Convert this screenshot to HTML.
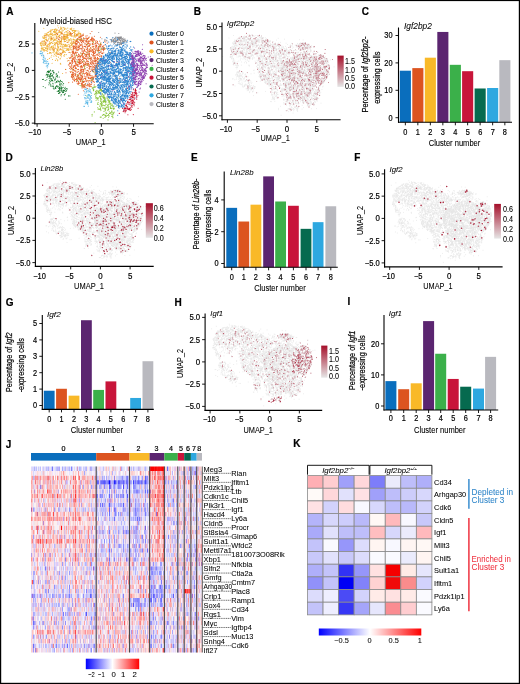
<!DOCTYPE html><html><head><meta charset="utf-8"><style>html,body{margin:0;padding:0;background:#fff;overflow:hidden}body{position:relative;width:520px;height:684px}svg{display:block}text{font-family:"Liberation Sans",sans-serif}</style></head><body><div style="will-change:transform;filter:blur(0.3px);width:520px;height:684px">
<svg width="520" height="684" viewBox="0 0 520 684" font-family="Liberation Sans" fill="#000">
<rect width="520" height="684" fill="#fff"/>
<defs>
<path id="p0" d="M133.8 81.3h0M102.6 60.7h0M105.7 100.0h0M99.7 64.5h0M107.1 71.5h0M128.3 63.1h0M114.2 70.1h0M112.3 69.1h0M121.9 48.9h0M121.2 58.6h0M120.0 53.0h0M127.2 90.6h0M124.8 90.5h0M101.6 72.8h0M130.8 56.2h0M118.2 71.5h0M113.8 106.0h0M135.3 56.7h0M112.7 73.4h0M98.4 76.1h0M121.3 61.1h0M115.0 75.1h0M107.0 92.1h0M117.2 76.6h0M123.3 69.5h0M118.1 100.3h0M106.0 56.1h0M111.4 63.3h0M110.2 87.8h0M124.2 50.4h0M109.6 45.9h0M121.8 62.1h0M124.0 42.3h0M114.2 69.3h0M104.1 57.3h0M120.6 47.4h0M128.0 54.7h0M115.2 75.0h0M131.6 65.9h0M116.1 64.7h0M113.8 56.8h0M125.8 70.4h0M110.6 96.9h0M111.1 69.8h0M130.7 66.0h0M132.9 77.5h0M100.1 78.4h0M106.5 87.6h0M111.9 53.2h0M124.6 107.3h0M122.7 47.0h0M112.7 53.1h0M124.0 84.7h0M129.4 62.9h0M112.5 70.6h0M109.7 80.8h0M127.6 52.0h0M135.4 72.9h0M101.3 83.7h0M133.4 67.2h0M116.9 82.3h0M107.1 54.5h0M129.7 79.8h0M121.1 97.5h0M121.0 78.7h0M125.9 59.7h0M134.0 53.2h0M136.0 97.9h0M120.4 85.0h0M113.2 82.1h0M100.4 68.7h0M107.2 78.6h0M119.8 72.0h0M125.9 96.3h0M119.9 100.4h0M111.9 60.8h0M115.3 71.4h0M118.6 106.0h0M115.3 92.8h0M115.8 82.8h0M126.9 95.2h0M106.8 90.2h0M109.8 58.2h0M131.7 74.2h0M102.8 69.0h0M120.5 102.0h0M120.3 94.1h0M116.0 45.3h0M111.4 97.0h0M127.1 52.7h0M132.0 87.4h0M130.9 73.8h0M127.0 92.8h0M121.7 104.9h0M124.1 79.7h0M107.8 74.2h0M117.4 65.9h0M130.3 81.2h0M108.1 86.9h0M112.3 78.7h0M107.9 48.4h0M117.4 58.1h0M108.9 48.4h0M122.6 101.7h0M116.3 84.3h0M129.0 71.3h0M116.2 45.9h0M103.2 56.9h0M99.3 72.7h0M124.2 84.7h0M118.6 100.3h0M98.0 81.7h0M110.5 94.2h0M112.6 56.2h0M109.6 69.7h0M122.7 50.7h0M100.3 87.6h0M132.2 73.0h0M126.3 47.9h0M109.6 79.6h0M117.2 91.6h0M126.1 83.1h0M115.8 76.8h0M105.2 62.1h0M115.3 77.0h0M106.6 79.8h0M96.3 81.2h0M123.7 61.7h0M132.5 64.7h0M100.8 84.0h0M116.3 66.1h0M111.2 97.7h0M104.2 85.0h0M123.3 57.6h0M116.8 101.9h0M122.3 99.1h0M130.8 72.5h0M108.6 45.9h0M105.2 93.9h0M126.0 73.9h0M118.4 72.6h0M129.9 87.0h0M120.9 107.0h0M107.1 54.0h0M122.1 62.4h0M130.2 50.2h0M97.0 82.5h0M128.2 81.6h0M105.5 89.3h0M103.5 58.3h0M105.3 67.1h0M130.1 41.6h0M107.6 58.4h0M121.7 84.9h0M102.3 85.6h0M119.8 72.9h0M103.9 85.7h0M120.8 81.9h0M104.6 61.2h0M113.9 47.9h0M126.8 58.7h0M117.7 67.5h0M107.2 54.6h0M111.5 56.9h0M114.4 89.3h0M124.7 100.5h0M128.9 89.1h0M127.8 53.5h0M113.4 55.0h0M117.3 84.6h0M135.0 75.0h0M115.8 49.9h0M98.3 71.7h0M124.1 105.9h0M121.2 72.7h0M105.6 80.7h0M121.4 106.2h0M115.9 56.7h0M97.1 76.8h0M100.0 59.6h0M122.1 72.6h0M119.4 55.7h0M114.4 96.4h0M101.1 94.3h0M106.8 83.1h0M120.5 51.4h0M132.9 64.7h0M103.0 78.6h0M128.0 80.9h0M121.5 69.2h0M108.8 87.1h0M104.2 79.4h0M126.6 53.9h0M120.1 68.9h0M126.6 61.4h0M114.2 80.7h0M111.2 93.6h0M117.6 53.8h0M119.8 64.3h0M119.7 72.8h0M123.9 91.1h0M116.1 99.5h0M126.5 89.0h0M112.8 52.4h0M104.9 77.4h0M114.3 69.1h0M124.8 96.6h0M125.5 78.9h0M124.5 104.5h0M116.3 86.6h0M95.6 69.0h0M122.3 55.3h0M109.7 52.5h0M104.1 62.4h0M118.0 80.2h0M106.0 59.7h0M115.6 51.2h0M125.7 54.4h0M113.4 62.7h0M124.7 72.5h0M105.3 69.9h0M115.4 87.5h0M121.0 82.0h0M101.9 79.6h0M116.7 63.9h0M121.4 66.3h0M132.7 83.7h0M119.8 46.2h0M119.4 79.1h0M130.4 65.0h0M108.8 86.8h0M112.8 61.6h0M131.2 91.2h0M134.4 63.4h0M122.2 82.4h0M111.9 50.9h0M104.6 85.7h0M128.7 60.5h0M106.3 87.8h0M125.1 98.6h0M131.5 56.9h0M123.3 70.4h0M107.7 49.6h0M112.7 48.1h0M121.3 87.0h0M123.7 43.0h0M122.8 54.5h0M126.3 86.0h0M114.8 92.4h0M97.9 68.8h0M99.5 86.8h0M116.8 38.1h0M105.9 91.9h0M107.6 55.3h0M103.7 92.4h0M110.4 71.9h0M126.0 92.9h0M126.3 56.5h0M114.3 53.8h0M102.5 91.1h0M133.0 67.7h0M103.8 82.9h0M122.4 76.0h0M134.0 75.7h0M108.7 59.7h0M123.2 68.0h0M131.3 86.5h0M108.8 96.0h0M105.4 55.6h0M125.0 46.9h0M133.2 61.2h0M110.9 88.7h0M126.5 58.0h0M120.2 66.6h0M121.8 96.1h0M117.7 66.9h0M107.7 66.7h0M121.3 73.7h0M96.6 78.5h0M122.7 63.6h0M113.4 95.3h0M97.5 63.3h0M113.0 99.1h0M98.8 87.2h0M126.9 88.2h0M99.0 71.4h0M118.1 80.3h0M98.0 69.1h0M121.8 85.7h0M103.4 67.4h0M132.4 82.5h0M129.7 58.2h0M103.7 62.7h0M106.8 80.9h0M98.8 66.5h0M125.9 73.7h0M119.4 60.1h0M108.7 74.3h0M136.5 60.9h0M118.5 103.6h0M117.4 80.0h0M116.4 71.5h0M108.1 94.3h0M109.8 53.4h0M126.7 92.3h0M120.3 53.8h0M107.4 60.2h0M124.8 56.3h0M109.7 85.3h0M119.8 47.2h0M104.3 77.9h0M104.9 83.3h0M106.8 80.8h0M120.6 69.2h0M132.6 75.6h0M115.3 88.9h0M107.2 55.4h0M119.5 73.2h0M111.6 73.2h0M104.7 69.7h0M105.6 76.1h0M116.6 61.1h0M115.0 70.0h0M131.0 78.1h0M118.4 74.4h0M106.1 55.8h0M126.9 67.3h0M122.0 96.7h0M105.4 54.8h0M108.9 78.6h0M121.0 52.1h0M107.8 56.9h0M99.3 72.8h0M130.4 69.2h0M108.7 68.1h0M120.2 100.0h0M106.3 70.1h0M112.7 70.6h0M130.1 78.2h0M108.7 55.6h0M125.5 74.7h0M102.2 90.8h0M122.2 43.1h0M114.8 103.9h0M126.2 42.7h0M108.1 63.7h0M107.4 88.6h0M110.6 64.2h0M102.5 62.0h0M124.1 82.4h0M99.0 85.0h0M116.0 83.7h0M122.2 55.2h0M129.5 87.0h0M118.2 66.3h0M121.3 98.8h0M133.6 73.5h0M112.7 65.3h0M125.6 84.6h0M114.4 100.3h0M121.2 52.7h0M110.1 78.2h0M121.1 49.1h0M104.9 70.6h0M126.8 86.8h0M123.9 81.8h0M109.5 97.1h0M123.9 95.1h0M116.6 77.9h0M130.8 41.4h0M134.3 71.0h0M116.2 56.1h0M127.1 56.3h0M127.8 69.9h0M107.8 56.6h0M114.2 99.1h0M124.6 87.1h0M129.5 56.0h0M112.8 100.1h0M132.7 57.8h0M130.9 54.5h0M122.5 64.0h0M104.2 79.8h0M126.0 92.1h0M103.5 42.4h0M98.5 86.0h0M127.4 88.2h0M130.2 73.1h0M102.8 70.8h0M110.9 72.8h0M121.4 90.2h0M116.1 76.1h0M113.0 78.9h0M115.1 102.4h0M117.6 39.4h0M125.0 91.5h0M123.1 91.3h0M128.2 84.0h0M97.5 77.4h0M128.5 93.0h0M119.2 71.9h0M113.2 88.0h0M108.0 73.3h0M115.7 52.8h0M101.7 61.9h0M114.5 79.3h0M113.5 103.0h0M104.0 91.7h0M108.5 97.0h0M125.1 93.9h0M104.6 60.5h0M117.5 102.1h0M133.4 47.1h0M134.0 68.2h0M131.2 65.6h0M114.1 103.2h0M111.1 83.0h0M101.7 77.6h0M107.8 78.7h0M105.8 78.0h0M119.8 74.0h0M116.0 83.1h0M124.5 82.6h0M104.3 60.5h0M116.8 94.8h0M121.0 49.0h0M102.9 90.5h0M113.4 56.3h0M114.7 54.0h0M113.9 73.1h0M98.0 78.5h0M109.6 57.5h0M129.4 63.0h0M113.2 94.3h0M128.0 97.6h0M118.4 51.0h0M114.7 85.1h0M125.2 70.7h0M128.1 90.3h0M113.9 56.6h0M91.5 82.1h0M105.3 74.4h0M107.8 81.4h0M111.8 51.9h0M116.3 57.1h0M125.7 80.4h0M130.5 81.3h0M131.9 64.4h0M106.8 54.7h0M100.1 70.0h0M116.3 59.8h0M117.0 89.9h0M112.0 53.5h0M130.7 78.0h0M109.8 86.0h0M122.6 91.1h0M111.4 48.8h0M131.9 67.0h0M101.8 60.0h0M113.2 97.3h0M101.8 69.6h0M124.9 82.5h0M101.5 68.2h0M115.8 76.6h0M108.3 83.1h0M123.7 85.5h0M121.6 95.3h0M108.4 63.7h0M126.5 67.3h0M124.3 73.8h0M117.8 83.1h0M115.5 98.4h0M119.9 102.3h0M103.2 48.1h0M109.5 65.8h0M97.9 85.2h0M113.6 57.3h0M121.1 89.0h0M134.0 79.2h0M106.6 65.1h0M114.1 103.0h0M112.9 37.6h0M99.2 79.6h0M119.5 86.9h0M107.9 65.5h0M98.6 84.4h0M99.8 83.0h0M112.0 56.6h0M112.8 58.6h0M125.3 51.8h0M120.3 92.1h0M126.6 87.0h0M118.4 105.9h0M107.1 74.7h0M129.1 67.7h0M130.1 53.7h0M97.8 76.6h0M123.2 93.5h0M120.3 82.5h0M131.7 59.0h0M130.8 56.3h0M131.8 81.1h0M130.1 68.3h0M116.7 72.2h0M121.3 73.6h0M112.9 99.9h0M108.3 46.1h0M108.3 83.5h0M111.7 82.8h0M117.8 90.7h0M118.2 85.3h0M119.9 68.9h0M99.2 63.3h0M131.3 68.8h0M128.2 66.9h0M114.9 92.1h0M118.9 101.7h0M108.0 58.8h0M107.2 89.4h0M103.1 84.1h0M112.9 79.5h0M117.5 80.2h0M101.1 76.0h0M121.4 99.9h0M130.7 58.4h0M125.7 70.7h0M111.8 94.3h0M127.0 75.7h0M110.4 84.3h0M123.8 100.9h0M106.5 68.3h0M101.4 66.3h0M104.0 71.4h0M106.8 82.9h0M131.2 89.1h0M108.0 48.0h0M124.6 96.9h0M116.9 65.8h0M126.9 83.9h0M121.5 49.9h0M133.8 68.6h0M115.9 75.3h0M113.8 55.5h0M123.5 76.8h0M107.5 63.0h0M119.7 52.8h0M103.2 59.4h0M123.4 104.5h0M96.5 66.9h0M113.7 44.0h0M126.2 100.3h0M124.5 80.9h0M108.9 92.8h0M114.0 87.7h0M125.4 95.8h0M123.4 53.0h0M97.3 75.3h0M113.4 89.4h0M130.0 91.9h0M110.2 59.3h0M110.0 54.9h0M108.7 69.5h0M108.4 86.8h0M97.2 73.0h0M130.5 84.2h0M122.6 49.6h0M97.7 79.9h0M111.7 93.3h0M106.5 46.1h0M129.0 64.0h0M106.5 73.8h0M116.3 83.4h0M124.3 56.7h0M127.7 76.1h0M107.0 69.2h0M124.0 64.1h0M129.2 54.3h0M118.4 82.3h0M118.9 81.2h0M116.5 100.2h0M118.8 53.1h0M118.4 51.3h0M132.8 78.7h0M114.0 53.3h0M108.7 60.0h0M116.5 59.0h0M122.7 60.9h0M115.5 104.0h0M113.5 70.1h0M123.2 68.2h0M103.8 74.7h0M105.8 71.6h0M103.8 79.0h0M117.8 52.8h0M124.9 76.0h0M127.0 54.4h0M116.3 87.6h0M107.9 84.2h0M113.5 85.2h0M108.5 91.3h0M126.7 88.9h0M110.2 68.6h0M127.8 53.7h0M110.6 76.8h0M130.3 81.3h0M110.0 55.9h0M116.9 87.6h0M128.4 59.5h0M97.6 71.9h0M121.4 55.4h0M104.4 76.3h0M126.2 68.4h0M119.4 108.0h0M122.4 105.5h0M133.4 61.5h0M105.3 63.3h0M97.8 80.9h0M126.2 51.3h0M126.1 70.7h0M119.4 55.9h0M114.0 67.4h0M117.3 61.4h0M105.3 92.7h0M127.9 59.4h0M101.2 66.2h0M106.4 37.5h0M103.1 60.5h0M122.2 107.1h0M114.9 41.4h0M133.1 76.0h0M96.2 72.9h0M118.2 103.4h0M126.5 80.3h0M115.0 71.4h0M102.0 85.1h0M123.8 45.2h0M120.3 92.0h0M108.3 63.0h0M133.1 59.5h0M115.7 93.8h0M118.1 104.1h0M104.0 63.9h0M115.5 86.5h0M121.6 86.6h0M119.0 93.8h0M109.4 61.9h0M107.0 71.9h0M98.6 71.8h0M114.3 57.9h0M117.7 80.5h0M117.9 72.3h0M116.4 72.3h0M130.7 65.6h0M117.4 45.6h0M115.4 70.1h0M116.9 96.7h0M115.4 100.9h0M100.0 60.5h0M123.0 98.9h0M108.6 89.8h0M113.0 100.1h0M110.2 75.2h0M105.9 77.5h0M112.8 76.3h0M117.0 68.4h0M131.0 64.9h0M127.7 68.5h0M115.7 93.9h0M125.5 50.0h0M107.5 61.4h0M101.8 59.3h0M120.1 106.0h0M125.5 81.3h0M103.2 77.3h0M117.0 64.2h0M124.3 96.2h0M129.2 83.7h0M120.6 70.8h0M125.6 101.6h0M125.3 78.9h0M96.5 65.0h0M116.8 105.0h0M117.6 55.1h0M126.1 83.8h0M133.1 64.4h0M125.5 72.4h0M133.0 75.3h0M102.1 61.6h0M120.5 82.3h0M106.9 80.8h0M112.9 99.9h0M113.9 81.9h0M115.7 75.2h0M127.1 45.4h0M126.8 54.6h0M100.6 87.6h0M131.4 55.7h0M98.0 71.6h0M134.3 57.4h0M98.8 78.5h0M125.3 58.4h0M105.2 84.3h0M122.9 94.1h0M114.9 53.1h0M99.3 52.3h0M128.7 89.3h0M100.5 82.1h0M128.6 61.9h0M127.9 82.3h0M105.9 80.1h0M126.1 89.7h0M125.4 80.4h0M102.8 62.9h0M118.4 50.4h0M128.5 87.8h0M115.1 76.3h0M116.9 78.9h0M124.8 54.7h0M119.2 103.3h0M123.6 63.1h0M107.5 72.9h0M128.0 81.7h0M128.5 80.7h0M109.9 55.4h0M133.0 64.0h0M132.5 62.5h0M129.6 56.2h0M120.9 75.8h0M119.2 55.1h0M122.3 58.7h0M105.9 89.4h0M124.8 74.5h0M107.8 63.9h0M122.3 71.1h0M111.4 58.3h0M127.0 44.9h0M111.5 99.4h0M127.9 92.6h0M119.0 80.4h0M107.0 79.0h0M129.7 71.1h0M114.0 80.6h0M129.6 89.4h0M104.2 90.1h0M127.2 74.8h0M112.5 68.0h0M124.5 99.9h0M117.7 54.7h0M119.3 60.5h0M126.4 72.2h0M118.7 63.6h0M114.5 65.6h0M123.2 64.5h0M119.3 106.5h0M135.0 72.1h0M102.4 77.1h0M111.5 68.7h0M114.4 81.2h0M122.4 91.9h0M120.8 87.3h0M101.3 73.8h0M113.7 61.4h0M95.7 71.6h0M122.5 52.3h0M118.4 95.2h0M134.3 71.9h0M117.3 82.3h0M112.1 65.6h0M118.4 107.8h0M119.7 76.7h0M123.8 102.8h0M112.7 89.5h0M124.3 59.2h0M123.3 68.5h0M128.1 81.9h0M119.5 64.3h0M108.8 73.6h0M99.2 61.2h0M104.3 80.4h0M131.2 76.0h0M132.6 71.6h0M109.5 81.5h0M102.2 83.9h0M114.6 54.7h0M120.5 54.8h0M99.5 60.8h0M115.1 50.4h0M115.7 86.5h0M129.1 86.3h0M119.3 50.1h0M128.6 55.3h0M111.2 100.2h0M111.0 65.2h0M104.9 58.0h0M103.1 87.8h0M113.0 75.1h0M110.4 81.3h0M112.9 50.5h0M125.5 56.9h0M126.8 90.7h0M104.4 62.9h0M109.4 90.3h0M129.1 79.7h0M116.4 63.9h0M99.7 85.6h0M131.5 51.0h0M128.7 76.6h0M101.2 87.1h0M114.7 79.3h0M104.8 64.3h0M111.0 59.9h0M116.4 56.0h0M116.3 64.0h0M116.9 57.5h0M118.6 96.4h0M128.6 86.4h0M124.2 96.6h0M107.5 58.3h0M103.0 83.5h0M126.1 60.7h0M102.3 62.2h0M127.4 84.3h0M120.0 54.3h0M131.0 56.2h0M118.2 65.0h0M116.3 83.2h0M100.5 94.0h0M113.0 101.9h0M128.8 62.3h0M130.0 82.0h0M116.6 63.5h0M127.1 78.5h0M98.9 65.2h0M95.8 74.0h0M129.3 71.6h0M125.5 95.1h0M112.8 57.2h0M106.4 62.7h0M127.5 71.1h0M103.0 86.7h0M105.0 78.7h0M115.8 69.4h0M123.8 98.7h0M127.9 53.5h0M122.3 62.6h0M106.1 62.6h0M98.9 79.1h0M130.1 78.1h0M105.7 77.6h0M101.8 74.8h0M98.5 66.2h0M120.8 72.0h0M120.2 55.8h0M112.7 73.4h0M125.7 56.2h0M132.9 63.1h0M130.2 59.9h0M100.7 59.9h0M129.5 55.9h0M131.8 74.5h0M113.5 79.9h0M122.9 94.6h0M111.7 82.4h0M129.6 74.3h0M106.4 75.9h0M122.5 101.0h0M123.1 98.9h0M106.2 56.8h0M106.1 60.5h0M110.0 82.5h0M102.9 85.7h0M97.6 77.7h0M106.2 60.3h0M106.7 71.9h0M115.2 67.6h0M122.7 90.7h0M124.4 65.3h0M111.2 72.4h0M108.3 81.0h0M127.3 57.5h0M133.0 63.2h0M124.4 57.2h0M127.0 73.7h0M110.3 86.8h0M120.3 103.8h0M106.2 90.7h0M129.5 48.2h0M101.6 68.0h0M121.4 105.7h0M108.7 42.0h0M125.1 58.6h0M125.4 81.1h0M107.6 69.8h0M119.6 91.6h0M122.7 102.2h0M125.7 77.6h0M116.8 88.4h0M96.5 74.5h0M104.3 59.2h0M117.3 88.2h0M111.9 97.4h0M113.3 87.1h0M121.6 50.6h0M120.3 51.8h0M123.0 84.9h0M110.7 82.3h0M116.6 97.6h0M100.5 77.1h0M100.8 92.5h0M100.5 58.5h0M124.9 85.7h0M125.2 54.4h0M108.0 53.4h0M119.8 61.6h0M107.4 75.4h0M133.4 66.4h0M106.4 82.5h0M123.8 95.3h0M122.5 61.7h0M114.6 94.4h0M112.4 74.8h0M133.8 77.3h0M107.3 79.6h0M131.6 66.6h0M132.0 59.5h0M130.9 98.4h0M102.6 88.4h0M128.8 66.8h0M116.4 86.6h0M104.9 92.9h0M133.1 84.4h0M125.9 84.6h0M114.8 73.5h0M133.8 70.0h0M103.9 67.7h0M126.7 94.7h0M117.6 79.2h0M107.4 91.5h0M107.6 71.0h0M97.1 81.1h0M101.4 78.0h0M123.1 90.8h0M103.8 77.2h0M111.5 60.7h0M118.9 57.3h0M127.3 63.7h0M113.1 88.2h0M131.6 78.9h0M119.1 57.5h0M105.5 54.4h0M110.5 59.2h0M133.6 82.5h0M115.3 65.3h0M125.3 60.6h0M93.2 78.8h0M96.3 73.5h0M116.1 71.8h0M125.9 58.8h0M112.3 66.4h0M115.8 96.3h0M96.9 73.3h0M110.1 50.0h0M121.6 85.6h0M118.8 73.1h0M113.3 97.2h0M121.2 54.9h0M133.9 63.3h0M99.8 83.9h0M120.1 87.7h0M126.6 66.5h0M131.5 81.3h0M117.5 65.6h0M117.1 92.1h0M134.4 66.8h0M104.5 72.4h0M113.3 51.7h0M92.3 70.9h0M117.9 63.1h0M131.9 79.5h0M123.0 86.9h0M114.1 65.8h0M111.7 91.7h0M114.7 92.0h0M122.1 98.4h0M109.5 98.2h0M130.9 70.8h0M117.9 43.9h0M113.2 84.8h0M120.2 69.7h0M102.9 60.6h0M126.2 78.4h0M108.0 63.4h0M118.2 75.5h0M112.9 58.8h0M122.4 80.8h0M117.4 58.7h0M98.4 80.7h0M104.4 73.9h0M131.5 77.6h0M126.7 55.5h0M110.0 62.3h0M119.2 71.9h0M111.8 98.4h0M111.8 58.4h0M129.7 53.2h0M97.1 71.4h0M101.7 60.3h0M114.4 99.5h0M122.8 86.9h0M131.1 59.2h0M129.1 91.1h0M132.3 71.3h0M116.1 56.2h0M118.0 53.8h0M100.0 87.3h0M122.2 95.1h0M125.6 65.3h0M106.9 61.4h0M131.5 57.0h0M131.0 73.4h0M108.2 78.1h0M114.4 91.3h0M112.8 66.9h0M118.9 72.4h0M127.3 91.4h0M123.4 70.6h0M104.4 65.2h0M102.2 66.0h0M105.5 44.6h0M127.1 96.9h0M102.9 58.4h0M119.1 102.1h0M110.4 48.8h0M109.4 77.5h0M113.4 65.8h0M106.9 67.3h0M104.0 68.8h0M104.6 70.0h0M130.5 85.5h0M122.4 94.9h0M108.7 65.8h0M125.0 67.5h0M105.6 83.1h0M110.4 91.5h0M117.4 94.8h0M99.8 88.6h0M102.3 60.6h0M123.4 64.9h0M114.5 84.8h0M124.8 86.5h0M107.4 95.0h0M122.4 62.2h0M99.7 72.3h0M129.7 75.5h0M125.2 95.4h0M122.1 66.6h0M129.5 73.2h0M117.4 77.7h0M112.2 60.1h0M122.1 64.0h0M108.3 97.1h0M133.9 79.8h0M118.3 85.9h0M104.2 68.2h0M122.6 65.6h0M126.4 70.6h0M127.6 40.2h0M125.2 86.7h0M132.5 74.0h0M111.1 90.0h0M131.8 67.7h0M100.6 64.1h0M96.1 70.7h0M123.2 57.4h0M99.2 66.8h0M103.9 72.7h0M116.7 92.1h0M109.3 62.2h0M100.5 68.0h0M123.0 70.6h0M119.6 90.2h0M100.7 70.5h0M100.4 84.4h0M127.8 77.6h0M123.1 60.4h0M127.0 71.2h0M124.2 86.1h0M104.4 86.1h0M127.1 84.6h0M111.2 84.4h0M127.8 54.2h0M118.8 50.1h0M107.1 96.7h0M111.4 85.6h0M128.0 96.4h0M127.1 81.0h0M107.9 73.9h0M127.1 61.1h0M126.4 95.2h0M128.7 88.0h0M115.9 98.2h0M117.0 95.1h0M119.9 101.6h0M119.9 100.6h0M118.4 62.7h0M133.8 79.9h0M127.3 80.9h0M116.3 75.4h0M133.5 63.1h0M116.6 105.1h0M115.7 101.8h0M127.4 82.8h0M114.1 59.2h0M115.5 80.3h0M96.3 79.1h0M118.8 94.0h0M126.9 83.9h0M104.0 57.4h0M119.1 70.4h0M132.9 80.5h0M117.3 45.4h0M106.1 72.1h0M103.4 68.7h0M101.6 66.6h0M105.8 88.0h0M122.4 88.0h0M114.3 51.6h0M125.6 63.7h0M100.8 65.0h0M130.5 52.6h0M128.1 82.4h0M121.3 59.6h0M117.1 54.6h0M123.4 65.7h0M113.5 61.7h0M98.4 69.5h0M117.5 65.0h0M125.1 86.7h0M110.3 56.4h0M106.2 78.5h0M108.6 65.3h0M132.5 67.7h0M111.1 68.7h0M100.9 85.5h0M125.1 69.0h0M118.7 93.5h0M110.1 73.0h0M128.0 69.0h0M125.0 63.9h0M115.5 70.3h0M108.8 72.0h0M114.4 70.1h0M108.5 89.2h0M109.8 84.8h0M118.5 85.6h0M127.5 59.5h0M135.7 84.2h0M114.1 72.2h0M106.2 77.5h0M124.1 75.6h0M106.1 61.8h0M127.7 83.4h0M114.7 81.1h0M120.2 81.6h0M125.9 52.4h0M117.8 92.5h0M109.0 76.4h0M113.3 96.8h0M120.8 89.2h0M109.0 57.5h0M123.4 77.0h0M101.9 61.5h0M106.7 69.7h0M95.8 66.0h0M120.7 99.2h0M109.6 93.7h0M123.2 75.5h0M123.8 55.2h0M109.3 84.4h0M104.0 91.4h0M106.6 71.7h0M118.6 64.6h0M132.0 72.9h0M100.6 58.9h0M104.8 62.7h0M126.3 96.9h0M118.9 60.5h0M127.6 74.8h0M106.8 62.2h0M128.7 86.6h0M126.0 69.1h0M116.3 77.2h0M103.6 58.6h0M112.1 89.0h0M122.1 48.0h0M113.1 55.4h0M114.6 95.0h0M109.9 86.1h0M107.6 56.9h0M125.7 88.6h0M121.3 66.4h0M104.7 71.2h0M101.2 58.0h0M119.3 62.3h0M109.4 89.0h0M96.5 74.3h0M106.3 59.5h0M134.6 81.2h0M124.1 96.4h0M126.4 62.5h0M120.3 96.6h0M118.6 101.0h0M110.0 58.7h0M128.8 65.8h0M119.9 58.8h0M99.3 63.8h0M106.2 66.8h0M109.4 63.6h0M113.9 101.4h0M106.4 80.7h0M113.4 68.0h0M95.2 70.0h0M118.0 105.4h0M108.4 94.6h0M132.5 70.1h0M109.7 76.6h0M117.3 71.3h0M102.0 64.4h0M119.3 83.6h0M130.1 83.7h0M123.8 57.4h0M120.9 86.0h0M131.0 53.9h0M113.6 102.7h0M131.9 76.4h0M122.4 91.5h0M105.4 67.8h0M126.1 76.1h0M115.2 99.1h0M124.3 77.4h0M109.6 61.3h0M120.6 52.9h0M121.0 71.9h0M103.9 71.0h0M109.1 54.8h0M125.7 65.0h0M129.8 104.7h0M105.9 88.3h0M118.4 73.3h0M125.9 75.1h0M124.1 49.1h0M97.3 73.4h0M122.5 46.1h0M118.7 68.9h0M120.0 101.6h0M101.2 74.4h0M129.5 53.7h0M123.9 92.1h0M129.7 61.3h0M130.8 77.5h0M124.5 57.8h0M114.1 97.0h0M115.8 66.1h0M118.5 64.7h0M101.5 81.2h0M123.9 57.6h0M111.1 82.9h0M109.4 94.6h0M113.9 58.8h0M130.0 68.6h0M111.8 100.3h0M105.9 79.2h0M130.9 67.1h0M107.6 93.8h0M132.6 69.4h0M129.5 70.9h0M121.1 56.6h0M128.2 81.2h0M108.8 82.5h0M130.7 71.6h0M132.4 82.8h0M127.9 72.0h0M102.4 85.9h0M109.5 84.1h0M96.0 67.6h0M124.8 103.4h0M100.4 84.7h0M116.1 55.9h0M108.6 51.2h0M109.5 81.4h0M118.9 92.1h0M102.0 78.3h0M116.2 65.1h0M109.8 83.5h0M133.8 65.1h0M133.1 59.0h0M116.9 88.3h0M123.8 67.3h0M131.2 68.1h0M113.0 97.8h0M123.6 100.3h0M115.4 71.6h0M132.1 67.6h0M104.1 56.0h0M103.8 56.4h0M115.4 95.0h0M101.0 60.8h0M121.4 66.4h0M117.0 58.9h0M107.0 86.0h0M109.0 50.4h0M113.5 85.4h0M130.2 82.8h0M104.1 63.0h0M113.2 96.9h0M107.2 38.0h0M133.8 72.4h0M111.9 53.7h0M127.7 79.6h0M126.7 77.4h0M103.4 60.4h0M126.6 75.2h0M119.0 102.1h0M111.0 94.0h0M119.9 47.6h0M134.0 66.6h0M118.1 100.3h0M103.0 61.4h0M126.8 81.9h0M131.4 50.0h0M112.6 91.7h0M110.2 81.4h0M114.2 72.1h0M126.9 90.7h0M111.5 48.2h0M112.6 61.5h0M121.8 56.9h0M115.9 53.8h0M108.2 62.7h0M125.4 57.3h0M123.1 97.8h0M130.2 78.0h0M98.2 63.5h0M125.4 91.8h0M128.7 63.1h0M124.7 64.7h0M131.3 68.1h0M114.5 79.3h0M120.6 98.3h0M111.4 66.0h0M111.6 89.4h0M102.6 70.9h0M113.7 72.5h0M114.5 59.0h0M132.8 75.8h0M105.0 88.5h0M124.2 79.0h0M111.8 97.1h0M116.2 77.8h0M120.2 88.9h0M120.0 65.7h0M106.6 81.6h0M124.8 65.5h0M129.5 79.3h0M100.6 86.5h0M116.3 48.8h0M122.7 43.2h0M111.9 77.5h0M103.9 62.0h0M118.2 105.4h0M114.7 81.3h0M109.0 74.6h0M102.2 67.0h0M112.1 97.0h0M121.3 58.4h0M107.6 89.8h0M134.0 82.1h0M112.5 53.5h0M130.3 64.0h0M131.1 84.8h0M96.5 70.6h0M123.0 74.1h0M120.9 80.5h0M128.2 59.6h0M132.4 70.4h0M129.8 88.0h0M113.0 84.7h0M127.9 62.5h0M102.2 74.5h0M128.6 81.4h0M108.2 79.7h0M112.9 80.4h0M115.1 76.7h0M126.8 74.2h0M110.3 49.1h0M104.9 88.3h0M116.6 65.1h0M123.0 68.6h0M122.9 92.3h0M104.5 77.4h0M97.5 85.2h0M132.3 70.2h0M117.3 79.3h0M107.3 72.7h0M105.6 91.7h0M123.4 48.7h0M104.3 89.1h0M99.5 68.9h0M103.0 71.5h0M130.7 46.9h0M106.7 73.9h0M105.0 69.9h0M118.3 67.2h0M104.6 78.9h0M116.7 68.7h0M132.4 58.3h0M129.7 88.5h0M116.1 79.4h0M129.9 55.9h0M132.0 62.3h0M121.0 80.1h0M116.6 69.7h0M130.1 93.2h0M117.7 68.1h0M133.0 66.6h0M107.1 80.9h0M125.1 97.3h0M118.2 84.9h0M97.1 67.2h0M116.8 59.6h0M125.8 70.0h0M120.0 63.7h0M120.5 55.1h0M104.5 64.3h0M125.8 68.8h0M132.9 75.1h0M124.7 51.0h0M118.5 107.5h0M118.0 83.4h0M117.4 83.7h0M107.9 77.9h0M124.2 86.2h0M108.5 90.5h0M117.4 87.0h0M106.0 91.4h0M125.5 80.9h0M102.5 67.1h0M130.1 55.1h0M100.0 65.8h0M96.3 76.6h0M127.9 67.7h0M123.1 104.0h0M106.6 73.1h0M118.4 49.7h0M96.4 69.1h0M95.6 67.8h0M118.9 94.0h0M109.4 69.7h0M129.5 57.5h0M107.5 78.8h0M119.6 63.5h0M112.4 60.2h0M123.0 107.2h0M112.9 89.7h0M111.3 65.2h0M112.6 84.6h0M113.0 73.2h0M111.8 60.1h0M99.7 68.9h0M126.5 72.8h0M123.3 59.9h0M126.0 60.9h0M121.5 74.8h0M114.6 87.3h0M118.3 70.2h0M132.7 49.7h0M108.0 68.7h0M98.7 76.2h0M116.6 97.6h0M125.4 89.2h0M121.6 64.3h0M98.0 73.9h0M112.0 97.1h0M127.6 63.2h0M128.6 61.4h0M131.9 67.9h0M112.5 87.5h0M130.1 56.7h0M123.1 57.9h0M110.7 90.1h0M103.9 82.2h0M121.3 81.7h0M108.8 92.0h0M98.4 87.9h0M127.7 73.3h0M103.5 77.2h0M117.3 48.4h0M117.2 80.4h0M120.9 78.8h0M127.1 46.5h0M101.0 61.6h0M122.6 82.5h0M109.7 96.5h0M108.0 57.2h0M101.3 69.0h0M115.5 99.9h0M122.7 79.6h0M122.9 100.5h0M110.5 79.3h0M108.9 81.6h0M110.8 71.4h0M101.9 58.8h0M119.6 91.1h0M115.6 78.6h0M108.2 86.7h0M126.6 52.2h0M100.6 93.0h0M117.7 115.2h0M107.0 66.1h0M99.0 63.6h0M96.0 71.9h0M106.8 62.2h0M114.5 62.3h0M114.0 74.1h0M120.0 88.0h0M116.8 102.5h0M120.7 50.1h0M114.9 51.4h0M110.6 78.6h0M110.9 64.9h0M100.3 87.4h0M130.5 74.0h0M119.1 71.5h0M108.5 96.4h0M108.4 52.5h0M104.3 84.1h0M130.2 91.8h0M126.9 75.6h0M123.3 81.5h0M118.8 71.4h0M102.2 78.3h0M114.3 72.8h0M101.1 59.1h0M110.9 53.4h0M126.1 90.9h0M120.6 72.4h0M121.9 55.4h0M108.3 46.5h0M97.2 69.2h0M105.5 60.1h0M126.5 93.5h0M121.0 98.7h0M102.3 70.4h0M123.9 50.7h0M115.1 98.6h0M128.0 59.3h0M110.9 88.6h0M110.3 84.7h0M122.2 74.9h0M104.1 88.2h0M127.2 95.9h0M134.7 71.2h0M104.7 92.8h0M100.3 62.3h0M108.2 78.9h0M121.8 51.9h0M123.8 74.3h0M106.3 60.2h0M102.6 87.4h0M105.1 79.0h0M122.9 53.9h0M115.2 52.8h0M129.9 58.0h0M119.6 53.2h0M113.1 48.9h0M118.4 106.9h0M112.5 83.6h0M114.2 66.1h0M119.8 100.6h0M100.6 77.5h0M110.6 66.2h0M131.2 64.3h0M121.6 56.0h0M113.4 74.6h0M96.2 71.8h0M121.3 51.7h0M106.3 83.0h0M114.9 80.7h0M129.1 67.7h0M110.8 75.5h0M116.5 99.4h0M111.7 96.7h0M108.2 60.8h0M96.5 81.5h0M100.6 84.9h0M112.5 83.9h0M125.1 62.6h0M95.3 74.2h0M116.6 90.7h0M98.6 76.2h0M112.9 86.3h0M115.0 53.9h0M118.3 59.4h0M118.7 56.0h0M108.0 91.0h0M109.0 92.0h0M130.2 58.9h0M99.1 75.5h0M108.0 55.5h0M125.4 98.0h0M121.0 98.5h0M117.5 90.2h0M123.5 48.8h0M130.4 73.2h0M108.6 87.9h0M118.3 99.6h0M111.7 95.0h0M120.9 53.4h0M116.9 60.2h0M104.5 85.7h0M116.1 63.3h0M106.3 56.7h0M100.4 71.2h0M122.6 89.2h0M131.1 69.8h0M106.7 73.9h0M122.0 72.5h0M128.1 61.4h0M118.8 57.0h0M116.6 58.0h0M103.4 77.4h0M112.6 68.0h0M98.6 81.6h0M110.1 97.3h0M118.8 95.7h0M127.6 98.5h0M103.4 72.1h0M118.5 88.8h0M117.9 66.9h0M104.2 63.2h0M109.6 92.1h0M110.0 56.9h0M110.4 45.0h0M111.2 65.5h0M108.4 68.9h0M103.9 90.4h0M113.9 102.6h0M111.5 40.1h0M100.3 88.7h0M116.1 54.0h0M132.5 80.6h0M100.9 68.6h0M112.8 53.9h0M125.0 74.9h0M101.6 82.1h0M126.2 93.5h0M122.8 60.1h0M111.0 53.7h0M125.8 82.3h0M135.3 58.9h0M118.0 84.5h0M127.9 84.4h0M113.4 71.3h0M104.4 75.5h0M118.1 98.5h0M120.5 78.6h0M97.2 79.8h0M120.3 101.5h0M127.6 78.0h0M103.6 80.1h0M128.2 71.2h0M110.8 57.3h0M119.2 51.2h0M128.0 85.5h0M103.3 56.0h0M126.5 54.2h0M108.2 56.1h0M112.8 50.8h0M132.6 83.6h0M125.2 59.0h0M121.7 50.2h0M109.0 54.2h0M117.8 110.8h0M123.8 78.0h0M126.5 69.6h0M103.8 57.9h0M117.9 98.6h0M117.3 102.7h0M113.3 85.2h0M124.6 62.6h0M101.0 66.5h0M131.0 103.8h0M129.4 52.5h0M119.3 105.2h0M111.1 92.1h0M122.5 54.8h0M114.0 76.1h0M108.8 81.0h0M125.2 69.0h0M118.0 68.6h0M123.2 74.7h0M109.3 71.7h0M122.8 53.5h0M117.7 97.3h0M113.2 95.0h0M98.0 78.0h0M108.6 66.7h0M108.4 96.6h0M116.4 69.3h0M113.5 83.8h0M97.7 76.9h0M104.5 90.9h0M129.6 68.9h0M95.5 78.6h0M97.4 69.2h0M126.7 90.1h0M116.8 55.4h0M105.0 77.1h0M100.5 78.4h0M102.3 74.7h0M115.7 93.2h0M113.6 56.6h0M134.4 66.1h0M118.6 52.5h0M117.2 50.7h0M130.8 64.1h0M105.3 89.8h0M126.1 81.9h0M112.4 59.8h0M109.7 77.8h0M123.3 82.7h0M111.0 76.1h0M125.8 98.3h0M123.6 98.4h0M117.1 75.6h0M122.3 76.0h0M118.9 59.6h0M110.9 64.2h0M113.2 78.6h0M97.7 73.3h0M111.3 66.9h0M123.2 70.6h0M124.1 67.9h0M113.6 96.5h0M104.2 80.4h0M130.6 67.2h0M107.9 90.5h0M99.8 69.9h0M124.5 95.4h0M105.9 72.3h0M101.2 59.9h0M108.1 59.1h0M134.4 70.1h0M103.3 91.6h0M115.7 64.3h0M108.1 79.4h0M131.8 80.9h0M128.4 86.8h0M111.6 70.2h0M121.7 105.4h0M111.6 93.9h0M117.7 80.9h0M102.6 63.5h0M120.8 49.3h0M123.2 89.4h0M115.1 92.4h0M109.7 88.5h0M110.2 68.5h0M111.1 50.7h0M114.8 55.8h0M109.4 57.2h0M106.2 60.1h0M125.8 66.7h0M112.1 69.7h0M134.1 75.6h0M130.8 86.9h0M132.9 85.4h0M108.5 87.2h0M133.1 70.9h0M134.1 67.8h0M115.1 102.0h0M132.4 68.6h0M119.5 64.8h0M116.1 56.3h0M113.0 81.2h0M106.0 85.8h0M130.2 55.4h0M118.8 55.8h0M129.5 95.2h0M121.4 47.7h0M131.2 69.9h0M115.5 55.5h0M109.8 80.6h0M114.8 46.1h0M109.7 73.8h0M123.5 61.2h0M119.0 85.6h0M128.8 81.2h0M106.5 59.3h0M120.3 82.1h0M103.2 76.4h0M107.2 91.1h0M133.5 78.1h0M114.2 88.6h0M118.3 89.7h0M131.0 69.6h0M121.5 104.6h0M127.9 95.4h0M119.0 45.0h0M109.4 59.4h0M96.0 79.5h0M111.3 72.5h0M134.2 73.6h0M122.3 74.8h0M99.1 62.6h0M103.7 60.6h0M128.8 86.0h0M104.9 71.2h0M121.0 79.3h0M103.3 90.1h0M104.3 67.0h0M115.6 85.3h0M103.6 63.3h0M113.9 48.3h0M105.8 66.8h0M129.2 92.1h0M113.0 84.1h0M104.7 88.5h0M111.4 52.4h0M96.2 74.7h0M121.1 62.3h0M102.0 73.6h0M115.2 51.4h0M113.4 62.8h0M118.4 101.8h0M122.2 54.2h0M123.4 76.3h0M104.9 73.8h0M122.8 95.6h0M126.9 90.7h0M120.5 55.8h0M132.7 62.4h0M127.6 57.2h0M101.9 59.9h0M122.2 63.3h0M97.9 84.7h0M134.7 72.6h0M121.2 51.7h0M104.9 76.1h0M95.3 68.7h0M123.5 45.7h0M130.9 49.2h0M120.7 103.5h0M101.6 63.7h0M112.9 88.0h0M100.6 63.8h0M122.2 95.4h0M117.1 81.5h0M104.0 65.5h0M108.2 63.0h0M99.9 74.4h0M100.5 60.5h0M120.0 53.5h0M108.6 90.4h0M114.8 72.4h0M105.9 70.3h0M106.3 80.2h0M106.0 80.5h0M116.2 101.6h0M110.2 82.3h0M122.0 106.1h0M108.7 77.5h0M133.0 65.2h0M104.5 86.4h0M123.6 106.5h0M126.7 85.0h0M131.3 72.4h0M119.3 63.0h0M118.8 91.6h0M102.4 75.3h0M110.7 84.7h0M118.4 104.7h0M101.3 77.4h0M108.0 76.8h0M114.2 69.9h0M113.5 85.5h0M112.6 83.7h0M117.8 87.5h0M113.0 51.9h0M128.4 64.9h0M121.2 73.4h0M137.0 87.2h0M102.5 73.3h0M122.2 56.0h0M109.4 93.8h0M122.6 90.2h0M113.6 73.8h0M128.8 54.4h0M127.6 54.1h0M133.2 66.4h0M123.9 61.7h0M115.9 103.5h0M109.6 54.8h0M106.3 92.0h0M120.7 80.0h0M108.0 77.5h0M110.6 66.4h0M119.2 63.4h0M120.6 73.3h0M106.5 48.1h0M127.2 66.9h0M125.1 81.3h0M117.6 85.6h0M108.5 79.2h0M129.8 67.5h0M125.0 93.8h0M130.7 64.0h0M110.1 54.6h0M123.7 110.3h0M133.1 70.5h0M98.1 74.0h0M104.4 84.6h0M127.4 82.8h0M126.0 56.2h0M100.1 60.2h0M132.1 85.4h0M113.3 67.4h0M112.0 45.9h0M97.8 87.2h0M120.7 87.7h0M108.7 59.2h0M121.1 88.6h0M128.2 68.0h0M123.8 99.8h0M106.6 92.9h0M113.6 55.9h0M123.1 87.9h0M106.7 89.9h0M132.6 78.4h0M118.3 67.4h0M132.2 82.2h0M113.9 70.0h0M133.4 59.6h0M127.2 42.0h0M100.5 86.1h0M121.9 72.9h0M124.5 82.5h0M112.8 58.9h0M95.3 70.1h0M99.4 74.8h0M127.1 71.9h0M118.2 92.0h0M103.7 70.2h0M111.1 78.3h0M112.4 83.3h0M114.5 82.4h0M127.3 74.2h0M104.7 92.6h0M121.8 100.8h0M105.3 67.6h0M109.4 85.3h0M127.7 75.6h0M111.9 51.0h0M120.1 52.5h0M98.2 63.2h0M111.4 55.2h0M109.0 57.1h0M103.6 71.1h0M109.0 62.1h0M130.5 74.0h0M100.2 69.0h0M117.8 78.6h0M125.0 56.6h0M105.3 60.9h0M119.3 58.4h0M116.0 79.8h0M105.9 73.1h0M96.6 78.8h0M115.2 88.1h0M124.4 92.6h0M133.6 58.9h0M112.9 59.5h0M115.2 86.9h0M127.2 81.2h0M117.4 56.2h0M120.1 69.5h0M112.0 100.8h0M111.3 83.7h0M121.3 98.5h0M105.2 64.1h0M108.8 97.4h0M133.4 88.8h0M98.1 86.1h0M130.9 67.5h0M109.7 61.6h0M116.1 84.8h0M124.2 61.7h0M96.3 69.1h0M109.1 79.9h0M106.9 62.1h0M117.9 61.5h0M113.3 70.6h0M106.3 85.7h0M115.2 99.3h0M118.0 64.0h0M115.6 55.4h0M121.9 50.2h0M126.8 72.1h0M102.1 75.7h0M97.5 70.5h0M100.9 78.1h0M129.6 59.4h0M112.4 80.7h0M131.6 64.0h0M99.0 87.7h0M106.4 72.9h0M119.9 97.6h0M105.8 63.2h0M132.5 72.8h0M114.6 50.7h0M103.2 77.3h0M133.0 81.2h0M121.2 59.7h0M125.1 44.5h0M128.5 93.8h0M122.4 84.6h0M119.4 90.2h0M108.9 75.5h0M126.2 69.1h0M106.1 86.4h0M129.4 68.3h0M108.1 89.2h0M112.2 57.8h0M103.9 79.5h0M123.9 67.7h0M121.1 71.2h0M123.9 78.6h0M132.2 69.6h0M130.7 65.6h0M122.6 57.3h0M101.8 66.4h0M104.3 77.3h0M126.1 85.1h0M123.4 100.0h0M114.9 82.1h0M104.4 74.0h0M110.4 75.2h0M106.1 62.3h0M109.6 78.8h0M128.1 72.1h0M129.6 77.9h0M113.0 64.6h0M107.9 73.9h0M100.4 75.4h0M101.8 81.4h0M110.7 95.8h0M132.7 59.0h0M109.5 79.5h0M115.4 93.2h0M127.9 52.3h0M133.9 61.5h0M128.8 70.4h0M120.3 59.2h0M124.5 50.0h0M123.4 45.4h0M133.2 64.4h0M98.8 61.8h0M123.1 78.8h0M103.7 77.2h0M120.8 96.3h0M133.5 56.1h0M108.4 66.0h0M123.8 62.4h0M102.8 79.8h0M125.4 101.2h0M110.7 73.3h0M131.3 80.0h0M111.7 64.5h0M105.6 59.6h0M112.9 72.2h0M99.9 67.5h0M120.6 55.0h0M113.3 88.1h0M113.8 81.6h0M114.3 96.5h0M106.7 70.5h0M116.5 81.2h0M105.4 74.0h0M125.6 67.9h0M122.8 76.1h0M130.0 76.5h0M109.5 54.9h0M109.8 92.0h0M120.9 69.9h0M110.5 54.5h0M117.9 71.8h0M112.3 56.4h0M113.9 93.0h0M102.7 83.1h0M112.1 80.8h0M99.8 70.3h0M125.9 81.1h0M129.3 60.1h0M122.9 57.9h0M117.5 85.9h0M113.3 98.4h0M122.3 100.6h0M124.3 83.9h0M108.4 56.6h0M122.7 52.6h0M104.5 77.8h0M102.2 68.3h0M117.9 84.3h0M125.0 68.0h0M110.5 75.0h0M102.4 73.5h0M125.7 60.1h0M99.5 82.6h0M127.6 61.0h0M97.0 82.1h0M118.9 95.4h0M98.1 65.2h0M126.0 81.7h0"/>
<path id="p1" d="M79.1 56.5h0M89.9 51.8h0M76.9 46.3h0M123.8 99.8h0M95.8 75.5h0M93.7 63.1h0M76.2 41.6h0M74.3 66.3h0M83.5 82.3h0M83.8 82.4h0M78.2 49.1h0M93.8 60.9h0M101.2 44.8h0M81.0 69.4h0M95.5 57.5h0M85.2 62.3h0M79.8 79.8h0M103.7 48.1h0M97.7 68.9h0M75.2 67.9h0M93.1 71.7h0M88.2 46.5h0M82.6 35.0h0M87.9 74.2h0M80.2 74.1h0M90.0 85.7h0M102.3 48.9h0M85.8 51.2h0M85.6 56.5h0M71.2 56.9h0M98.4 55.2h0M95.2 61.8h0M93.6 78.2h0M99.0 74.6h0M79.6 83.0h0M115.7 54.9h0M84.9 76.5h0M90.8 57.0h0M76.6 40.6h0M83.2 58.5h0M118.8 80.5h0M99.9 60.0h0M83.3 34.1h0M45.8 42.5h0M80.8 70.1h0M93.0 77.6h0M60.7 53.6h0M116.0 75.3h0M81.4 39.0h0M96.0 74.5h0M93.5 38.9h0M75.4 79.5h0M79.6 55.1h0M94.9 56.8h0M79.9 83.3h0M95.0 51.8h0M86.2 70.8h0M98.4 49.4h0M92.8 52.5h0M61.9 38.5h0M91.0 62.6h0M88.4 77.4h0M77.4 38.5h0M80.8 53.3h0M73.4 41.2h0M93.3 44.0h0M96.4 65.3h0M77.8 76.0h0M97.5 55.0h0M71.3 54.9h0M98.3 63.1h0M78.2 84.6h0M75.9 64.6h0M94.5 40.0h0M78.8 37.0h0M94.2 49.4h0M59.2 37.6h0M92.2 51.7h0M92.7 49.6h0M94.0 61.3h0M76.8 48.2h0M94.5 67.6h0M56.4 33.6h0M94.7 65.9h0M93.7 67.1h0M85.0 38.8h0M72.5 56.2h0M46.0 35.9h0M100.1 46.9h0M91.5 38.1h0M86.2 58.9h0M73.5 57.9h0M92.1 69.5h0M84.7 84.7h0M77.1 77.1h0M92.7 38.7h0M81.4 63.2h0M97.9 68.8h0M85.3 83.9h0M78.0 75.0h0M99.7 56.4h0M102.2 64.7h0M74.8 60.0h0M77.2 64.7h0M95.7 50.8h0M89.6 86.7h0M69.6 46.9h0M80.5 63.5h0M79.1 62.4h0M102.6 46.9h0M73.0 43.4h0M119.4 82.4h0M85.8 41.1h0M110.7 52.9h0M87.4 88.5h0M56.8 37.9h0M99.5 45.1h0M104.8 41.1h0M73.3 48.3h0M99.1 58.2h0M74.1 77.7h0M83.6 60.7h0M82.7 69.5h0M91.2 80.7h0M95.9 70.4h0M102.3 46.4h0M84.2 64.7h0M80.8 61.6h0M96.3 55.0h0M70.8 57.4h0M100.4 46.4h0M65.5 69.5h0M80.4 79.4h0M85.4 46.3h0M82.0 76.1h0M77.1 43.3h0M93.6 46.5h0M97.5 64.8h0M80.0 37.9h0M83.1 40.7h0M86.8 76.8h0M75.8 61.2h0M100.0 46.4h0M83.7 81.6h0M93.7 48.3h0M101.9 49.5h0M70.7 72.5h0M100.9 51.9h0M83.8 69.9h0M91.4 84.5h0M96.5 75.8h0M103.5 50.8h0M84.9 54.0h0M89.7 75.0h0M84.8 64.6h0M85.5 78.4h0M81.0 40.8h0M73.6 76.4h0M88.9 77.3h0M82.2 83.2h0M87.4 74.9h0M76.9 52.5h0M70.4 63.4h0M75.2 58.8h0M96.1 48.3h0M93.3 63.1h0M73.4 72.6h0M92.3 46.5h0M89.0 50.1h0M95.0 63.9h0M89.5 56.7h0M74.1 70.7h0M81.0 78.9h0M73.9 59.6h0M93.2 81.4h0M83.1 56.1h0M78.6 54.7h0M129.0 55.8h0M76.7 39.2h0M76.1 47.1h0M58.2 53.7h0M72.2 74.9h0M94.1 68.1h0M85.1 78.4h0M72.7 78.0h0M80.0 57.1h0M70.8 69.3h0M91.0 58.8h0M77.9 76.0h0M71.3 60.3h0M88.3 82.0h0M95.3 76.3h0M97.2 42.7h0M90.1 62.7h0M78.6 69.4h0M86.3 85.5h0M85.5 79.3h0M70.2 33.6h0M58.0 54.5h0M91.0 40.2h0M97.9 80.5h0M103.3 59.3h0M92.5 76.0h0M91.5 39.2h0M78.0 66.5h0M82.4 66.7h0M86.1 37.9h0M97.0 67.7h0M75.0 53.2h0M84.3 81.3h0M96.2 40.8h0M77.3 55.7h0M83.3 58.1h0M81.2 70.5h0M77.9 42.6h0M91.9 49.2h0M115.6 51.2h0M97.2 54.3h0M82.7 53.2h0M94.4 36.3h0M71.7 35.0h0M74.2 79.9h0M74.5 65.4h0M89.5 55.7h0M90.3 51.5h0M93.1 50.1h0M75.2 62.5h0M79.4 63.3h0M85.9 87.1h0M95.8 63.0h0M75.5 56.0h0M83.7 38.6h0M91.9 63.9h0M97.1 63.4h0M74.0 65.6h0M77.2 83.3h0M94.9 60.9h0M76.3 54.1h0M91.7 64.6h0M78.4 46.9h0M91.0 78.1h0M75.2 57.3h0M88.4 51.7h0M103.3 48.7h0M104.7 48.9h0M88.4 61.2h0M87.7 50.9h0M78.5 71.3h0M85.0 55.3h0M95.5 74.7h0M74.7 80.9h0M80.5 40.7h0M94.7 57.9h0M71.1 57.0h0M75.3 66.1h0M82.0 67.5h0M79.5 59.2h0M75.2 48.3h0M99.7 50.5h0M72.9 69.4h0M80.2 37.7h0M75.3 47.8h0M96.9 63.2h0M83.6 42.3h0M84.4 78.3h0M93.4 53.1h0M88.9 59.1h0M66.0 72.8h0M96.2 69.9h0M82.3 81.3h0M90.1 84.2h0M104.9 40.7h0M91.5 58.0h0M90.5 66.8h0M61.8 33.0h0M81.4 75.6h0M80.4 77.8h0M86.6 59.6h0M73.5 76.5h0M87.7 42.8h0M89.6 78.3h0M78.2 62.5h0M96.1 44.8h0M79.6 73.6h0M92.6 61.3h0M91.7 54.3h0M97.5 57.3h0M78.9 42.2h0M72.9 79.4h0M90.2 33.6h0M85.8 54.6h0M89.4 54.3h0M89.7 80.5h0M95.8 61.2h0M77.7 64.3h0M98.7 46.5h0M95.8 61.1h0M82.9 40.0h0M101.6 72.5h0M93.6 46.2h0M73.7 51.9h0M73.1 74.5h0M74.1 48.4h0M60.4 41.6h0M88.9 84.6h0M89.2 37.1h0M92.9 70.1h0M79.2 73.5h0M88.8 66.1h0M81.3 40.7h0M87.2 63.4h0M72.0 52.1h0M89.1 55.0h0M62.8 52.8h0M86.3 38.8h0M88.0 75.5h0M92.7 38.1h0M110.6 66.7h0M80.8 41.3h0M95.0 55.7h0M72.9 73.1h0M84.8 49.1h0M87.5 65.3h0M80.7 36.4h0M73.1 47.1h0M87.9 77.0h0M97.2 67.2h0M74.4 61.5h0M95.8 78.2h0M83.6 37.8h0M96.2 45.8h0M92.8 78.9h0M96.1 91.8h0M90.9 75.5h0M93.2 78.6h0M103.8 52.7h0M91.2 75.9h0M98.7 44.2h0M86.5 59.6h0M97.2 64.7h0M92.0 68.3h0M116.8 62.1h0M84.9 69.1h0M75.7 41.1h0M90.0 49.3h0M97.6 50.3h0M86.7 54.7h0M94.8 55.6h0M92.0 37.1h0M84.6 68.0h0M82.4 59.5h0M72.1 54.9h0M91.1 86.3h0M91.8 83.0h0M73.1 45.9h0M89.5 53.3h0M82.7 81.5h0M105.2 42.0h0M71.4 76.9h0M96.6 45.3h0M69.7 62.9h0M83.1 35.4h0M88.2 57.7h0M76.0 62.0h0M75.1 73.3h0M94.2 39.3h0M81.8 40.0h0M100.4 37.3h0M78.4 74.8h0M71.7 65.0h0M86.5 49.5h0M72.6 82.1h0M78.2 38.7h0M79.8 64.0h0M85.9 78.1h0M86.2 72.5h0M87.4 61.2h0M73.8 52.9h0M80.9 73.9h0M95.6 52.3h0M78.9 64.1h0M78.6 54.0h0M104.2 47.6h0M84.5 53.7h0M76.9 55.8h0M89.1 83.7h0M77.6 65.8h0M90.9 58.1h0M72.7 61.5h0M73.0 79.1h0M99.7 41.1h0M73.7 46.0h0M96.9 66.4h0M69.8 66.1h0M73.6 59.0h0M51.7 38.4h0M76.4 65.0h0M88.0 86.0h0M92.1 79.2h0M98.3 53.8h0M92.7 65.8h0M90.2 44.0h0M89.1 56.7h0M82.5 54.1h0M79.7 73.5h0M83.8 71.3h0M84.9 85.6h0M80.2 45.0h0M87.1 35.7h0M88.7 55.0h0M78.4 77.4h0M75.4 74.9h0M85.8 63.6h0M89.6 43.7h0M79.2 61.9h0M75.4 47.3h0M77.2 52.4h0M89.4 55.9h0M92.7 71.1h0M88.2 70.9h0M78.1 50.0h0M87.4 63.2h0M99.0 48.9h0M81.8 71.0h0M74.5 61.0h0M88.7 45.7h0M101.6 48.1h0M82.4 84.0h0M89.8 68.1h0M74.4 60.0h0M92.6 44.6h0M87.0 47.9h0M95.0 73.0h0M97.5 57.7h0M85.8 64.4h0M88.8 37.6h0M88.2 61.7h0M85.5 47.0h0M88.6 43.3h0M82.1 55.1h0M74.6 80.0h0M93.2 81.1h0M94.2 77.0h0M85.3 68.7h0M87.5 43.0h0M81.4 48.9h0M73.7 69.4h0M86.6 39.0h0M129.0 77.2h0M92.2 80.7h0M98.4 47.9h0M96.4 76.3h0M86.9 55.0h0M69.5 68.2h0M77.2 50.1h0M87.0 80.8h0M95.2 67.8h0M100.5 44.4h0M68.3 60.5h0M95.9 46.7h0M86.3 61.3h0M84.7 66.5h0M77.3 69.6h0M78.9 61.1h0M79.2 60.3h0M86.3 41.6h0M85.9 62.9h0M82.2 50.1h0M81.0 79.9h0M101.2 44.6h0M89.9 74.0h0M92.4 70.4h0M93.8 76.9h0M77.0 80.4h0M73.0 70.6h0M82.9 71.7h0M71.4 76.6h0M72.4 33.5h0M93.1 39.7h0M87.0 54.3h0M80.8 45.6h0M90.1 81.8h0M82.4 81.2h0M82.7 76.4h0M80.4 36.6h0M83.7 85.9h0M73.1 52.7h0M84.4 86.6h0M80.3 59.2h0M77.9 84.0h0M73.4 51.0h0M42.0 41.3h0M85.0 43.0h0M88.2 71.0h0M89.8 73.0h0M83.9 50.6h0M94.7 69.4h0M89.9 64.5h0M78.4 42.1h0M90.3 58.5h0M83.3 87.6h0M96.2 76.9h0M76.8 44.5h0M88.3 38.3h0M76.3 79.4h0M95.2 70.8h0M55.3 48.0h0M96.1 42.8h0M84.9 87.6h0M87.0 56.5h0M77.9 79.6h0M71.1 49.7h0M57.6 43.9h0M95.5 43.3h0M92.1 80.3h0M93.9 60.5h0M70.2 71.6h0M82.3 44.0h0M85.0 64.3h0M93.7 64.1h0M98.2 58.9h0M95.4 74.7h0M76.1 76.2h0M91.4 61.7h0M86.1 65.5h0M81.4 42.6h0M93.1 42.3h0M94.3 53.5h0M90.0 45.2h0M79.6 43.2h0M87.7 48.7h0M100.0 60.0h0M80.0 62.4h0M96.6 66.3h0M83.0 85.2h0M97.2 42.1h0M69.4 63.9h0M58.5 39.1h0M77.7 72.1h0M80.3 39.7h0M93.2 77.8h0M89.9 80.5h0M85.9 36.1h0M77.9 80.7h0M97.2 59.7h0M89.4 83.6h0M74.7 53.3h0M87.7 49.9h0M103.4 76.3h0M75.3 62.1h0M73.1 47.0h0M97.6 59.0h0M89.5 58.4h0M99.8 54.2h0M78.2 42.1h0M92.3 63.1h0M119.3 78.4h0M78.3 77.8h0M96.8 46.7h0M87.6 47.9h0M85.5 58.6h0M95.6 50.7h0M89.5 46.2h0M127.8 68.9h0M95.4 65.8h0M81.5 72.0h0M80.9 73.9h0M97.0 67.0h0M78.0 39.6h0M88.0 41.1h0M72.3 58.6h0M95.7 58.9h0M47.7 40.9h0M92.7 55.5h0M85.3 76.7h0M87.3 60.8h0M93.8 46.7h0M87.5 73.5h0M72.7 74.0h0M87.1 46.0h0M89.9 75.7h0M78.0 59.7h0M93.4 54.4h0M83.1 85.0h0M92.6 62.5h0M96.6 60.6h0M81.9 71.8h0M82.7 59.5h0M108.2 59.5h0M98.2 51.2h0M82.9 53.5h0M78.3 94.3h0M85.1 84.5h0M74.7 55.9h0M95.0 51.3h0M82.4 67.8h0M80.3 57.2h0M92.4 43.6h0M80.3 71.3h0M101.4 56.3h0M87.6 85.1h0M83.0 51.6h0M49.1 46.0h0M84.1 73.5h0M83.4 58.9h0M85.4 83.5h0M101.6 49.8h0M79.4 79.3h0M97.9 66.0h0M95.9 65.8h0M107.2 43.1h0M91.0 77.6h0M67.3 42.5h0M78.4 45.8h0M80.8 67.9h0M100.9 42.9h0M86.5 56.8h0M90.7 39.8h0M91.6 51.3h0M92.5 79.3h0M79.0 37.4h0M91.4 39.4h0M80.4 81.1h0M97.4 62.6h0M93.5 53.0h0M86.3 44.6h0M96.3 71.9h0M92.0 80.4h0M77.7 47.2h0M60.3 48.7h0M94.9 53.2h0M97.4 62.5h0M89.1 51.9h0M81.5 84.9h0M82.5 53.2h0M94.0 44.1h0M110.4 62.7h0M85.1 43.7h0M71.2 67.0h0M81.9 51.0h0M80.8 56.0h0M97.1 54.4h0M86.8 54.1h0M95.2 43.6h0M74.6 80.3h0M95.0 73.2h0M77.0 80.9h0M81.2 63.2h0M78.4 82.6h0M84.2 38.9h0M71.8 64.0h0M83.4 90.8h0M75.6 43.3h0M76.7 79.8h0M91.0 48.0h0M67.1 35.7h0M102.0 68.8h0M89.3 45.1h0M80.3 70.3h0M81.8 35.5h0M84.6 46.5h0M95.4 68.2h0M62.1 36.9h0M89.2 85.7h0M95.9 49.1h0M73.9 53.5h0M70.3 33.3h0M79.8 58.9h0M82.2 56.1h0M98.7 61.8h0M78.3 56.3h0M78.0 62.6h0M87.8 64.5h0M103.4 45.9h0M72.4 59.0h0M103.8 86.7h0M98.6 62.4h0M78.6 59.3h0M77.6 75.0h0M90.6 63.4h0M76.2 50.8h0M76.1 63.6h0M87.4 58.0h0M69.4 31.6h0M81.7 83.8h0M76.9 45.1h0M74.7 80.8h0M91.1 61.6h0M75.4 63.5h0M80.8 66.0h0M53.0 49.6h0M81.7 69.4h0M88.7 41.9h0M83.4 85.6h0M95.0 58.7h0M84.8 64.5h0M75.1 58.3h0M89.2 54.7h0M100.1 86.7h0M95.3 73.0h0M70.6 58.0h0M94.6 65.5h0M88.3 43.0h0M79.5 39.9h0M76.0 43.4h0M88.7 65.0h0M97.6 71.6h0M93.5 71.2h0M86.5 72.8h0M102.7 53.6h0M88.0 58.3h0M95.1 75.9h0M59.1 30.4h0M95.3 45.8h0M75.9 67.6h0M94.3 84.8h0M83.8 63.5h0M92.3 43.5h0M93.6 46.3h0M88.2 53.2h0M78.7 83.4h0M76.8 34.5h0M81.6 66.4h0M81.1 80.1h0M70.9 34.1h0M81.3 48.2h0M81.0 76.3h0M93.0 55.1h0M72.8 75.9h0M97.5 41.4h0M71.6 74.2h0M73.8 66.0h0M83.6 53.3h0M81.6 78.8h0M84.1 40.6h0M75.3 44.6h0M83.0 82.1h0M81.3 55.0h0M86.4 55.5h0M86.5 40.2h0M78.2 84.0h0M88.3 41.1h0M91.9 77.6h0M91.9 40.0h0M86.5 42.0h0M96.9 72.4h0M88.4 78.4h0M87.7 84.3h0M71.9 77.3h0M87.1 67.5h0M78.9 78.4h0M93.7 55.9h0M88.7 54.3h0M74.7 46.4h0M45.7 43.9h0M104.9 45.0h0M80.9 60.0h0M90.6 50.6h0M83.2 70.3h0M83.4 73.1h0M87.0 41.2h0M81.2 77.8h0M100.5 52.3h0M82.3 78.0h0M74.0 73.8h0M90.4 71.3h0M90.4 71.4h0M104.9 48.9h0M100.8 45.2h0M83.3 72.9h0M93.1 50.6h0M91.6 38.8h0M75.9 49.1h0M81.1 44.4h0M89.3 65.7h0M75.1 42.3h0M82.7 40.7h0M89.5 51.0h0M71.1 55.0h0M72.0 75.8h0M76.6 52.7h0M86.6 81.6h0M127.0 75.1h0M99.1 78.2h0M86.5 74.9h0M77.3 40.7h0M79.0 56.1h0M99.7 46.4h0M82.4 74.0h0M76.6 81.6h0M70.5 67.3h0M95.0 72.0h0M81.9 45.8h0M85.5 40.9h0M93.3 71.5h0M89.3 75.0h0M92.2 39.0h0M99.8 47.3h0M87.5 39.5h0M90.4 39.6h0M99.4 53.0h0M79.5 46.4h0M84.9 58.5h0M94.9 52.9h0M75.9 65.6h0M88.2 80.8h0M77.7 57.6h0M75.0 47.0h0M96.1 70.8h0M95.3 63.6h0M80.6 56.4h0M73.7 47.1h0M83.6 71.3h0M86.8 64.0h0M79.9 63.4h0M83.2 86.5h0M84.5 61.1h0M92.2 60.4h0M75.5 74.9h0M72.8 78.1h0M64.8 39.6h0M93.6 58.0h0M78.0 56.8h0M81.8 79.1h0M98.8 50.6h0M79.5 77.9h0M80.8 81.6h0M72.9 55.8h0M64.2 36.3h0M87.1 44.2h0M97.2 79.9h0M104.0 49.6h0M75.3 68.6h0M84.1 65.4h0M80.5 72.7h0M68.8 82.6h0M87.4 38.4h0M82.1 75.9h0M92.4 67.8h0M78.4 49.4h0M90.5 60.3h0M72.6 60.4h0M90.3 78.7h0M76.5 78.3h0M73.8 66.6h0M93.6 52.4h0M77.9 65.4h0M101.0 51.3h0M86.8 72.8h0M81.8 84.5h0M91.4 39.8h0M72.9 62.6h0M94.3 59.1h0M78.8 75.8h0M84.9 57.6h0M62.0 33.9h0M81.6 65.5h0M75.5 52.0h0M82.1 88.0h0M57.6 34.4h0M97.6 50.7h0M71.3 68.6h0M72.8 69.3h0M89.9 41.1h0M76.9 72.0h0M72.6 59.3h0M81.5 60.7h0M83.1 56.7h0M80.3 35.1h0M84.6 86.6h0M83.3 64.7h0M76.3 59.8h0M73.7 49.7h0M72.3 72.1h0M80.0 72.5h0M75.1 75.5h0M82.0 62.5h0M97.6 59.3h0M83.0 81.1h0M93.4 79.2h0M78.6 78.1h0M93.5 69.5h0M93.1 55.9h0M82.6 61.4h0M87.2 74.9h0M100.9 88.6h0M92.1 77.6h0M91.2 86.8h0M82.4 62.5h0M83.4 65.9h0M89.4 85.7h0M95.0 55.3h0M97.8 48.3h0M82.5 41.4h0M81.8 83.1h0M86.3 52.3h0M79.7 40.0h0M78.5 47.5h0M72.0 68.1h0M95.5 60.3h0M82.0 85.9h0M81.7 35.8h0M75.7 71.8h0M75.9 74.1h0M80.8 52.7h0M84.8 53.8h0M96.2 67.8h0M80.2 48.5h0M101.7 53.5h0M79.5 74.0h0M70.6 62.9h0M91.0 84.2h0M84.1 46.3h0M97.9 50.3h0M82.4 57.3h0M87.0 44.1h0M77.2 41.6h0M95.0 61.8h0M95.3 58.7h0M91.8 59.5h0M96.3 65.7h0M74.4 57.7h0M96.8 58.7h0M69.6 58.3h0M98.3 47.4h0M79.8 48.1h0M78.6 81.5h0M74.3 54.4h0M83.1 53.1h0M73.5 67.6h0M75.2 45.9h0M76.8 49.3h0M90.4 58.9h0M97.3 43.5h0M101.4 56.9h0M87.7 46.3h0M81.2 66.8h0M79.8 49.0h0M103.3 49.7h0M75.6 43.4h0M83.6 57.1h0M85.2 81.1h0M96.8 45.5h0M78.8 62.1h0M91.5 66.7h0M100.1 55.9h0M88.8 85.8h0M92.3 50.0h0M80.9 80.1h0M83.5 69.4h0M59.2 39.8h0M98.1 64.3h0M78.3 66.2h0M97.2 67.9h0M72.5 52.2h0M98.2 58.6h0M98.8 43.7h0M82.4 57.3h0M95.5 66.2h0M78.3 59.4h0M89.0 68.7h0M84.5 49.9h0M89.6 66.9h0M76.3 68.3h0M82.3 82.8h0M83.0 79.3h0M83.1 48.0h0M99.6 64.5h0M83.4 79.1h0M95.5 61.1h0M89.8 41.5h0M88.2 74.0h0M86.2 80.0h0M103.6 48.1h0M72.6 51.2h0M81.8 42.5h0M81.0 39.3h0M90.6 47.5h0M82.5 54.6h0M77.7 76.7h0M73.8 74.8h0M69.1 52.5h0M93.1 66.4h0M89.9 69.3h0M82.0 77.8h0M87.6 70.4h0M91.7 82.5h0M80.1 66.8h0M96.6 46.5h0M72.9 77.1h0M95.8 47.4h0M103.7 48.8h0M86.4 61.0h0M79.8 61.0h0M82.0 87.0h0M82.4 86.5h0M73.9 80.1h0M114.6 75.6h0M82.6 46.0h0M91.8 50.5h0M79.1 47.8h0M75.5 52.9h0M84.0 84.5h0M81.9 36.5h0M103.9 47.3h0M93.4 40.2h0M88.5 63.4h0M76.4 44.0h0M86.4 45.0h0M88.2 43.7h0M87.5 54.1h0M98.6 46.3h0M79.7 45.0h0M100.4 62.2h0M87.1 52.3h0M82.6 77.5h0M90.5 78.0h0M72.7 53.6h0M93.5 51.4h0M91.5 70.0h0M89.3 54.8h0M76.1 35.9h0M95.4 41.8h0M83.7 63.0h0M96.2 49.9h0M71.9 65.9h0M73.9 48.2h0M94.8 40.2h0M92.2 40.5h0M83.4 51.9h0M76.7 78.2h0M81.4 38.0h0M97.8 59.3h0M75.0 70.9h0M80.7 75.4h0M91.9 31.5h0M78.6 49.8h0M82.8 48.7h0M74.4 80.9h0M72.7 72.8h0M76.9 44.4h0M72.2 58.5h0M88.9 72.0h0M92.7 41.2h0M84.3 74.9h0M74.2 80.2h0M101.7 55.6h0M102.1 52.9h0M94.0 81.9h0M84.6 58.4h0M89.8 49.3h0M72.5 61.1h0M83.6 41.1h0M72.4 63.3h0M68.4 64.9h0M73.4 74.7h0M73.3 49.0h0M84.9 44.0h0M92.3 40.8h0M86.9 72.6h0M75.6 43.6h0M94.4 82.3h0M91.8 57.7h0M85.3 73.4h0M81.4 83.3h0M80.1 79.8h0M82.1 84.9h0M71.7 61.9h0M81.6 72.2h0M74.6 70.8h0M82.5 47.1h0M77.9 78.7h0M84.7 51.1h0M97.5 61.6h0M91.2 78.8h0M73.2 67.2h0M86.1 58.8h0M90.5 66.4h0M86.9 73.9h0"/>
<path id="p2" d="M68.2 37.3h0M61.5 40.3h0M49.6 52.2h0M70.4 43.3h0M61.1 46.7h0M79.7 39.8h0M76.6 46.9h0M68.9 44.4h0M54.7 34.9h0M65.8 45.0h0M56.7 53.1h0M79.6 33.5h0M44.5 37.8h0M49.0 34.5h0M79.8 44.8h0M63.5 34.9h0M51.0 53.4h0M71.6 45.3h0M48.7 48.0h0M59.1 32.5h0M45.5 44.4h0M56.2 32.6h0M59.4 43.6h0M63.9 51.5h0M70.8 38.6h0M56.2 53.4h0M56.5 42.5h0M57.2 37.1h0M61.2 54.9h0M53.3 37.3h0M64.3 40.9h0M59.2 31.5h0M61.5 33.1h0M76.2 35.6h0M67.9 38.4h0M56.3 35.7h0M45.0 37.6h0M44.6 35.2h0M52.2 43.2h0M71.7 33.5h0M68.1 50.1h0M60.7 27.0h0M64.2 38.3h0M42.0 47.1h0M54.1 53.0h0M65.1 38.1h0M74.8 30.5h0M64.7 51.9h0M57.8 25.7h0M73.0 30.2h0M58.5 57.3h0M58.0 43.0h0M73.3 39.0h0M44.0 47.2h0M61.9 29.6h0M74.2 35.3h0M75.6 31.5h0M53.5 31.5h0M60.4 49.4h0M77.6 39.1h0M59.2 36.5h0M57.2 30.1h0M51.7 55.2h0M46.4 47.0h0M50.8 34.8h0M49.5 43.2h0M78.6 33.8h0M56.8 53.3h0M70.9 47.1h0M65.7 38.0h0M71.4 29.5h0M70.6 35.6h0M67.1 58.6h0M72.8 43.7h0M41.3 48.5h0M52.4 29.5h0M44.4 41.0h0M62.7 33.3h0M46.5 39.3h0M87.9 80.4h0M61.0 33.8h0M57.4 40.9h0M43.9 50.3h0M61.9 32.9h0M68.8 50.4h0M63.6 39.6h0M73.1 42.4h0M79.3 37.5h0M64.8 41.5h0M61.1 40.0h0M77.5 39.3h0M83.4 35.5h0M71.6 75.1h0M48.3 44.4h0M38.8 31.2h0M73.5 32.3h0M61.3 37.8h0M75.9 70.5h0M51.0 31.0h0M68.9 41.0h0M64.1 46.8h0M51.3 46.4h0M47.2 51.4h0M67.8 28.1h0M72.8 46.3h0M46.1 37.8h0M59.7 40.9h0M49.2 37.1h0M52.1 63.3h0M94.4 48.8h0M43.0 41.5h0M52.9 43.1h0M71.8 28.1h0M50.7 40.3h0M43.7 49.4h0M61.9 39.6h0M53.2 45.6h0M57.8 48.7h0M55.8 28.8h0M69.1 57.5h0M80.7 33.8h0M49.1 43.8h0M41.7 49.8h0M48.1 46.8h0M75.1 42.3h0M56.6 36.4h0M61.3 28.5h0M42.7 48.8h0M57.7 60.8h0M60.2 37.9h0M63.2 27.5h0M63.9 51.0h0M52.9 43.4h0M55.0 37.0h0M55.8 53.1h0M60.4 46.0h0M50.2 38.9h0M43.9 42.1h0M56.8 51.6h0M74.1 32.6h0M90.9 44.2h0M74.1 35.7h0M46.7 48.5h0M55.9 30.0h0M68.0 48.2h0M49.5 41.8h0M54.8 40.5h0M44.2 38.5h0M50.4 52.5h0M61.0 54.4h0M76.2 30.8h0M90.5 86.3h0M70.2 28.6h0M68.7 42.1h0M80.1 33.7h0M54.3 49.5h0M65.2 52.4h0M61.6 44.4h0M48.2 36.2h0M59.9 52.7h0M89.5 74.7h0M50.2 34.8h0M62.9 37.7h0M60.1 58.9h0M51.8 33.0h0M63.2 34.5h0M44.1 45.3h0M64.2 41.7h0M88.6 38.3h0M46.4 39.2h0M60.6 28.8h0M51.5 30.0h0M88.2 64.4h0M80.2 37.8h0M52.4 33.7h0M72.3 36.1h0M71.9 41.2h0M50.4 30.1h0M77.6 34.0h0M61.6 41.4h0M63.2 30.6h0M65.9 69.2h0M61.2 53.1h0M53.1 35.6h0M53.1 34.6h0M62.2 49.1h0M75.8 33.9h0M70.2 33.9h0M67.1 32.1h0M69.0 49.7h0M57.4 34.8h0M78.1 33.4h0M54.4 54.5h0M60.8 53.7h0M93.2 41.4h0M56.7 56.3h0M59.0 31.5h0M74.9 40.2h0M92.8 47.5h0M64.0 28.0h0M69.2 52.3h0M48.5 39.7h0M61.3 56.7h0M68.0 48.9h0M47.7 32.6h0M52.9 38.7h0M69.3 60.8h0M43.8 38.5h0M59.7 37.5h0M50.9 47.5h0M51.7 47.4h0M60.9 43.2h0M57.5 46.9h0M47.4 49.4h0M41.7 42.9h0M49.8 47.7h0M47.2 40.1h0M51.1 57.1h0M89.1 40.3h0M81.0 34.5h0M40.7 45.3h0M58.0 49.2h0M57.3 49.7h0M48.8 38.5h0M57.2 42.1h0M57.7 59.9h0M78.0 39.4h0M55.4 60.4h0M52.0 46.5h0M47.1 48.8h0M67.7 38.1h0M49.6 45.0h0M50.1 33.9h0M88.4 73.8h0M61.8 28.1h0M75.5 37.1h0M62.6 52.7h0M51.9 37.1h0M71.7 60.6h0M52.6 35.5h0M63.9 38.5h0M44.9 38.0h0M78.0 30.9h0M59.3 42.4h0M47.5 53.6h0M49.4 58.4h0M65.4 36.8h0M51.7 34.6h0M58.2 41.5h0M56.1 54.7h0M64.1 37.2h0M61.3 44.6h0M42.3 44.2h0M67.7 34.5h0M66.8 46.8h0M74.9 35.2h0M51.4 36.7h0M105.2 48.6h0M51.1 48.8h0M60.7 55.4h0M46.6 50.2h0M50.4 37.8h0M74.5 34.4h0M54.2 39.7h0M50.2 36.5h0M76.4 68.5h0M42.9 49.9h0M56.2 42.6h0M57.4 54.1h0M53.3 51.9h0M67.4 61.0h0M56.9 38.8h0M50.9 33.2h0M66.5 38.1h0M59.5 35.5h0M54.6 44.1h0M43.8 28.2h0M47.7 35.3h0M44.4 36.6h0M44.6 41.5h0M67.3 49.5h0M50.1 43.0h0M73.6 42.6h0M67.3 36.0h0M79.2 32.0h0M76.9 39.7h0M44.5 44.7h0M66.8 34.6h0M74.9 35.2h0M66.1 50.5h0M70.4 52.7h0M60.4 63.2h0M64.8 39.3h0M70.8 35.4h0M68.1 35.4h0M63.8 37.5h0M92.1 41.1h0M76.3 64.5h0M69.1 48.9h0M54.4 30.3h0M53.9 47.5h0M66.0 45.7h0M46.2 34.2h0M48.9 35.4h0M62.6 51.7h0M75.3 43.5h0M54.9 34.5h0M59.3 54.0h0M58.7 54.2h0M60.7 41.4h0M46.5 40.7h0M44.1 50.5h0M60.6 43.2h0M62.1 39.3h0M66.7 37.7h0M65.1 34.7h0M72.6 31.1h0M66.8 40.4h0M73.9 28.7h0M45.1 33.6h0M53.2 46.5h0M73.9 36.9h0M43.7 43.2h0M60.1 43.9h0M73.5 39.8h0M60.8 49.8h0M43.7 55.6h0M63.1 44.4h0M79.5 37.3h0M80.6 33.4h0M67.1 42.0h0M77.9 50.2h0M71.3 28.6h0M58.2 51.7h0M45.2 45.3h0M54.3 40.0h0M68.4 32.8h0M66.4 50.0h0M57.2 50.5h0M54.5 34.6h0M45.0 35.0h0M61.0 27.7h0M65.0 37.0h0M42.8 36.9h0M72.9 39.7h0M57.6 33.1h0M60.9 41.5h0M53.1 41.5h0M58.8 39.6h0M65.1 44.9h0M74.4 31.2h0M68.9 40.1h0M55.6 34.6h0M71.3 39.9h0M51.3 38.1h0M77.3 34.3h0M58.5 57.0h0M64.8 54.7h0M71.1 45.4h0M73.7 39.4h0M64.6 45.8h0M69.6 34.7h0M41.9 48.1h0M66.4 31.5h0M50.7 31.4h0M74.0 75.8h0M53.5 40.5h0M74.9 39.5h0M51.7 34.5h0M60.8 64.1h0M78.3 32.9h0M54.1 38.9h0M61.5 36.3h0M51.2 39.5h0M71.5 56.5h0M72.1 30.6h0M57.4 29.8h0M50.1 44.0h0M70.1 66.4h0M66.9 40.1h0M72.3 49.9h0M71.3 43.6h0M71.8 41.2h0M63.7 50.1h0M63.4 52.3h0M52.9 52.2h0M67.8 30.6h0M70.9 43.0h0M59.5 49.9h0M57.0 41.8h0M64.0 44.3h0M58.5 32.7h0M67.0 37.1h0M56.4 58.7h0M67.2 45.1h0M46.1 35.2h0M55.9 39.0h0M56.6 38.7h0M53.2 50.4h0M73.9 30.4h0M51.0 49.1h0M62.3 47.7h0M64.5 32.8h0M58.1 47.3h0M76.9 35.4h0M41.0 50.7h0M65.5 41.4h0M46.6 46.8h0M63.4 51.2h0M61.4 39.4h0M69.7 46.2h0M50.2 42.3h0M62.0 30.2h0M64.7 35.9h0M47.7 59.5h0M59.1 42.3h0M90.7 48.5h0M74.7 32.2h0M55.4 31.3h0M56.8 48.9h0M63.9 55.6h0M70.0 34.4h0M56.5 30.9h0M59.1 35.7h0M55.9 34.6h0M52.7 48.1h0M69.5 34.7h0M67.0 33.0h0M71.2 34.6h0M63.1 47.0h0M52.2 29.9h0M81.2 55.4h0M71.0 39.9h0M50.7 50.0h0M89.7 49.1h0M63.3 51.3h0M65.1 39.3h0M66.2 29.0h0M76.4 64.1h0M44.2 49.7h0M40.7 44.5h0M69.8 45.3h0M40.7 42.6h0M44.7 35.6h0M76.6 35.7h0M67.2 49.9h0M53.7 31.6h0M53.4 49.7h0M64.5 54.5h0M66.4 45.2h0M70.2 28.5h0M48.5 32.5h0M57.2 52.7h0M50.8 47.8h0M68.4 33.0h0M78.8 34.3h0M57.0 38.3h0M64.1 45.9h0M66.3 37.0h0M60.8 54.0h0M54.3 49.9h0M72.1 44.4h0M64.3 51.6h0M76.9 34.4h0M49.7 49.0h0M61.8 43.7h0M76.1 40.8h0M59.8 32.0h0M53.4 48.2h0M59.1 36.1h0M66.1 34.6h0M55.1 32.3h0M71.7 42.2h0M45.2 47.6h0M57.2 33.2h0M49.7 31.3h0M62.4 50.2h0M62.1 31.5h0M66.0 45.4h0M47.4 48.6h0M65.1 28.2h0M58.0 50.4h0M64.6 36.3h0M58.8 44.7h0M80.8 34.4h0M52.5 59.5h0M60.2 31.6h0M77.6 35.7h0M61.5 42.1h0M67.8 37.1h0M70.7 49.0h0M65.7 44.3h0M58.4 27.7h0M68.1 30.6h0M57.6 34.3h0M40.2 43.5h0M58.3 36.6h0M75.7 30.6h0M43.5 44.9h0M45.6 48.4h0M70.9 33.0h0M69.9 34.3h0M57.5 45.7h0M61.7 44.7h0M56.1 40.5h0M46.8 45.6h0M67.1 32.0h0M57.8 44.7h0M47.3 47.1h0M50.6 43.8h0M60.2 32.3h0M61.6 41.6h0M55.3 34.1h0M71.1 47.5h0M60.1 29.5h0M55.3 43.7h0M46.7 33.3h0M79.0 35.9h0M68.1 46.3h0M58.5 44.7h0M54.9 29.4h0M67.9 46.1h0M59.5 54.7h0M47.7 46.4h0M57.2 49.2h0M82.8 84.2h0M64.2 56.2h0M49.2 53.4h0M71.5 71.2h0M63.4 37.1h0M50.6 31.9h0M55.0 43.1h0M63.5 38.5h0M54.0 29.6h0M64.3 38.9h0M47.9 44.2h0M74.9 41.1h0M58.7 47.9h0M72.1 30.4h0M70.6 32.2h0M47.7 45.2h0M64.0 48.3h0M60.4 63.9h0M66.8 36.3h0M65.3 46.2h0M81.4 39.1h0M54.9 48.6h0M71.4 44.9h0M50.9 52.5h0M72.8 56.9h0M51.1 40.3h0M54.5 51.2h0M51.5 42.4h0M52.3 38.9h0M45.7 39.5h0M61.1 42.1h0M47.4 34.3h0M56.0 52.2h0M57.1 50.6h0M68.5 34.9h0M69.6 39.6h0M76.7 78.3h0M54.8 42.6h0M79.8 36.6h0M56.0 42.9h0M55.2 32.7h0M55.3 32.6h0M48.7 32.1h0M63.4 36.8h0M77.1 40.8h0M52.5 48.8h0M69.8 40.2h0M61.5 40.8h0M64.3 38.4h0M64.4 34.5h0M69.6 34.1h0M41.7 45.4h0M44.3 43.3h0M63.7 36.1h0M61.5 33.4h0M65.8 39.0h0M80.9 34.6h0M60.3 58.4h0M41.7 46.8h0M64.9 29.0h0M44.5 43.2h0M66.3 54.6h0M44.9 40.1h0M51.1 34.6h0M56.4 43.6h0M44.8 49.9h0M53.9 32.3h0M64.1 27.9h0M69.8 32.9h0M70.0 35.8h0M67.4 34.6h0M43.1 40.7h0M74.4 36.1h0M60.7 46.2h0M56.5 29.8h0M46.2 43.0h0M61.5 53.5h0M65.2 48.3h0M55.0 45.0h0M74.6 78.5h0M41.0 43.6h0M55.2 45.9h0M47.5 49.7h0M77.7 34.9h0M61.0 32.4h0M43.2 45.2h0M46.5 40.3h0M44.2 35.4h0M68.4 39.7h0M60.2 34.9h0M44.1 51.3h0M45.3 35.2h0M43.3 37.3h0M43.1 37.9h0M67.8 33.3h0M55.8 55.7h0M55.1 44.5h0M44.9 50.0h0M60.4 49.5h0M70.3 29.4h0M64.3 29.5h0M58.8 46.6h0M67.4 37.4h0M59.8 43.8h0M61.4 32.2h0M70.7 48.9h0M53.9 56.1h0M59.2 35.2h0M60.9 33.0h0M60.2 38.1h0M67.9 35.4h0M46.2 37.2h0M45.9 50.3h0M53.1 47.5h0M66.8 48.6h0M75.3 43.4h0M65.8 31.9h0M55.1 39.4h0M52.1 39.6h0M61.6 54.6h0M53.9 50.6h0M75.2 37.0h0M46.8 34.6h0M62.6 73.5h0M42.5 43.1h0M61.5 49.7h0M47.5 48.5h0M65.9 46.5h0M65.9 36.1h0M54.4 49.1h0M43.0 48.1h0M71.6 36.3h0M46.0 43.3h0M45.2 41.9h0M74.7 31.7h0M54.5 44.5h0M49.0 49.7h0M59.1 42.1h0M60.1 41.7h0M74.7 33.6h0M51.3 39.1h0M62.5 46.1h0M74.4 43.1h0M54.6 31.4h0M54.3 32.6h0"/>
<path id="p3" d="M138.9 65.1h0M124.7 64.5h0M152.2 65.3h0M143.3 77.4h0M139.0 60.3h0M136.3 70.1h0M133.6 74.1h0M130.9 58.3h0M140.6 82.7h0M131.9 76.1h0M136.2 73.2h0M138.7 75.3h0M139.1 55.4h0M144.4 62.1h0M128.1 72.5h0M136.1 75.1h0M136.1 81.6h0M141.4 57.3h0M135.0 76.5h0M136.0 73.8h0M134.7 77.4h0M142.5 63.3h0M131.6 53.6h0M134.9 53.5h0M129.9 54.7h0M136.6 68.7h0M143.9 70.7h0M138.2 83.6h0M137.8 55.9h0M143.4 60.8h0M137.1 69.9h0M143.5 55.9h0M134.6 64.5h0M131.6 88.0h0M136.4 84.7h0M144.7 73.0h0M115.0 65.7h0M141.5 74.6h0M144.2 74.3h0M135.6 75.2h0M142.2 77.7h0M144.9 73.3h0M146.3 58.4h0M146.5 73.6h0M141.5 75.0h0M140.3 57.4h0M140.0 74.5h0M145.4 68.3h0M138.0 51.2h0M134.4 66.1h0M135.3 69.4h0M139.6 75.7h0M118.9 62.0h0M136.8 63.6h0M145.2 58.6h0M141.6 73.0h0M132.0 55.1h0M137.2 72.7h0M136.7 51.7h0M134.2 70.3h0M140.2 70.7h0M132.7 66.3h0M134.2 64.4h0M132.4 64.9h0M142.6 44.8h0M146.3 67.9h0M137.4 69.2h0M132.0 66.7h0M136.0 64.7h0M141.4 65.8h0M136.2 63.8h0M131.7 56.3h0M142.7 60.9h0M140.7 70.9h0M137.1 87.0h0M139.7 83.2h0M139.0 73.3h0M109.0 65.7h0M134.0 78.4h0M134.2 83.0h0M140.3 65.7h0M135.3 72.1h0M139.4 58.4h0M140.1 76.1h0M136.1 79.2h0M137.4 64.2h0M138.3 61.1h0M142.6 64.8h0M145.1 76.1h0M136.8 87.5h0M132.0 63.1h0M138.0 71.3h0M141.5 69.9h0M132.7 65.4h0M136.9 69.9h0M140.3 60.8h0M138.9 59.0h0M101.8 59.5h0M135.2 68.8h0M134.9 82.9h0M139.9 88.9h0M133.4 61.1h0M143.1 76.3h0M135.2 55.8h0M143.0 75.4h0M138.9 61.8h0M133.7 66.4h0M136.7 81.4h0M134.8 82.6h0M129.7 85.7h0M138.0 72.5h0M138.0 79.8h0M133.6 58.4h0M140.9 59.5h0M144.1 55.5h0M132.1 71.6h0M130.8 64.3h0M136.0 55.3h0M138.7 51.1h0M141.0 61.9h0M137.8 69.7h0M145.6 72.1h0M133.4 69.1h0M135.2 70.3h0M142.5 70.9h0M138.2 54.4h0M139.1 51.2h0M148.2 57.0h0M141.7 67.2h0M133.2 73.1h0M138.4 54.8h0M142.9 70.6h0M137.5 65.0h0M143.4 65.3h0M141.0 82.9h0M135.4 77.0h0M137.5 73.1h0M134.5 79.0h0M138.2 78.8h0M144.8 74.8h0M131.7 55.5h0M138.5 78.7h0M136.6 51.9h0M137.8 54.2h0M141.3 75.7h0M123.5 103.3h0M137.3 73.6h0M145.0 56.0h0M132.4 73.8h0M142.3 65.0h0M139.7 61.3h0M146.5 67.1h0M143.0 58.3h0M140.8 54.4h0M135.6 81.8h0M140.3 74.9h0M141.9 68.6h0M138.1 67.6h0M136.6 74.1h0M147.0 74.0h0M138.4 82.8h0M137.7 74.7h0M137.1 84.0h0M142.6 67.4h0M143.4 71.7h0M139.3 74.1h0M141.6 54.7h0M133.1 79.6h0M144.6 70.0h0M124.7 80.0h0M141.4 65.4h0M146.4 71.6h0M140.5 52.0h0M144.8 57.9h0M135.5 59.3h0M144.1 64.4h0M141.1 83.0h0M132.1 66.6h0M137.4 76.8h0M133.9 65.2h0M139.1 83.4h0M140.7 64.7h0M138.2 84.4h0M100.3 83.1h0M137.9 85.2h0M142.4 56.8h0M137.2 56.1h0M136.9 66.5h0M135.5 55.3h0M139.7 53.9h0M138.8 78.4h0M145.2 70.9h0M142.2 60.5h0M138.0 56.0h0M135.6 79.9h0M140.8 60.1h0M135.7 65.5h0M140.3 73.0h0M133.5 62.5h0M137.6 66.1h0M139.2 78.5h0M132.5 56.9h0M136.2 79.0h0M134.2 62.4h0M136.0 70.4h0M133.9 74.7h0M142.0 81.7h0M135.5 65.3h0M139.5 69.5h0M142.1 72.7h0M105.1 60.8h0M140.4 72.8h0M136.8 65.2h0M112.9 90.3h0M134.3 83.2h0M137.3 52.3h0M140.8 53.3h0M141.9 56.7h0M134.2 59.0h0M130.2 80.3h0M134.1 73.8h0M146.6 64.5h0M142.7 53.3h0M144.4 73.1h0M135.0 79.7h0M137.5 53.9h0M144.6 65.5h0M141.1 60.7h0M137.7 86.3h0M133.9 81.0h0M144.0 76.9h0M141.7 80.7h0M136.9 67.6h0M135.4 70.5h0M133.3 78.5h0M133.0 69.3h0M133.0 58.8h0M137.0 81.7h0M133.5 75.3h0M136.2 69.8h0M140.6 58.6h0M134.1 58.6h0M134.7 58.0h0M140.1 81.0h0M139.1 92.1h0M144.2 65.2h0M140.0 75.3h0M132.6 64.3h0M137.7 65.6h0M136.6 70.3h0M140.2 84.6h0M133.4 61.7h0M134.3 60.2h0M142.5 79.4h0M145.6 69.1h0M140.2 67.6h0M141.0 73.2h0M138.5 81.9h0M143.8 78.3h0M132.6 55.4h0M133.0 69.4h0M140.8 62.2h0M139.9 73.3h0M145.5 59.8h0M137.3 51.1h0M143.0 72.3h0M129.2 86.5h0M139.5 66.0h0M144.4 69.4h0M142.1 72.9h0M131.8 62.4h0M136.5 56.1h0M146.8 64.0h0M141.0 79.7h0M136.8 73.6h0M144.6 73.2h0M135.8 69.4h0M114.2 61.6h0M135.0 78.9h0M146.1 83.8h0M133.7 60.4h0M145.6 75.5h0M134.9 61.3h0M142.6 79.0h0M140.9 62.7h0M134.6 48.0h0M132.7 52.0h0M146.7 67.4h0M107.4 94.7h0M147.2 65.8h0M145.5 73.7h0M144.2 78.5h0M143.7 76.8h0M145.9 65.1h0M138.4 53.3h0M137.5 66.2h0M128.4 76.7h0M138.4 60.2h0M134.7 82.1h0M141.7 63.3h0M140.9 57.8h0M144.2 77.6h0M141.9 68.7h0M138.2 83.5h0M138.2 65.5h0M135.1 83.9h0M140.7 79.3h0M141.9 81.3h0M146.5 63.0h0M142.7 65.5h0M140.5 74.5h0M133.0 58.1h0M133.3 62.7h0M137.9 67.4h0M143.0 63.7h0M147.2 65.3h0M138.8 70.9h0M133.3 63.6h0M144.4 72.5h0M131.5 62.8h0M146.3 60.3h0M143.6 58.5h0M135.4 70.1h0M142.6 67.7h0M146.1 70.4h0M135.0 84.6h0M142.2 70.3h0M138.7 85.6h0M141.4 73.7h0M137.4 51.4h0M133.1 61.8h0M134.9 79.8h0M144.2 58.0h0M140.6 54.1h0M139.8 68.4h0M144.9 56.7h0M141.1 61.2h0M137.2 68.9h0M140.0 52.8h0M129.6 62.7h0M105.7 72.2h0M136.3 54.3h0M132.2 57.7h0M143.5 59.8h0M144.6 77.0h0M133.5 69.7h0M138.4 54.5h0M140.5 72.6h0M133.0 71.7h0M139.5 55.4h0M143.1 69.0h0M135.4 84.3h0M135.3 56.6h0M136.0 68.6h0M143.5 71.4h0M147.0 64.2h0M141.5 81.3h0M137.1 58.7h0M144.5 60.7h0M145.7 63.3h0M140.4 63.4h0M136.9 56.5h0M139.0 58.4h0M133.0 57.0h0M135.7 56.6h0M132.5 75.7h0M137.3 52.5h0M134.9 77.8h0M131.6 63.5h0M141.3 70.1h0M134.7 67.3h0M144.0 59.1h0M150.4 56.6h0M137.8 63.7h0M136.2 79.1h0M137.7 60.7h0M137.9 73.5h0M136.9 54.5h0M136.0 76.9h0M140.4 79.1h0M133.3 57.4h0M134.0 75.5h0M142.0 61.0h0M133.0 74.8h0M136.1 76.2h0M136.6 76.4h0M140.8 84.4h0M145.2 75.4h0M138.2 50.8h0M136.1 72.5h0M139.8 73.3h0M136.6 73.3h0M137.3 68.9h0M133.4 53.7h0M136.0 61.0h0M139.0 81.6h0M144.0 64.8h0M140.2 56.3h0M139.1 60.5h0M139.3 80.9h0M132.8 56.1h0M138.8 54.0h0M140.4 81.7h0M132.6 61.1h0M141.5 65.7h0M142.6 58.8h0M147.2 67.5h0M141.9 78.9h0M138.8 53.1h0M142.3 69.3h0M147.4 67.3h0M135.7 51.3h0M140.8 62.2h0M143.2 80.3h0M141.2 77.5h0M140.5 63.4h0M143.2 78.1h0M132.1 60.9h0M135.9 53.2h0M139.2 78.0h0M136.4 55.7h0M142.3 77.1h0M140.5 70.6h0M138.5 52.3h0M143.6 58.6h0M145.8 70.4h0M141.4 61.2h0M140.9 63.7h0M143.2 55.2h0M140.5 53.0h0M138.6 71.5h0M136.7 69.6h0M142.3 59.0h0M136.5 60.0h0M132.5 59.7h0M141.1 53.7h0M140.2 62.2h0M143.5 78.4h0M140.3 62.2h0M135.6 71.6h0M101.8 76.5h0M133.0 63.7h0M144.0 68.8h0M133.6 59.9h0M137.3 66.4h0M145.9 65.9h0M132.6 56.3h0M136.5 73.3h0M135.0 51.4h0M131.3 57.0h0M138.2 59.5h0M141.9 58.1h0M134.6 70.9h0M144.8 71.1h0M131.9 64.8h0M135.9 79.0h0M135.7 82.1h0M137.2 69.6h0M135.3 52.0h0M143.5 75.3h0M133.1 77.3h0M133.3 71.8h0M139.7 72.8h0M135.8 62.3h0M135.6 77.5h0M135.3 66.8h0M135.2 77.4h0M136.0 74.6h0M142.1 76.6h0M139.7 59.3h0M136.2 55.1h0M134.8 66.8h0M141.9 62.2h0M134.0 68.1h0M145.0 55.8h0M134.2 73.5h0M141.4 66.6h0M134.6 66.2h0M133.3 89.3h0M137.1 84.1h0M134.0 71.0h0M140.8 52.1h0M139.9 68.1h0M142.3 49.4h0M138.9 73.4h0M139.2 60.0h0M138.6 85.7h0M144.3 57.3h0M118.9 61.7h0M140.4 88.0h0M132.2 71.5h0M138.9 85.1h0M141.1 82.8h0M132.0 58.5h0M132.8 56.4h0"/>
<path id="p4" d="M104.6 97.0h0M108.8 107.0h0M103.7 101.6h0M104.0 96.9h0M95.1 122.5h0M112.9 117.8h0M102.9 105.1h0M105.7 109.7h0M99.8 85.7h0M101.0 89.4h0M101.3 91.2h0M111.9 110.7h0M116.0 106.5h0M95.9 86.6h0M99.6 109.5h0M99.6 106.1h0M109.8 100.3h0M107.7 105.4h0M103.9 95.4h0M108.6 100.6h0M104.8 99.5h0M92.5 78.3h0M93.3 42.2h0M106.2 98.0h0M100.7 109.5h0M99.7 93.5h0M108.7 104.5h0M102.2 105.3h0M98.1 102.4h0M100.9 98.6h0M100.7 96.2h0M112.1 107.0h0M102.4 91.3h0M103.9 98.7h0M108.6 117.2h0M110.1 113.5h0M101.1 105.9h0M98.9 91.1h0M96.8 97.3h0M98.2 109.4h0M106.4 116.0h0M105.3 105.7h0M105.6 102.2h0M103.0 101.3h0M110.3 104.2h0M96.7 92.6h0M99.8 92.2h0M109.3 101.8h0M106.8 104.3h0M100.4 100.1h0M110.7 108.5h0M95.6 96.2h0M95.7 91.4h0M87.8 52.2h0M114.2 112.1h0M96.1 100.2h0M111.6 116.2h0M108.0 107.0h0M109.7 103.9h0M104.0 111.4h0M91.7 80.1h0M100.2 117.1h0M80.2 39.3h0M84.9 84.8h0M100.4 108.8h0M85.0 54.0h0M87.5 64.7h0M97.2 93.6h0M98.6 91.3h0M102.2 103.5h0M108.3 102.7h0M103.0 97.5h0M100.7 97.8h0M104.7 98.3h0M100.7 101.5h0M113.9 107.7h0M99.5 96.6h0M80.1 85.5h0M105.7 108.4h0M99.7 96.7h0M101.7 102.6h0M95.6 98.0h0M112.8 115.8h0M93.6 90.3h0M112.8 114.2h0M107.6 100.0h0M111.0 105.2h0M105.2 110.6h0M109.3 111.8h0M108.6 108.8h0M96.3 92.8h0M109.4 113.4h0M114.4 108.7h0M106.6 107.0h0M77.3 62.0h0M103.0 101.6h0M113.2 108.6h0M109.7 102.4h0M98.0 104.5h0M110.5 103.2h0M102.2 107.0h0M101.3 117.0h0M97.5 103.9h0M97.5 98.9h0M107.8 107.6h0M99.8 109.3h0M98.3 91.4h0M110.0 103.3h0M107.7 110.5h0M96.8 97.9h0M110.7 112.5h0M107.9 107.8h0M112.9 117.4h0M96.0 95.3h0M96.8 90.4h0M108.6 114.5h0M100.0 89.1h0M89.3 56.0h0M100.5 43.6h0M101.8 90.4h0M92.1 115.9h0M100.9 110.6h0M104.5 105.6h0M84.7 65.9h0M100.5 98.6h0M108.6 104.7h0M111.9 114.5h0M98.8 97.8h0M102.8 95.0h0M101.0 48.3h0M101.3 106.2h0M103.8 101.4h0M99.7 92.4h0M111.7 105.3h0M99.9 96.1h0M96.0 94.7h0M111.8 111.4h0M107.8 98.6h0M103.3 102.3h0M99.0 92.0h0M93.4 90.8h0M108.1 109.6h0M105.9 116.4h0M99.4 46.5h0M111.9 103.9h0M93.2 89.6h0M112.8 114.0h0M94.0 87.4h0M110.6 107.2h0M100.8 117.2h0M101.0 103.3h0M104.3 108.7h0M81.6 53.8h0M96.1 93.7h0M86.8 96.0h0M98.1 104.2h0M101.9 105.1h0M81.3 86.0h0M108.7 109.7h0M106.0 112.3h0M103.3 100.7h0M104.5 101.7h0M98.9 108.3h0M104.0 114.4h0M97.1 98.9h0M76.5 55.4h0M105.6 104.1h0M97.4 91.0h0M104.1 100.2h0M111.2 112.2h0M94.3 111.9h0M98.2 100.1h0M100.3 96.8h0M97.2 50.1h0M112.6 105.1h0M95.8 97.8h0M113.8 108.5h0M111.8 108.6h0M105.0 117.4h0M102.1 93.4h0M104.6 92.7h0M101.5 89.6h0M92.3 88.2h0M103.2 97.6h0M105.3 93.3h0M98.6 60.0h0M107.9 98.6h0M104.8 99.1h0M108.0 96.9h0M113.4 109.3h0M103.3 98.0h0M92.1 114.4h0M104.1 48.1h0M105.4 100.7h0M97.4 98.0h0M106.0 113.7h0M101.3 101.0h0M105.8 102.3h0M113.1 106.4h0M108.1 115.4h0M101.5 95.8h0M105.8 115.4h0M77.4 61.1h0M82.3 80.9h0M108.8 101.4h0M95.1 69.8h0M105.0 108.9h0M105.8 102.5h0M101.3 104.6h0M95.1 87.2h0M94.6 94.2h0M93.8 71.9h0M108.6 99.9h0M83.1 39.1h0M92.8 88.1h0M104.7 100.8h0M104.8 115.3h0M89.7 58.5h0M105.0 97.8h0M103.2 118.2h0M98.4 52.3h0M111.0 113.7h0M105.5 115.8h0M95.9 91.9h0M98.7 93.1h0M95.3 93.5h0M113.7 113.8h0M97.6 107.8h0M105.2 109.2h0M105.3 101.0h0M109.2 115.9h0M79.0 77.0h0M102.9 115.1h0M105.1 98.9h0M108.0 97.5h0M100.7 49.8h0M83.8 61.3h0M102.2 96.6h0M103.1 101.9h0M102.1 96.5h0M103.4 96.1h0M93.4 90.5h0M94.6 87.0h0M102.8 108.2h0M104.7 99.6h0M104.8 98.7h0M110.8 108.2h0M106.1 101.3h0M106.2 107.5h0M92.9 87.2h0M113.8 108.0h0M104.5 100.1h0M72.2 69.0h0M98.1 104.4h0M101.4 90.2h0M109.8 101.4h0M101.7 99.3h0M82.2 73.8h0M98.3 92.4h0M100.3 103.9h0M103.6 105.3h0M98.0 65.6h0M77.3 39.6h0M100.5 107.9h0M112.6 116.2h0M113.9 112.4h0M105.5 109.7h0M101.7 104.2h0M108.0 119.9h0M113.3 113.3h0M112.3 112.2h0M100.2 89.9h0M87.4 44.3h0M103.9 102.0h0M104.9 92.8h0M107.9 105.9h0M77.5 80.4h0M101.4 102.3h0M103.9 107.9h0M106.8 113.4h0M103.4 114.6h0M98.0 98.4h0M117.9 97.2h0M99.2 90.6h0M77.3 74.7h0M102.4 115.2h0M110.4 108.4h0M107.6 115.5h0M105.4 101.2h0M93.8 89.8h0M104.0 94.8h0M84.5 67.9h0M94.1 86.0h0M101.0 99.0h0M110.3 106.3h0M102.3 94.1h0M91.8 79.8h0M100.2 90.6h0M104.0 97.5h0M102.6 90.5h0"/>
<path id="p5" d="M133.1 102.9h0M129.4 99.3h0M126.8 103.7h0M129.8 102.6h0M134.2 105.7h0M136.7 99.1h0M136.8 97.3h0M132.2 96.0h0M134.9 94.6h0M137.9 95.3h0M131.2 103.7h0M125.8 110.6h0M123.2 111.6h0M128.5 109.5h0M127.9 114.8h0M135.5 89.9h0M134.6 99.1h0M132.6 100.0h0M131.2 109.6h0M125.3 108.6h0M129.7 99.6h0M132.9 102.4h0M130.0 108.1h0M126.8 106.3h0M126.7 107.0h0M127.8 107.0h0M128.9 109.6h0M130.9 99.5h0M129.9 99.3h0M133.0 97.0h0M135.4 91.1h0M136.1 93.7h0M125.1 112.8h0M124.9 108.5h0M126.9 108.9h0M127.6 108.5h0M125.7 105.1h0M125.1 111.4h0M132.5 103.4h0M131.2 96.1h0M125.5 110.9h0M131.0 101.4h0M127.3 109.3h0M129.2 104.0h0M133.8 101.6h0M130.0 97.8h0M133.3 114.6h0M132.8 94.1h0M124.4 110.0h0M131.9 98.0h0M133.5 95.2h0M125.1 107.2h0M134.7 102.5h0M138.1 108.2h0M131.1 94.7h0M129.9 97.6h0M133.5 100.7h0M123.9 110.7h0M131.4 106.3h0M131.4 100.5h0M125.6 108.9h0M134.7 95.8h0M133.7 89.8h0M130.9 100.0h0M132.6 95.0h0M131.5 96.7h0M134.7 98.7h0M129.0 109.4h0M133.5 104.2h0M127.4 107.1h0M135.3 88.8h0M128.9 109.4h0M135.7 92.3h0M132.7 100.8h0M130.8 99.2h0M134.8 95.4h0M136.9 96.3h0M132.6 105.8h0M133.9 92.7h0M128.6 104.0h0M136.1 90.5h0M136.7 96.3h0M135.6 89.3h0M132.2 92.2h0M136.4 92.3h0M121.1 99.7h0M132.4 93.0h0M135.1 92.1h0M127.9 102.7h0M135.2 90.4h0M126.4 110.8h0M134.1 97.6h0M129.2 108.6h0M133.7 97.0h0M134.4 104.0h0M132.1 107.3h0M131.0 96.7h0M123.9 109.1h0M128.0 102.6h0M131.3 102.8h0M134.0 95.2h0M128.0 99.7h0M123.6 111.0h0M135.7 93.4h0M130.2 97.1h0M136.4 94.9h0M132.6 97.5h0M127.4 102.1h0M131.4 94.5h0M124.3 108.6h0M128.8 102.0h0M135.7 91.0h0M125.8 108.4h0M128.6 109.0h0M133.2 99.0h0M125.8 105.6h0M126.5 105.4h0M129.5 108.9h0M131.2 105.4h0M136.7 99.3h0M132.5 102.3h0M127.0 104.0h0M127.4 88.0h0M130.5 110.2h0M129.9 110.1h0M136.8 93.5h0M132.7 103.7h0M119.3 113.4h0M127.7 101.6h0M134.2 92.3h0M131.2 103.8h0M128.5 109.1h0M135.1 93.5h0M127.8 101.7h0M122.6 108.5h0M132.2 96.6h0M132.2 101.0h0M130.7 107.9h0"/>
<path id="p6" d="M60.1 89.9h0M51.5 80.2h0M63.6 92.5h0M58.6 91.5h0M61.1 86.3h0M53.5 72.5h0M58.6 81.6h0M65.2 87.2h0M56.5 81.6h0M64.3 94.4h0M50.0 81.8h0M51.2 75.9h0M52.9 74.3h0M55.6 79.3h0M54.5 79.3h0M50.6 73.3h0M51.2 73.4h0M56.7 73.9h0M59.9 91.7h0M63.3 90.2h0M56.9 76.6h0M66.3 90.9h0M58.5 93.4h0M50.9 81.1h0M50.1 77.3h0M63.3 91.0h0M61.0 95.7h0M59.6 93.1h0M50.9 86.2h0M61.7 89.6h0M56.3 86.4h0M55.4 87.1h0M49.5 76.1h0M47.4 71.6h0M52.0 79.0h0M51.6 78.8h0M52.5 80.4h0M49.8 75.1h0M66.2 88.6h0M53.3 70.9h0M47.0 77.2h0M60.1 84.1h0M61.8 91.2h0M58.3 91.0h0M66.6 90.7h0M52.4 70.8h0M52.8 76.7h0M63.8 90.4h0M59.2 77.0h0M60.2 92.2h0M61.4 88.5h0M55.3 88.4h0M52.9 81.0h0M60.8 85.7h0M61.6 83.9h0M53.4 86.6h0M58.6 90.6h0M49.4 71.6h0M59.3 90.2h0M61.2 90.6h0M53.6 78.0h0M63.3 87.2h0M53.7 77.0h0M64.5 90.6h0M59.7 84.5h0M62.4 92.6h0M59.6 84.9h0M54.0 72.2h0M52.3 86.3h0M65.2 91.5h0M49.6 76.0h0M56.9 85.6h0M57.4 76.9h0M48.1 74.8h0M48.3 71.8h0M49.1 82.8h0M45.3 87.8h0M65.6 89.3h0M60.5 80.9h0M50.6 74.4h0M46.5 74.3h0M50.5 84.8h0M48.1 76.0h0M46.1 75.0h0M60.9 87.9h0M59.5 81.7h0M43.2 86.5h0M59.8 84.2h0M69.9 95.9h0M63.1 91.8h0M49.5 80.3h0M43.3 79.4h0M49.1 78.3h0M50.2 76.2h0M56.2 86.5h0M53.1 85.0h0M51.0 79.0h0M50.3 70.7h0M42.5 79.5h0M62.2 87.9h0M58.6 72.0h0M53.3 88.1h0M52.0 75.8h0M57.9 80.3h0M50.4 70.0h0M49.6 72.0h0M64.0 90.4h0M65.3 99.2h0M59.4 87.3h0M49.9 83.2h0M55.2 82.8h0M59.7 84.7h0M52.5 70.8h0M62.9 85.0h0M57.2 91.2h0M62.4 82.1h0M60.4 80.4h0M55.8 88.3h0M58.9 88.4h0M62.9 92.1h0M47.0 72.8h0M58.0 86.4h0M49.0 71.1h0M57.3 87.0h0M66.1 88.7h0M48.5 72.4h0M59.5 92.0h0M64.7 88.6h0M49.3 76.6h0M47.8 76.6h0M47.7 75.5h0M67.2 88.9h0M50.7 76.2h0M50.9 75.9h0M61.3 94.5h0M61.3 87.6h0M64.4 94.9h0M56.2 76.0h0M46.8 79.7h0M48.2 74.5h0M52.5 75.5h0M48.9 84.8h0M68.5 95.9h0M62.9 90.5h0M48.7 72.6h0M52.2 71.1h0M58.2 91.0h0M48.2 71.1h0M61.4 81.5h0M59.2 88.1h0M54.1 89.0h0M57.4 75.4h0M56.1 74.1h0M50.9 85.1h0M59.1 87.1h0M59.5 89.1h0M56.8 82.4h0M65.4 93.8h0M54.0 89.0h0M51.1 78.9h0M63.1 90.9h0M57.0 81.4h0M47.5 74.6h0M60.1 83.0h0M50.4 78.8h0M59.9 83.0h0M60.1 84.4h0M52.9 83.4h0M59.6 92.3h0M66.2 90.6h0M58.8 81.2h0M53.9 73.1h0M55.7 78.1h0M60.1 88.0h0M63.6 83.6h0M45.2 80.5h0M55.3 87.4h0M54.9 80.6h0M59.9 88.6h0"/>
<path id="p7" d="M88.7 94.4h0M47.9 66.0h0M47.3 65.3h0M44.9 61.1h0M118.3 94.5h0M32.0 52.9h0M40.4 51.2h0M89.0 95.3h0M87.3 90.8h0M41.0 53.2h0M85.6 95.4h0M91.6 98.1h0M90.5 96.3h0M89.1 89.2h0M87.7 97.4h0M87.5 103.3h0M123.1 105.6h0M45.1 58.4h0M86.1 93.0h0M87.3 100.6h0M43.8 60.5h0M87.0 88.3h0M90.2 96.9h0M45.1 59.7h0M86.1 92.0h0M47.3 67.7h0M85.3 89.6h0M40.5 53.7h0M86.8 88.9h0M43.4 57.7h0M42.7 52.3h0M47.1 66.0h0M105.7 73.8h0M44.1 63.2h0M86.1 98.0h0M86.2 89.2h0M42.8 59.2h0M47.7 61.6h0M91.7 101.7h0M46.2 60.7h0M84.8 93.0h0M44.7 61.2h0M87.9 96.0h0M45.9 63.4h0M85.0 88.9h0M104.6 88.4h0M86.8 90.8h0M84.7 97.5h0M90.1 96.9h0M91.2 102.5h0M84.9 98.7h0M43.7 60.7h0M86.1 98.8h0M106.9 78.2h0M88.0 95.2h0M43.9 61.7h0M90.0 91.0h0M86.0 101.7h0M43.0 55.0h0M89.2 88.8h0M43.3 62.4h0M41.4 55.5h0M88.0 98.5h0M85.2 103.7h0M89.6 98.9h0M48.7 63.7h0M87.4 102.0h0M85.9 101.0h0M44.7 60.8h0M86.2 101.9h0M84.6 91.2h0M88.0 96.2h0M42.0 54.0h0M87.8 102.3h0M87.9 94.8h0M90.3 99.8h0M91.4 97.8h0M85.0 97.6h0M40.2 53.4h0M87.4 104.2h0M90.2 96.5h0M46.3 62.0h0M40.1 53.8h0M90.4 89.7h0M84.4 106.4h0M89.1 100.2h0M88.3 106.1h0M91.4 95.5h0M90.2 99.9h0M91.4 93.3h0M119.9 92.0h0M114.1 69.0h0M88.7 90.6h0M46.3 66.0h0M87.9 103.9h0M90.5 98.0h0M91.6 100.9h0M90.8 92.0h0M89.7 91.7h0M43.5 59.3h0M41.2 51.2h0M41.8 55.7h0M44.1 57.0h0M43.5 55.3h0M90.9 92.7h0M48.4 63.4h0M89.6 94.8h0M116.9 70.7h0M90.3 102.0h0M45.9 61.2h0M93.5 88.9h0M88.1 91.9h0M86.0 102.9h0M88.1 102.0h0M86.9 102.9h0M83.8 106.3h0M47.0 63.7h0M87.2 83.9h0M86.5 91.6h0M119.4 80.7h0M89.8 95.6h0M42.2 53.2h0M107.3 81.4h0M88.3 97.9h0M41.2 53.3h0M48.4 64.3h0M86.0 100.8h0M43.3 56.8h0M84.0 95.0h0M89.2 91.0h0M84.8 89.1h0"/>
<path id="p8" d="M121.0 44.3h0M113.6 42.2h0M119.5 44.7h0M113.6 40.6h0M116.2 41.2h0M120.3 38.7h0M118.3 37.7h0M121.4 43.4h0M123.5 42.0h0M119.9 38.3h0M120.3 42.3h0M123.4 41.1h0M119.2 39.1h0M122.7 41.4h0M114.7 42.1h0M122.8 41.6h0M115.3 37.9h0M123.2 38.0h0M113.8 40.6h0M118.1 38.2h0M116.4 41.7h0M116.8 39.9h0M117.6 42.0h0M120.9 41.2h0M125.7 40.5h0M117.3 39.8h0M111.8 41.1h0M121.2 37.8h0M113.6 40.7h0M120.9 43.7h0M106.7 40.2h0M114.8 41.7h0M116.0 36.9h0M112.8 41.6h0M120.0 44.2h0M122.3 42.9h0M124.9 38.7h0M118.2 38.1h0M111.4 40.0h0M120.7 38.3h0M118.5 42.5h0M117.5 42.5h0M119.6 37.1h0M119.9 37.2h0M115.6 37.5h0M113.3 39.8h0M115.5 41.2h0M119.8 39.8h0M118.6 39.2h0M115.7 44.2h0M125.7 40.0h0M110.2 39.6h0M118.8 39.9h0M120.1 38.1h0M121.6 43.4h0M121.7 38.8h0M120.0 40.4h0M113.6 40.9h0M101.9 38.8h0M120.3 40.4h0M113.5 41.3h0M122.3 38.6h0M117.6 44.2h0M120.7 42.1h0M98.7 32.5h0M115.4 41.4h0M117.6 40.4h0M114.5 43.5h0M118.2 37.0h0M125.5 41.0h0M122.3 40.7h0M115.0 42.4h0M116.8 44.9h0M105.0 40.7h0M120.2 40.4h0M117.4 37.6h0M114.2 39.0h0M124.6 40.5h0M120.8 37.3h0M115.0 33.1h0M116.7 40.8h0M122.4 39.9h0M116.5 40.3h0M121.3 39.9h0M112.8 40.6h0M119.6 42.7h0M118.8 33.5h0M117.9 38.4h0M115.3 40.6h0M119.4 38.2h0M123.9 41.3h0M120.7 41.4h0M106.9 40.9h0M126.5 41.2h0M121.1 36.8h0M119.3 44.5h0M124.2 41.8h0M117.6 40.2h0M115.2 39.0h0M119.0 44.4h0M115.4 38.0h0M123.6 39.3h0M126.9 41.2h0M124.7 40.9h0M105.0 39.4h0M118.8 37.5h0M117.4 37.3h0M117.0 40.5h0M123.7 39.6h0M114.1 40.7h0M124.2 39.6h0M112.7 38.0h0M119.2 44.4h0M111.3 41.9h0M121.5 37.0h0M110.5 39.8h0M117.5 44.8h0M117.5 44.3h0M118.5 38.5h0M119.8 38.2h0M124.9 43.0h0M123.1 42.9h0M118.7 42.1h0M121.5 44.4h0M115.6 40.0h0M114.6 38.5h0M120.1 43.3h0M113.7 39.7h0M118.5 37.4h0M120.5 37.1h0M121.0 37.8h0M121.5 42.8h0M121.0 37.6h0M111.9 39.2h0M115.7 42.1h0"/>
</defs>
<text x="6.3" y="14.9" font-size="10" font-weight="bold" stroke="#000" stroke-width="0.2">A</text>
<text x="193.8" y="14.7" font-size="10" font-weight="bold" stroke="#000" stroke-width="0.2">B</text>
<text x="361.8" y="15.0" font-size="10" font-weight="bold" stroke="#000" stroke-width="0.2">C</text>
<text x="5.6" y="160.6" font-size="10" font-weight="bold" stroke="#000" stroke-width="0.2">D</text>
<text x="190.9" y="160.7" font-size="10" font-weight="bold" stroke="#000" stroke-width="0.2">E</text>
<text x="354.3" y="160.7" font-size="10" font-weight="bold" stroke="#000" stroke-width="0.2">F</text>
<text x="5.8" y="305.5" font-size="10" font-weight="bold" stroke="#000" stroke-width="0.2">G</text>
<text x="174.4" y="305.5" font-size="10" font-weight="bold" stroke="#000" stroke-width="0.2">H</text>
<text x="347.4" y="305.3" font-size="10" font-weight="bold" stroke="#000" stroke-width="0.2">I</text>
<text x="5.8" y="447.7" font-size="10" font-weight="bold" stroke="#000" stroke-width="0.2">J</text>
<text x="293.3" y="447.3" font-size="10" font-weight="bold" stroke="#000" stroke-width="0.2">K</text>
<g stroke-width="1.1" stroke-linecap="round" fill="none">
<use href="#p2" stroke="#f0b43c"/>
<use href="#p6" stroke="#1a7a30"/>
<use href="#p7" stroke="#5cb8e6"/>
<use href="#p1" stroke="#e4612c"/>
<use href="#p4" stroke="#8cc63f"/>
<use href="#p8" stroke="#8c8c90"/>
<use href="#p0" stroke="#2f86d0"/>
<use href="#p3" stroke="#8e3fae"/>
<use href="#p5" stroke="#c8102e"/>
</g>
<path d="M34.80 23.00L34.80 124.30" stroke="#000" stroke-width="1.1"/>
<path d="M34.30 123.80L153.70 123.80" stroke="#000" stroke-width="1.1"/>
<path d="M31.80 44.03L34.80 44.03" stroke="#000" stroke-width="0.9"/>
<text x="29.4" y="47.0" font-size="8.6" text-anchor="end" textLength="10.8" lengthAdjust="spacingAndGlyphs" stroke="#000" stroke-width="0.2">2.5</text>
<path d="M31.80 70.40L34.80 70.40" stroke="#000" stroke-width="0.9"/>
<text x="29.4" y="73.4" font-size="8.6" text-anchor="end" textLength="4.4" lengthAdjust="spacingAndGlyphs" stroke="#000" stroke-width="0.2">0</text>
<path d="M31.80 96.78L34.80 96.78" stroke="#000" stroke-width="0.9"/>
<text x="29.4" y="99.8" font-size="8.6" text-anchor="end" textLength="15.0" lengthAdjust="spacingAndGlyphs" stroke="#000" stroke-width="0.2">−2.5</text>
<path d="M31.80 123.15L34.80 123.15" stroke="#000" stroke-width="0.9"/>
<text x="29.4" y="126.2" font-size="8.6" text-anchor="end" textLength="15.0" lengthAdjust="spacingAndGlyphs" stroke="#000" stroke-width="0.2">−5.0</text>
<path d="M37.10 123.80L37.10 126.80" stroke="#000" stroke-width="0.9"/>
<text x="34.7" y="135.0" font-size="8.6" text-anchor="middle" textLength="12.7" lengthAdjust="spacingAndGlyphs" stroke="#000" stroke-width="0.2">−10</text>
<path d="M69.25 123.80L69.25 126.80" stroke="#000" stroke-width="0.9"/>
<text x="66.8" y="135.0" font-size="8.6" text-anchor="middle" textLength="8.6" lengthAdjust="spacingAndGlyphs" stroke="#000" stroke-width="0.2">−5</text>
<path d="M101.40 123.80L101.40 126.80" stroke="#000" stroke-width="0.9"/>
<text x="101.4" y="135.0" font-size="8.6" text-anchor="middle" textLength="4.4" lengthAdjust="spacingAndGlyphs" stroke="#000" stroke-width="0.2">0</text>
<path d="M133.55 123.80L133.55 126.80" stroke="#000" stroke-width="0.9"/>
<text x="133.6" y="135.0" font-size="8.6" text-anchor="middle" textLength="4.4" lengthAdjust="spacingAndGlyphs" stroke="#000" stroke-width="0.2">5</text>
<text x="90.7" y="145.3" font-size="9.4" text-anchor="middle" textLength="29.9" lengthAdjust="spacingAndGlyphs" stroke="#000" stroke-width="0.08">UMAP_1</text>
<text x="12.8" y="77.4" font-size="9.6" text-anchor="middle" textLength="29.2" lengthAdjust="spacingAndGlyphs" transform="rotate(-90 12.8 77.4)" stroke="#000" stroke-width="0.08">UMAP_2</text>
<text x="39.6" y="23.8" font-size="8.2" textLength="72.3" lengthAdjust="spacingAndGlyphs" stroke="#000" stroke-width="0.1">Myeloid-biased HSC</text>
<circle cx="151.5" cy="33.7" r="2.1" fill="#0a6ebd"/>
<text x="155.9" y="36.3" font-size="7.1" textLength="28.0" lengthAdjust="spacingAndGlyphs" stroke="#000" stroke-width="0.05">Cluster 0</text>
<circle cx="151.5" cy="42.5" r="2.1" fill="#dc5420"/>
<text x="155.9" y="45.1" font-size="7.1" textLength="28.0" lengthAdjust="spacingAndGlyphs" stroke="#000" stroke-width="0.05">Cluster 1</text>
<circle cx="151.5" cy="51.3" r="2.1" fill="#f9b928"/>
<text x="155.9" y="53.9" font-size="7.1" textLength="28.0" lengthAdjust="spacingAndGlyphs" stroke="#000" stroke-width="0.05">Cluster 2</text>
<circle cx="151.5" cy="60.1" r="2.1" fill="#5b2570"/>
<text x="155.9" y="62.7" font-size="7.1" textLength="28.0" lengthAdjust="spacingAndGlyphs" stroke="#000" stroke-width="0.05">Cluster 3</text>
<circle cx="151.5" cy="68.9" r="2.1" fill="#3bb04a"/>
<text x="155.9" y="71.5" font-size="7.1" textLength="28.0" lengthAdjust="spacingAndGlyphs" stroke="#000" stroke-width="0.05">Cluster 4</text>
<circle cx="151.5" cy="77.7" r="2.1" fill="#c8153a"/>
<text x="155.9" y="80.3" font-size="7.1" textLength="28.0" lengthAdjust="spacingAndGlyphs" stroke="#000" stroke-width="0.05">Cluster 5</text>
<circle cx="151.5" cy="86.5" r="2.1" fill="#066a4f"/>
<text x="155.9" y="89.1" font-size="7.1" textLength="28.0" lengthAdjust="spacingAndGlyphs" stroke="#000" stroke-width="0.05">Cluster 6</text>
<circle cx="151.5" cy="95.3" r="2.1" fill="#2ea8e0"/>
<text x="155.9" y="97.9" font-size="7.1" textLength="28.0" lengthAdjust="spacingAndGlyphs" stroke="#000" stroke-width="0.05">Cluster 7</text>
<circle cx="151.5" cy="104.1" r="2.1" fill="#b9b9bf"/>
<text x="155.9" y="106.7" font-size="7.1" textLength="28.0" lengthAdjust="spacingAndGlyphs" stroke="#000" stroke-width="0.05">Cluster 8</text>
<g transform="matrix(0.9269 0 0 0.8455 193.01 11.68)" stroke-width="1.0" stroke-linecap="round" fill="none" stroke="#e6e6e6">
<use href="#p2"/>
<use href="#p6"/>
<use href="#p7"/>
<use href="#p1"/>
<use href="#p4"/>
<use href="#p8"/>
<use href="#p0"/>
<use href="#p3"/>
<use href="#p5"/>
</g>
<path d="M299.6 72.0h0M250.0 46.2h0M266.7 61.8h0M319.2 78.6h0M319.5 59.1h0M273.4 76.6h0M323.9 75.7h0M310.0 70.1h0M321.1 83.0h0M326.6 66.1h0M316.4 71.3h0M265.9 40.3h0M267.2 83.9h0M290.5 83.0h0M323.6 62.0h0M300.9 65.7h0M317.9 77.1h0M321.4 55.9h0M247.9 86.2h0M328.7 72.2h0M315.3 76.0h0M314.1 61.1h0M314.3 66.0h0M301.3 91.8h0M233.1 84.8h0M301.3 58.5h0M296.3 93.7h0M323.2 78.6h0M273.5 57.4h0M266.5 43.3h0M273.8 82.6h0M320.3 56.1h0M273.7 50.5h0M307.7 45.1h0M313.6 77.7h0M267.3 40.2h0M304.5 93.3h0M290.2 76.0h0M317.4 66.1h0M308.2 103.5h0M310.5 91.8h0M235.8 43.1h0M317.4 71.1h0M315.6 60.4h0M309.4 65.5h0M317.2 71.7h0M296.2 67.5h0M298.2 74.7h0M321.6 75.4h0M325.9 66.9h0M269.9 45.5h0M313.9 82.9h0M285.5 89.6h0M294.1 58.0h0M289.8 75.5h0M291.8 80.6h0M278.4 44.6h0M261.4 51.5h0M317.1 65.2h0M239.1 38.2h0M318.3 58.8h0M314.1 67.2h0M304.1 52.0h0M283.2 73.8h0M241.7 53.0h0M256.5 41.1h0M291.5 62.6h0M317.2 80.1h0M275.7 86.7h0M307.7 48.1h0M255.9 43.0h0M324.9 66.7h0M268.0 41.0h0M284.1 65.0h0M313.9 73.6h0M324.3 73.4h0M305.6 43.0h0M293.1 93.6h0M257.0 53.7h0M285.8 77.9h0M303.1 56.6h0M250.6 38.3h0M318.3 89.6h0M319.9 68.8h0M300.2 84.8h0M308.8 44.4h0M318.5 71.3h0M255.3 53.9h0M312.7 68.9h0M301.7 45.4h0M316.6 87.2h0M318.6 66.9h0M302.5 79.6h0M240.4 53.0h0M290.1 64.7h0M319.6 74.3h0M297.4 100.6h0M316.4 79.0h0M302.4 44.0h0M288.7 77.1h0M298.0 93.5h0M298.3 98.5h0M305.9 44.5h0M281.3 74.4h0M291.7 61.8h0M285.0 73.2h0M279.7 88.0h0M284.4 50.8h0M311.6 64.5h0M293.7 55.0h0M317.2 69.3h0M322.6 69.5h0M279.6 88.2h0M309.8 90.2h0M296.5 81.7h0M284.1 57.2h0M313.9 104.8h0M282.8 94.4h0M301.8 43.5h0M304.3 67.2h0M328.8 68.4h0M296.7 57.1h0M288.4 84.1h0M249.2 36.0h0M300.2 54.9h0M305.7 54.4h0M302.7 43.5h0M320.9 79.2h0M303.5 44.7h0M293.3 64.7h0M293.5 67.5h0M313.6 77.8h0M288.7 98.1h0M265.3 45.0h0M249.9 35.8h0M293.9 80.6h0M278.7 71.2h0M310.7 57.7h0M323.0 64.2h0M268.8 78.5h0M303.2 80.3h0M304.2 56.5h0M308.4 80.1h0M238.4 40.8h0M296.6 105.9h0M308.0 93.2h0M318.0 68.2h0M316.6 51.5h0M277.4 82.9h0M322.1 62.4h0M327.6 61.2h0M309.2 92.7h0M319.3 58.3h0M328.4 82.5h0M304.2 57.0h0M262.5 71.6h0M318.5 76.8h0M320.5 73.5h0M294.5 58.1h0M319.1 63.2h0M290.0 90.2h0M310.7 71.9h0M298.4 48.9h0M332.4 59.5h0M272.3 46.3h0M312.9 62.5h0M287.3 58.7h0M296.8 96.9h0M249.8 58.1h0M321.0 68.9h0M287.0 67.7h0M264.7 46.1h0M285.5 84.2h0M231.0 54.5h0M289.3 102.9h0M301.8 77.4h0M241.6 71.5h0M237.3 63.7h0M315.9 94.1h0M324.2 67.2h0M289.8 74.2h0M280.0 51.2h0M316.4 71.6h0M236.2 54.1h0M322.2 61.0h0M288.4 62.9h0M311.0 60.3h0M292.1 63.6h0M294.3 97.8h0M279.8 50.8h0M295.9 100.6h0M264.6 56.0h0M313.4 60.7h0M292.0 64.2h0M261.5 52.4h0M284.2 89.8h0M317.0 69.7h0M303.3 49.2h0M316.9 73.8h0M316.7 67.8h0M323.1 63.1h0M326.5 69.8h0M267.9 46.6h0M275.3 88.3h0M241.6 71.5h0M294.5 80.5h0M305.7 47.9h0M287.3 99.8h0M290.6 65.2h0M318.6 58.4h0M291.2 110.1h0M271.3 63.4h0M289.4 60.2h0M286.0 85.6h0M294.7 63.8h0M237.3 41.5h0M309.9 83.6h0M271.1 75.0h0M307.2 88.4h0M323.4 61.2h0M324.8 77.4h0M308.7 84.8h0M256.1 37.5h0M319.2 75.2h0M294.4 77.2h0M297.5 71.4h0M325.5 61.0h0M310.9 74.9h0M300.7 97.6h0M302.8 86.8h0M293.9 72.6h0M233.3 49.6h0M298.0 93.8h0M321.4 80.9h0M290.8 87.2h0M316.6 78.0h0M310.7 99.6h0M262.7 43.0h0M292.0 80.0h0M309.4 74.9h0M258.8 48.1h0M315.0 86.1h0M292.0 64.2h0M315.8 62.1h0M304.6 45.8h0M300.9 72.8h0M292.6 63.6h0M234.4 63.1h0M266.1 43.0h0M305.3 64.3h0M310.0 47.8h0M277.8 63.9h0M253.5 50.7h0M283.8 79.8h0M298.2 92.2h0M291.8 73.5h0M259.3 71.9h0M264.3 41.6h0M312.8 82.5h0M309.5 77.3h0M259.1 58.1h0M315.7 81.4h0M322.7 75.3h0M316.0 99.4h0M312.5 104.3h0M274.9 74.0h0M316.3 68.9h0M298.8 98.8h0M310.3 57.5h0M285.2 70.0h0M315.2 64.4h0M291.7 52.4h0M246.2 36.8h0M300.7 83.4h0M293.7 96.1h0M285.7 87.0h0M299.9 72.1h0M297.9 78.1h0M283.4 71.3h0M271.4 88.8h0M303.7 58.9h0M289.7 103.6h0M316.5 73.5h0M308.0 75.6h0M302.4 79.4h0M310.0 90.7h0M314.2 51.3h0M295.1 73.4h0M327.1 76.8h0M319.7 80.5h0M299.9 46.0h0M302.6 61.9h0M321.8 83.6h0M249.1 80.0h0M271.7 57.4h0M300.5 75.4h0M250.7 53.2h0M269.6 56.6h0M329.0 68.7h0M320.3 70.2h0M276.5 82.9h0M300.3 76.5h0M319.8 85.7h0M296.3 95.7h0M270.3 88.5h0M318.8 81.1h0M289.3 97.9h0M282.1 49.6h0M306.7 88.7h0M280.7 91.3h0M294.9 64.4h0M293.4 69.9h0M319.9 59.4h0M272.5 57.8h0M286.3 65.6h0M305.9 84.1h0M321.8 73.7h0M268.7 72.8h0M315.9 75.6h0M270.3 61.5h0M252.7 44.1h0" stroke="#c37885" stroke-width="0.95" stroke-linecap="round" fill="none"/>
<path d="M295.9 57.1h0M283.5 61.8h0M294.7 76.4h0M300.2 75.3h0M320.2 69.9h0M318.8 59.5h0M233.7 63.9h0M290.0 71.9h0M316.3 65.5h0M278.6 54.0h0M272.6 66.1h0M306.2 58.4h0M301.6 89.1h0M258.1 35.8h0M322.9 80.2h0M293.6 88.9h0M325.7 76.2h0M281.8 74.3h0M327.0 67.1h0M326.0 58.9h0M236.3 52.7h0M316.9 62.8h0M293.4 93.7h0M311.5 70.8h0M316.2 66.4h0M314.1 68.5h0M300.6 81.9h0M313.3 98.5h0M299.9 90.2h0M306.7 48.2h0M267.9 56.7h0M303.1 91.2h0M292.6 75.4h0M323.6 64.7h0M304.3 43.9h0M305.7 66.0h0M292.2 72.5h0M239.5 48.0h0M327.2 74.9h0M257.5 41.0h0M318.1 63.5h0M296.0 77.9h0M275.6 59.6h0M307.2 66.2h0M288.9 77.0h0M288.5 97.3h0M296.2 84.1h0M262.2 50.9h0M287.3 64.1h0M268.7 67.8h0M301.8 63.6h0M261.5 36.0h0M313.8 80.4h0M246.0 54.3h0M306.2 65.8h0M306.4 89.4h0M313.1 57.1h0M250.0 39.7h0M299.8 68.8h0M305.1 56.8h0M317.0 77.0h0M305.1 49.1h0M286.6 63.7h0M310.6 92.1h0M277.8 60.7h0M309.0 95.1h0M300.0 43.8h0M295.3 83.0h0M296.3 65.2h0M322.5 82.0h0M235.2 49.2h0M295.4 49.7h0M244.3 38.1h0M256.8 46.3h0M251.8 43.1h0M304.9 79.3h0M313.1 59.1h0M302.5 66.6h0M298.9 70.8h0M283.8 67.1h0M269.9 55.3h0M317.1 74.9h0M280.2 80.9h0M242.3 51.0h0M319.1 69.7h0M323.7 81.7h0M324.6 80.8h0M321.8 61.6h0M316.3 70.4h0M307.9 78.2h0M286.8 101.2h0M307.2 60.6h0M248.0 57.4h0M311.6 72.6h0M287.4 62.0h0M324.3 68.5h0M230.7 47.7h0M293.0 95.0h0M291.7 85.7h0M250.1 49.2h0M256.9 45.6h0M321.5 72.1h0M296.5 92.0h0M289.4 89.0h0M313.2 77.6h0M283.6 73.7h0M301.7 71.9h0M231.7 50.1h0M263.0 75.0h0M274.5 79.6h0M295.3 53.2h0M292.1 68.6h0M289.9 66.0h0M296.0 81.9h0M277.7 45.0h0M269.2 54.0h0M308.6 66.4h0M269.1 68.8h0M267.9 80.7h0M321.1 82.3h0M308.0 69.1h0M297.5 63.8h0M256.7 81.5h0M326.9 63.0h0M318.5 73.3h0M317.2 69.3h0M307.3 62.4h0M313.3 68.7h0M318.8 67.1h0M271.8 58.4h0M315.8 71.0h0M289.8 76.2h0M282.0 78.9h0M290.3 46.1h0M325.7 79.6h0M278.5 62.7h0M305.9 93.0h0M295.5 61.8h0M285.7 62.1h0M317.7 52.3h0M305.9 83.4h0M276.0 56.7h0M290.7 69.0h0M300.9 84.9h0M315.8 75.7h0M263.1 48.4h0M304.1 45.3h0M289.1 52.9h0M301.1 65.4h0M292.9 65.7h0M290.2 95.1h0M268.7 70.4h0M307.1 62.8h0M287.5 66.1h0M319.4 83.3h0M287.5 63.7h0M317.0 97.6h0M315.7 74.1h0M313.6 46.8h0M301.7 98.5h0M311.5 77.3h0M290.2 49.8h0M286.0 86.7h0M293.8 62.4h0M308.0 79.1h0M315.4 85.5h0M276.5 49.9h0M324.9 76.9h0M327.6 71.6h0M311.3 74.9h0M300.8 52.9h0M304.3 70.0h0M294.0 74.7h0M319.6 62.4h0M246.7 79.6h0M302.9 96.5h0M252.3 52.5h0M305.4 63.3h0M328.5 71.2h0M300.4 93.1h0M324.7 76.4h0M298.1 64.8h0M319.1 80.7h0M299.5 58.8h0M318.1 76.4h0M300.2 83.8h0M282.1 71.5h0M310.9 51.0h0M293.1 77.5h0M270.3 55.5h0M304.7 97.9h0M300.9 67.5h0M327.2 73.4h0M308.7 58.0h0M262.9 65.4h0M290.3 76.9h0M267.7 65.4h0M285.8 70.9h0M296.4 91.1h0M283.0 57.7h0M300.4 99.2h0M293.2 78.8h0M303.2 63.8h0M311.3 57.4h0M265.0 44.7h0M313.3 63.5h0M294.0 78.1h0M297.6 96.3h0M303.9 88.7h0M302.3 63.7h0M326.8 60.1h0M299.6 70.9h0M320.9 72.0h0M308.8 81.4h0M315.0 68.0h0M299.4 89.8h0M317.6 67.5h0M254.0 49.7h0M282.5 68.2h0M315.9 82.4h0M291.5 89.5h0M273.2 59.7h0M299.6 75.1h0M320.9 59.1h0M315.5 72.2h0M289.0 65.2h0M242.5 55.6h0M310.9 47.2h0M301.9 98.0h0M262.2 38.5h0M313.2 95.9h0M307.5 63.4h0M308.1 83.3h0M323.8 81.8h0M274.8 66.1h0M323.1 73.4h0M303.6 62.8h0M317.1 90.1h0M305.2 79.4h0M256.3 62.9h0M313.3 86.5h0M260.3 61.8h0M310.0 69.5h0M320.7 65.6h0M329.3 74.3h0M284.7 78.6h0M315.7 66.6h0M262.1 66.9h0M316.0 60.5h0M283.1 79.2h0M273.6 52.2h0M309.3 80.1h0M268.5 44.7h0M315.6 72.1h0" stroke="#d7bec2" stroke-width="0.95" stroke-linecap="round" fill="none"/>
<path d="M293.3 77.7h0M299.0 96.5h0M314.0 80.5h0M286.2 95.0h0M293.2 61.6h0M309.8 80.8h0M231.6 51.2h0M309.1 85.0h0M297.5 66.9h0M290.0 62.8h0M261.1 76.4h0M290.1 66.1h0M305.7 84.9h0M298.6 102.8h0M313.5 76.4h0M269.6 50.5h0M272.6 42.2h0M300.4 67.5h0M296.7 93.8h0M298.6 98.5h0M281.5 63.3h0M285.1 65.6h0M290.0 96.9h0M286.2 65.9h0M260.6 76.9h0M318.9 70.3h0M305.0 93.1h0M323.3 55.7h0M284.9 75.5h0M282.0 68.9h0M286.9 110.6h0M296.4 45.6h0M298.9 72.6h0M302.2 82.0h0M328.0 65.2h0M300.1 46.5h0M309.0 93.9h0M261.4 45.0h0M277.5 85.0h0M296.2 61.0h0M289.9 84.1h0M318.7 80.9h0M259.0 59.8h0M282.5 62.9h0M319.4 58.7h0M232.8 52.3h0M293.6 87.1h0M247.9 42.5h0M304.9 99.1h0M313.5 103.1h0M319.1 66.4h0M263.3 40.4h0M304.6 91.2h0M242.9 54.5h0M290.5 47.2h0M298.2 98.8h0M297.5 56.6h0M296.3 59.8h0M298.3 46.1h0M307.4 66.5h0M299.0 80.4h0M302.8 54.3h0M296.5 89.2h0M316.3 72.3h0M306.9 57.7h0M305.3 73.8h0M312.1 79.9h0M315.7 71.2h0M325.2 61.4h0M254.6 49.9h0M300.2 49.1h0M316.7 99.7h0M293.8 104.4h0M328.8 65.0h0M310.1 93.6h0M267.0 79.2h0M317.9 60.8h0M316.2 75.2h0M242.0 44.4h0M287.1 80.3h0M247.5 45.2h0M290.4 63.1h0M324.3 57.9h0M248.1 57.9h0M320.1 61.3h0M316.6 63.6h0M308.9 89.1h0M264.3 56.1h0M285.9 93.6h0M297.7 88.1h0M302.1 93.9h0M244.8 44.6h0M288.5 72.1h0M255.5 63.2h0M302.6 75.6h0M282.7 61.3h0M298.7 85.9h0M323.3 56.5h0M292.4 43.8h0M322.1 78.1h0M241.0 40.9h0M273.4 57.9h0M302.6 89.5h0M300.5 75.3h0M300.8 83.0h0M303.7 103.0h0M295.4 91.4h0M252.4 35.3h0M286.7 91.4h0M251.9 41.2h0M287.5 61.4h0M316.7 59.1h0M239.6 44.5h0M310.2 72.7h0M320.8 73.8h0M317.1 66.7h0M248.8 39.0h0M310.4 77.1h0M297.6 86.1h0M288.9 47.5h0M262.7 69.1h0M262.0 80.1h0M304.4 58.8h0M299.1 71.0h0M305.2 53.1h0M320.0 80.8h0M252.4 51.3h0M282.9 73.6h0M317.8 98.3h0M299.7 89.8h0M292.6 61.0h0M280.8 70.4h0M302.6 83.5h0M264.0 51.4h0M290.4 103.7h0M317.2 75.5h0M314.6 75.9h0M287.8 99.2h0M310.7 46.5h0M293.8 97.4h0M322.0 82.2h0M296.1 94.3h0M268.9 71.7h0M325.2 68.9h0M316.0 67.0h0M312.3 65.0h0M295.7 60.1h0M304.7 58.0h0M324.6 63.3h0M312.8 84.8h0M293.6 85.4h0M305.8 54.1h0M298.7 74.3h0M319.3 78.5h0M287.3 62.7h0M289.6 87.9h0M292.8 100.8h0M306.3 47.9h0M293.7 103.7h0M316.7 77.7h0M295.3 85.0h0M307.9 103.9h0M302.1 68.2h0M275.8 58.0h0M322.5 63.5h0M302.1 69.3h0M306.4 76.0h0M271.6 53.2h0M292.5 79.0h0M302.8 100.2h0M278.5 86.3h0M305.1 84.4h0M263.6 76.1h0M289.1 71.0h0M319.6 55.6h0M300.1 71.1h0M323.3 57.5h0M291.3 63.9h0M321.3 58.0h0M290.4 78.5h0M298.9 95.5h0M316.4 77.0h0M285.1 51.0h0M296.6 81.4h0M316.2 65.1h0M235.8 48.1h0M324.6 78.4h0M320.1 70.8h0M286.8 62.4h0M261.9 67.8h0M285.7 85.5h0M291.8 66.8h0M311.3 69.6h0M302.7 87.5h0M303.3 72.9h0M239.7 70.9h0M314.7 99.4h0M287.3 76.4h0M316.0 53.7h0M290.2 90.1h0M242.8 38.4h0M314.9 93.4h0M241.9 52.3h0M316.9 62.3h0M262.3 80.1h0M310.1 84.4h0M309.6 69.8h0M298.9 70.9h0M293.4 80.1h0M289.1 52.4h0M324.6 80.4h0M303.1 65.5h0M299.4 72.9h0M312.6 84.7h0M300.3 97.7h0M298.8 72.7h0M302.8 43.3h0M301.4 92.1h0M307.9 88.7h0M274.1 66.9h0M280.6 45.5h0M266.8 49.7h0M247.3 44.7h0M286.2 76.9h0M310.4 67.9h0M316.9 93.7h0M292.2 70.1h0M311.5 56.9h0M262.1 40.8h0M234.5 53.9h0M295.6 73.7h0M316.2 98.3h0M316.0 67.8h0M297.8 78.4h0M243.6 55.0h0M301.2 72.8h0M325.6 75.4h0M316.8 70.6h0M240.2 51.8h0M317.3 61.2h0M329.1 65.8h0M272.1 69.7h0M303.4 72.1h0M282.4 74.7h0M304.2 45.8h0M323.6 64.3h0M269.8 52.9h0M247.3 72.6h0M314.3 59.2h0M242.0 48.3h0M265.9 57.9h0M326.6 58.6h0M310.3 90.7h0M256.5 92.8h0M285.7 50.9h0M316.8 75.4h0M299.6 47.6h0M298.3 59.0h0M324.1 74.7h0M313.2 60.9h0M293.1 94.1h0M315.1 58.6h0M274.6 93.0h0M295.9 66.8h0M286.9 77.1h0M311.8 63.6h0M291.7 50.7h0M314.8 54.0h0M274.8 48.0h0M293.1 73.6h0" stroke="#cd9ba4" stroke-width="0.95" stroke-linecap="round" fill="none"/>
<path d="M312.4 71.2h0M267.3 44.9h0M282.6 50.0h0M311.1 81.7h0M308.6 73.0h0M242.1 53.6h0M265.0 41.9h0M250.0 47.2h0M318.5 70.9h0M246.6 33.4h0M235.5 54.2h0M324.1 66.9h0M326.6 77.3h0M233.8 51.6h0M270.6 84.3h0M299.2 54.5h0M310.4 85.3h0M315.0 57.0h0M248.1 48.5h0M322.7 73.6h0M292.0 80.1h0M248.2 80.7h0M317.9 92.4h0M314.3 46.7h0M248.0 87.9h0M301.2 45.4h0M306.2 65.2h0M294.5 67.3h0M298.0 55.4h0M306.3 74.9h0M289.7 61.7h0M315.8 66.4h0M309.3 79.7h0M260.5 48.6h0M257.0 53.0h0M280.5 52.9h0M326.5 66.5h0M301.1 94.2h0M320.3 67.8h0M322.5 73.2h0M269.4 74.2h0M309.4 54.0h0M308.1 54.3h0M267.7 39.9h0M307.7 95.1h0M267.4 41.3h0M290.9 98.1h0M301.8 85.2h0M305.8 100.4h0M320.6 63.0h0M316.7 57.1h0M317.4 64.5h0M329.5 67.3h0M326.9 70.4h0M241.6 36.7h0M289.2 76.9h0M289.7 79.7h0M303.5 58.2h0M286.8 61.7h0M291.9 70.6h0M313.6 54.1h0M258.9 58.2h0M273.6 48.9h0M325.2 49.5h0M260.1 61.5h0M262.9 51.7h0M254.0 38.7h0M278.2 65.7h0M303.6 64.3h0M323.3 73.0h0M278.0 97.7h0M294.4 64.0h0M289.1 79.4h0M305.0 75.7h0M262.0 63.7h0M314.4 57.3h0M321.9 61.1h0M297.9 93.6h0M278.8 76.0h0M270.8 92.0h0M305.2 43.5h0M246.2 76.7h0M299.1 61.6h0M306.4 64.6h0M297.9 83.4h0M314.7 69.8h0M267.0 52.3h0M273.2 47.2h0M302.9 47.6h0M303.2 62.9h0M263.2 72.4h0M282.4 75.7h0M306.2 94.9h0M302.8 73.6h0M299.9 76.8h0M320.2 70.0h0M302.7 55.0h0M271.5 51.0h0M319.4 57.6h0M286.4 94.4h0M305.5 55.4h0M287.8 66.4h0M312.0 66.5h0M259.6 35.4h0M317.8 80.3h0M236.4 41.0h0M309.7 80.3h0M287.3 95.6h0M264.6 70.5h0M296.6 90.6h0M326.7 78.0h0M297.3 69.2h0M298.3 46.2h0M325.3 67.0h0M295.9 62.3h0M316.2 83.9h0M296.0 81.7h0M275.9 74.8h0M309.5 71.5h0M291.2 73.5h0M294.7 56.1h0M309.0 107.0h0M322.8 56.3h0M265.1 75.9h0M321.9 58.5h0M281.6 74.8h0M305.4 62.2h0M321.8 64.0h0M289.6 69.3h0M238.5 48.7h0M290.1 109.2h0M289.8 64.9h0M252.2 88.1h0M324.1 75.1h0M318.7 75.2h0M249.0 53.4h0M310.5 74.4h0M295.3 64.7h0M286.9 97.1h0M320.8 83.7h0M293.4 81.9h0M310.6 61.3h0M326.4 76.7h0M287.4 70.5h0M309.0 70.0h0M322.7 69.3h0M283.3 60.5h0M293.1 52.6h0M306.7 88.3h0M319.7 95.5h0M266.3 59.1h0M317.0 72.9h0M312.7 88.7h0M324.9 53.4h0M315.9 78.0h0M300.6 66.4h0M306.7 56.1h0M319.4 71.0h0M315.9 63.3h0M293.6 88.2h0M282.1 71.6h0M294.4 83.8h0M283.1 54.0h0M294.0 60.3h0M289.9 72.9h0M284.5 63.9h0M294.5 78.9h0M285.5 104.1h0M237.6 51.3h0M301.5 80.6h0M294.6 58.0h0M305.0 85.5h0M276.4 84.1h0M318.7 77.2h0M297.3 82.6h0M298.9 106.4h0M317.2 78.0h0M265.3 64.6h0M320.7 84.6h0M306.7 51.4h0M264.1 79.2h0M318.5 82.9h0M320.3 54.9h0M316.1 59.4h0M317.4 94.2h0M307.8 96.1h0M315.4 73.4h0M255.2 38.8h0M279.7 44.6h0M320.5 57.3h0M318.1 79.0h0M292.8 70.7h0M257.4 69.3h0M318.4 88.1h0M297.3 83.2h0M326.7 74.5h0M310.7 90.2h0M275.1 44.1h0M323.2 74.7h0M321.3 81.7h0M298.1 59.3h0M293.5 91.7h0M301.1 94.2h0M281.8 94.4h0M290.7 96.8h0M305.8 100.8h0M288.8 52.8h0M294.4 91.7h0M295.3 53.0h0M300.5 50.0h0M319.2 90.9h0M308.6 79.3h0M283.7 83.8h0M279.6 88.4h0M245.1 56.8h0M283.1 79.1h0M327.2 71.8h0M316.1 59.1h0M289.5 60.1h0M273.3 80.7h0M287.8 93.4h0M290.9 62.0h0M309.5 59.2h0M302.3 48.8h0M329.5 68.8h0M304.5 81.1h0M307.0 102.3h0" stroke="#b95567" stroke-width="0.95" stroke-linecap="round" fill="none"/>
<path d="M222.00 22.40L222.00 120.30" stroke="#000" stroke-width="1.1"/>
<path d="M221.50 119.80L340.60 119.80" stroke="#000" stroke-width="1.1"/>
<path d="M219.00 26.60L222.00 26.60" stroke="#000" stroke-width="0.9"/>
<text x="217.2" y="29.6" font-size="8.6" text-anchor="end" textLength="10.8" lengthAdjust="spacingAndGlyphs" stroke="#000" stroke-width="0.2">5.0</text>
<path d="M219.00 48.90L222.00 48.90" stroke="#000" stroke-width="0.9"/>
<text x="217.2" y="51.9" font-size="8.6" text-anchor="end" textLength="10.8" lengthAdjust="spacingAndGlyphs" stroke="#000" stroke-width="0.2">2.5</text>
<path d="M219.00 71.20L222.00 71.20" stroke="#000" stroke-width="0.9"/>
<text x="217.2" y="74.2" font-size="8.6" text-anchor="end" textLength="4.4" lengthAdjust="spacingAndGlyphs" stroke="#000" stroke-width="0.2">0</text>
<path d="M219.00 93.50L222.00 93.50" stroke="#000" stroke-width="0.9"/>
<text x="217.2" y="96.5" font-size="8.6" text-anchor="end" textLength="15.0" lengthAdjust="spacingAndGlyphs" stroke="#000" stroke-width="0.2">−2.5</text>
<path d="M219.00 115.80L222.00 115.80" stroke="#000" stroke-width="0.9"/>
<text x="217.2" y="118.8" font-size="8.6" text-anchor="end" textLength="15.0" lengthAdjust="spacingAndGlyphs" stroke="#000" stroke-width="0.2">−5.0</text>
<path d="M227.40 119.80L227.40 122.80" stroke="#000" stroke-width="0.9"/>
<text x="225.8" y="131.9" font-size="8.6" text-anchor="middle" textLength="12.7" lengthAdjust="spacingAndGlyphs" stroke="#000" stroke-width="0.2">−10</text>
<path d="M257.20 119.80L257.20 122.80" stroke="#000" stroke-width="0.9"/>
<text x="255.6" y="131.9" font-size="8.6" text-anchor="middle" textLength="8.6" lengthAdjust="spacingAndGlyphs" stroke="#000" stroke-width="0.2">−5</text>
<path d="M287.00 119.80L287.00 122.80" stroke="#000" stroke-width="0.9"/>
<text x="287.0" y="131.9" font-size="8.6" text-anchor="middle" textLength="4.4" lengthAdjust="spacingAndGlyphs" stroke="#000" stroke-width="0.2">0</text>
<path d="M316.80 119.80L316.80 122.80" stroke="#000" stroke-width="0.9"/>
<text x="316.8" y="131.9" font-size="8.6" text-anchor="middle" textLength="4.4" lengthAdjust="spacingAndGlyphs" stroke="#000" stroke-width="0.2">5</text>
<text x="275.2" y="140.6" font-size="9.4" text-anchor="middle" textLength="29.3" lengthAdjust="spacingAndGlyphs" stroke="#000" stroke-width="0.08">UMAP_1</text>
<text x="201.8" y="72.7" font-size="9.6" text-anchor="middle" textLength="29.6" lengthAdjust="spacingAndGlyphs" transform="rotate(-90 201.8 72.7)" stroke="#000" stroke-width="0.08">UMAP_2</text>
<text x="226.8" y="26.4" font-size="7.6" font-style="italic" textLength="27.5" lengthAdjust="spacingAndGlyphs" stroke="#000" stroke-width="0.05">Igf2bp2</text>
<linearGradient id="gB" x1="0" y1="1" x2="0" y2="0"><stop offset="0" stop-color="#e6e6e6"/><stop offset="1" stop-color="#a50f2a"/></linearGradient>
<rect x="337.40" y="55.60" width="6.30" height="31.30" fill="url(#gB)"/>
<text x="345.0" y="63.9" font-size="8.3" textLength="10.0" lengthAdjust="spacingAndGlyphs" stroke="#000" stroke-width="0.08">1.5</text>
<text x="345.0" y="72.7" font-size="8.3" textLength="10.0" lengthAdjust="spacingAndGlyphs" stroke="#000" stroke-width="0.08">1.0</text>
<text x="345.0" y="81.1" font-size="8.3" textLength="10.0" lengthAdjust="spacingAndGlyphs" stroke="#000" stroke-width="0.08">0.5</text>
<text x="345.0" y="88.5" font-size="8.3" textLength="10.0" lengthAdjust="spacingAndGlyphs" stroke="#000" stroke-width="0.08">0.0</text>
<g transform="matrix(0.9238 0 0 0.8417 6.73 158.94)" stroke-width="1.0" stroke-linecap="round" fill="none" stroke="#e6e6e6">
<use href="#p2"/>
<use href="#p6"/>
<use href="#p7"/>
<use href="#p1"/>
<use href="#p4"/>
<use href="#p8"/>
<use href="#p0"/>
<use href="#p3"/>
<use href="#p5"/>
</g>
<path d="M126.4 206.1h0M85.1 207.4h0M82.7 221.1h0M136.4 220.4h0M109.9 236.1h0M129.9 219.4h0M92.0 218.6h0M125.7 214.3h0M110.8 220.7h0M133.1 237.7h0M125.1 227.9h0M107.4 214.3h0M78.7 223.0h0M97.1 230.7h0M111.4 202.5h0M124.2 227.3h0M108.4 205.2h0M89.8 222.7h0M97.1 223.4h0M77.4 224.9h0M91.9 193.0h0M106.1 237.9h0M141.5 213.8h0M126.0 215.9h0M61.3 194.6h0M62.3 183.8h0M133.8 204.3h0M105.1 221.1h0M94.3 205.8h0M50.5 199.8h0M55.8 197.4h0M125.4 251.1h0M65.9 198.4h0M83.7 232.7h0M96.0 225.2h0M92.1 218.2h0M100.0 242.2h0M123.2 228.9h0M103.0 225.8h0M108.0 210.5h0M103.2 223.2h0M119.6 222.0h0M117.7 215.0h0M95.7 205.3h0M120.9 248.6h0M76.0 192.8h0M91.3 202.1h0M49.9 186.9h0M122.5 208.1h0M130.0 215.5h0M136.5 221.7h0M115.1 197.2h0M140.8 218.6h0M97.0 220.6h0M136.9 211.0h0M96.7 217.2h0M50.6 204.0h0M135.3 236.4h0M117.8 205.9h0M63.8 182.6h0M101.4 211.1h0M66.8 190.1h0M86.4 234.0h0M115.2 190.6h0M125.7 215.2h0M47.1 200.5h0M106.5 208.5h0M98.0 215.0h0M78.4 189.0h0M107.1 208.8h0M107.2 209.2h0M132.1 214.1h0M77.8 196.3h0M69.8 209.9h0M88.7 238.4h0M115.1 228.2h0M96.5 201.1h0M81.3 227.7h0M133.6 217.2h0M103.5 241.7h0M90.4 212.3h0M124.6 212.2h0M116.9 209.9h0M131.5 230.2h0M116.3 248.2h0M125.9 218.9h0M118.5 225.7h0M138.5 210.2h0M107.8 234.9h0M117.4 213.0h0M119.7 242.4h0M134.2 226.1h0M124.9 236.9h0M72.3 187.6h0M115.1 225.7h0M103.2 221.2h0M108.9 223.6h0M128.9 218.1h0M105.6 231.4h0M105.3 219.5h0M127.0 226.5h0M49.3 222.1h0M119.0 213.0h0M106.4 221.1h0M134.1 215.6h0" stroke="#b95567" stroke-width="1.35" stroke-linecap="round" fill="none"/>
<path d="M121.1 215.6h0M110.1 201.8h0M130.7 220.8h0M81.6 226.4h0M137.1 210.0h0M108.0 233.4h0M81.5 226.2h0M124.3 227.1h0M102.4 247.6h0M112.2 191.8h0M121.3 230.2h0M136.7 225.7h0M90.0 227.8h0M129.9 225.0h0M123.2 210.2h0M55.8 188.0h0M82.2 189.1h0M114.9 204.9h0M136.4 220.2h0M128.6 225.8h0M129.2 217.3h0M120.4 242.2h0M66.5 202.6h0M137.5 217.8h0M58.3 233.3h0M122.8 233.5h0M108.4 240.8h0M110.2 249.0h0M111.8 205.7h0M101.1 224.8h0M89.7 200.5h0M128.7 209.1h0M117.9 238.2h0M80.5 229.0h0M130.2 221.3h0M77.5 203.3h0M122.0 193.4h0M116.5 211.2h0M85.6 216.7h0M117.6 191.0h0M137.0 228.8h0M100.9 208.5h0M91.8 225.6h0M69.9 186.7h0M112.5 230.3h0M121.0 251.8h0M130.0 246.6h0M61.1 196.5h0M114.0 223.0h0M76.8 213.3h0M128.7 249.3h0M142.2 213.3h0M136.3 214.2h0M114.8 216.6h0M136.0 216.3h0M122.8 209.6h0M85.1 204.2h0M104.7 253.5h0M114.2 214.5h0M96.4 215.5h0M90.2 208.5h0M93.3 212.9h0M80.9 208.8h0M119.8 191.4h0M81.0 189.8h0M116.1 200.8h0M106.4 249.7h0M127.3 221.2h0M74.2 203.3h0M132.9 221.3h0M129.4 206.1h0M124.2 206.3h0M110.7 218.4h0M136.8 211.3h0M85.2 230.3h0M122.8 218.4h0M60.3 201.4h0M105.3 234.6h0M134.6 209.6h0M121.5 224.1h0M133.8 214.5h0M83.4 225.7h0M114.7 240.4h0M107.9 227.5h0M121.1 245.5h0M140.6 206.7h0M102.7 228.1h0M56.0 218.6h0M126.1 229.4h0M107.2 251.3h0M114.2 223.9h0M140.3 220.5h0M111.1 241.2h0M100.3 224.1h0M105.4 211.3h0M101.7 211.9h0M132.9 202.7h0M101.8 231.1h0M42.6 185.2h0M118.6 200.3h0M117.9 194.6h0M94.5 205.5h0M106.8 216.9h0M114.3 227.3h0M103.7 250.6h0M119.6 239.0h0M91.8 255.3h0M116.7 196.3h0M103.8 210.1h0M93.2 197.9h0M95.3 210.5h0M61.7 188.9h0M124.8 244.5h0M66.9 191.0h0M107.2 227.1h0M110.9 204.3h0M133.2 215.8h0M133.6 220.9h0M138.0 220.3h0M79.9 185.9h0M90.4 214.8h0M115.1 199.6h0M95.1 235.8h0M136.3 211.3h0M130.6 221.0h0M92.9 234.4h0M82.5 223.0h0M137.3 207.2h0M108.8 204.8h0M102.9 243.3h0M106.4 224.5h0M130.5 225.6h0M87.6 245.9h0M131.4 219.7h0M133.5 202.9h0M103.6 218.4h0M100.7 209.7h0M50.0 188.1h0M99.2 224.9h0M108.2 230.3h0M130.8 207.3h0M87.2 203.0h0M121.6 229.6h0M65.9 182.5h0M114.0 225.8h0M94.8 217.9h0M122.7 250.6h0M129.6 217.4h0M102.7 244.8h0M91.5 207.5h0M130.4 221.9h0" stroke="#af3248" stroke-width="1.35" stroke-linecap="round" fill="none"/>
<path d="M86.5 194.0h0M121.6 213.9h0M138.2 223.9h0M122.8 244.5h0M139.3 209.3h0M122.9 226.6h0M80.8 221.3h0M104.2 251.3h0M112.7 227.2h0M129.6 207.9h0M107.1 202.0h0M135.8 204.3h0M134.2 220.0h0M111.1 229.7h0M104.0 212.2h0M134.4 209.0h0M128.0 245.5h0M99.0 215.8h0M130.1 211.6h0M46.9 196.7h0M98.5 203.0h0M103.2 221.1h0M123.1 230.1h0M116.5 239.5h0M70.0 188.3h0M136.0 222.3h0M112.1 226.8h0M114.6 205.6h0M111.8 227.6h0M117.0 234.9h0" stroke="#a50f2a" stroke-width="1.35" stroke-linecap="round" fill="none"/>
<path d="M35.40 168.10L35.40 266.90" stroke="#000" stroke-width="1.1"/>
<path d="M34.90 266.40L153.70 266.40" stroke="#000" stroke-width="1.1"/>
<path d="M32.40 173.80L35.40 173.80" stroke="#000" stroke-width="0.9"/>
<text x="30.5" y="176.8" font-size="8.6" text-anchor="end" textLength="10.8" lengthAdjust="spacingAndGlyphs" stroke="#000" stroke-width="0.2">5.0</text>
<path d="M32.40 196.00L35.40 196.00" stroke="#000" stroke-width="0.9"/>
<text x="30.5" y="199.0" font-size="8.6" text-anchor="end" textLength="10.8" lengthAdjust="spacingAndGlyphs" stroke="#000" stroke-width="0.2">2.5</text>
<path d="M32.40 218.20L35.40 218.20" stroke="#000" stroke-width="0.9"/>
<text x="30.5" y="221.2" font-size="8.6" text-anchor="end" textLength="4.4" lengthAdjust="spacingAndGlyphs" stroke="#000" stroke-width="0.2">0</text>
<path d="M32.40 240.40L35.40 240.40" stroke="#000" stroke-width="0.9"/>
<text x="30.5" y="243.4" font-size="8.6" text-anchor="end" textLength="15.0" lengthAdjust="spacingAndGlyphs" stroke="#000" stroke-width="0.2">−2.5</text>
<path d="M32.40 262.60L35.40 262.60" stroke="#000" stroke-width="0.9"/>
<text x="30.5" y="265.6" font-size="8.6" text-anchor="end" textLength="15.0" lengthAdjust="spacingAndGlyphs" stroke="#000" stroke-width="0.2">−5.0</text>
<path d="M41.00 266.40L41.00 269.40" stroke="#000" stroke-width="0.9"/>
<text x="39.6" y="278.5" font-size="8.6" text-anchor="middle" textLength="12.7" lengthAdjust="spacingAndGlyphs" stroke="#000" stroke-width="0.2">−10</text>
<path d="M70.70 266.40L70.70 269.40" stroke="#000" stroke-width="0.9"/>
<text x="69.3" y="278.5" font-size="8.6" text-anchor="middle" textLength="8.6" lengthAdjust="spacingAndGlyphs" stroke="#000" stroke-width="0.2">−5</text>
<path d="M100.40 266.40L100.40 269.40" stroke="#000" stroke-width="0.9"/>
<text x="100.4" y="278.5" font-size="8.6" text-anchor="middle" textLength="4.4" lengthAdjust="spacingAndGlyphs" stroke="#000" stroke-width="0.2">0</text>
<path d="M130.10 266.40L130.10 269.40" stroke="#000" stroke-width="0.9"/>
<text x="130.1" y="278.5" font-size="8.6" text-anchor="middle" textLength="4.4" lengthAdjust="spacingAndGlyphs" stroke="#000" stroke-width="0.2">5</text>
<text x="89.0" y="289.3" font-size="9.4" text-anchor="middle" textLength="29.8" lengthAdjust="spacingAndGlyphs" stroke="#000" stroke-width="0.08">UMAP_1</text>
<text x="13.8" y="220.4" font-size="9.6" text-anchor="middle" textLength="29.0" lengthAdjust="spacingAndGlyphs" transform="rotate(-90 13.8 220.4)" stroke="#000" stroke-width="0.08">UMAP_2</text>
<text x="40.4" y="171.2" font-size="7.6" font-style="italic" textLength="23.0" lengthAdjust="spacingAndGlyphs" stroke="#000" stroke-width="0.05">Lin28b</text>
<linearGradient id="gD" x1="0" y1="1" x2="0" y2="0"><stop offset="0" stop-color="#e6e6e6"/><stop offset="1" stop-color="#a50f2a"/></linearGradient>
<rect x="145.80" y="203.20" width="7.10" height="34.60" fill="url(#gD)"/>
<text x="153.8" y="211.3" font-size="8.3" textLength="10.0" lengthAdjust="spacingAndGlyphs" stroke="#000" stroke-width="0.08">0.6</text>
<text x="153.8" y="221.4" font-size="8.3" textLength="10.0" lengthAdjust="spacingAndGlyphs" stroke="#000" stroke-width="0.08">0.4</text>
<text x="153.8" y="231.2" font-size="8.3" textLength="10.0" lengthAdjust="spacingAndGlyphs" stroke="#000" stroke-width="0.08">0.2</text>
<text x="153.8" y="240.9" font-size="8.3" textLength="10.0" lengthAdjust="spacingAndGlyphs" stroke="#000" stroke-width="0.08">0.0</text>
<g transform="matrix(0.9238 0 0 0.8436 355.43 159.01)" stroke-width="1.0" stroke-linecap="round" fill="none" stroke="#e6e6e6">
<use href="#p2"/>
<use href="#p6"/>
<use href="#p7"/>
<use href="#p1"/>
<use href="#p4"/>
<use href="#p8"/>
<use href="#p0"/>
<use href="#p3"/>
<use href="#p5"/>
</g>
<path d="M474.1 223.7h0M476.3 213.2h0M479.4 211.7h0M441.8 191.8h0M482.6 210.2h0M446.1 246.9h0M470.8 223.1h0M488.0 222.5h0M466.7 190.3h0M482.3 223.8h0M481.8 214.0h0M464.0 214.3h0M474.6 251.3h0M461.6 228.3h0M484.8 227.4h0M489.0 214.3h0M424.4 198.2h0M486.8 218.3h0M483.8 211.2h0M487.0 212.4h0M465.6 211.6h0M472.2 219.9h0M435.9 196.3h0M455.1 230.0h0M445.8 209.0h0M414.5 205.9h0M416.5 188.2h0M446.7 186.5h0M435.5 191.9h0M469.9 201.8h0M439.7 245.4h0M479.2 222.7h0M466.9 191.3h0M477.1 205.8h0M421.1 205.4h0M399.0 202.3h0" stroke="#af3248" stroke-width="1.6" stroke-linecap="round" fill="none"/>
<path d="M472.7 237.3h0M485.4 218.8h0M443.2 202.3h0M454.6 238.9h0M482.5 204.5h0M480.9 203.9h0M481.4 206.0h0M442.1 234.8h0M440.6 202.6h0M481.4 230.5h0M465.6 192.0h0" stroke="#a50f2a" stroke-width="1.6" stroke-linecap="round" fill="none"/>
<path d="M473.5 224.5h0M427.9 199.1h0M470.4 247.2h0M475.1 218.8h0M416.2 191.1h0M457.2 201.2h0M460.7 220.7h0M485.6 228.9h0M481.8 237.9h0M447.7 233.7h0M436.7 224.0h0M478.4 226.2h0M473.8 219.9h0M443.3 232.5h0M484.5 220.4h0M456.7 221.3h0M482.3 203.3h0M475.6 236.5h0M479.5 209.8h0M441.2 218.2h0M466.5 236.6h0M485.2 203.7h0M462.1 244.1h0" stroke="#b95567" stroke-width="1.6" stroke-linecap="round" fill="none"/>
<path d="M384.60 169.30L384.60 267.40" stroke="#000" stroke-width="1.1"/>
<path d="M384.10 266.90L502.60 266.90" stroke="#000" stroke-width="1.1"/>
<path d="M381.60 173.90L384.60 173.90" stroke="#000" stroke-width="0.9"/>
<text x="379.8" y="176.9" font-size="8.6" text-anchor="end" textLength="10.8" lengthAdjust="spacingAndGlyphs" stroke="#000" stroke-width="0.2">5.0</text>
<path d="M381.60 196.15L384.60 196.15" stroke="#000" stroke-width="0.9"/>
<text x="379.8" y="199.2" font-size="8.6" text-anchor="end" textLength="10.8" lengthAdjust="spacingAndGlyphs" stroke="#000" stroke-width="0.2">2.5</text>
<path d="M381.60 218.40L384.60 218.40" stroke="#000" stroke-width="0.9"/>
<text x="379.8" y="221.4" font-size="8.6" text-anchor="end" textLength="4.4" lengthAdjust="spacingAndGlyphs" stroke="#000" stroke-width="0.2">0</text>
<path d="M381.60 240.65L384.60 240.65" stroke="#000" stroke-width="0.9"/>
<text x="379.8" y="243.7" font-size="8.6" text-anchor="end" textLength="15.0" lengthAdjust="spacingAndGlyphs" stroke="#000" stroke-width="0.2">−2.5</text>
<path d="M381.60 262.90L384.60 262.90" stroke="#000" stroke-width="0.9"/>
<text x="379.8" y="265.9" font-size="8.6" text-anchor="end" textLength="15.0" lengthAdjust="spacingAndGlyphs" stroke="#000" stroke-width="0.2">−5.0</text>
<path d="M389.70 266.90L389.70 269.90" stroke="#000" stroke-width="0.9"/>
<text x="388.5" y="278.9" font-size="8.6" text-anchor="middle" textLength="12.7" lengthAdjust="spacingAndGlyphs" stroke="#000" stroke-width="0.2">−10</text>
<path d="M419.40 266.90L419.40 269.90" stroke="#000" stroke-width="0.9"/>
<text x="418.2" y="278.9" font-size="8.6" text-anchor="middle" textLength="8.6" lengthAdjust="spacingAndGlyphs" stroke="#000" stroke-width="0.2">−5</text>
<path d="M449.10 266.90L449.10 269.90" stroke="#000" stroke-width="0.9"/>
<text x="449.1" y="278.9" font-size="8.6" text-anchor="middle" textLength="4.4" lengthAdjust="spacingAndGlyphs" stroke="#000" stroke-width="0.2">0</text>
<path d="M478.80 266.90L478.80 269.90" stroke="#000" stroke-width="0.9"/>
<text x="478.8" y="278.9" font-size="8.6" text-anchor="middle" textLength="4.4" lengthAdjust="spacingAndGlyphs" stroke="#000" stroke-width="0.2">5</text>
<text x="437.9" y="289.3" font-size="9.4" text-anchor="middle" textLength="29.3" lengthAdjust="spacingAndGlyphs" stroke="#000" stroke-width="0.08">UMAP_1</text>
<text x="363.1" y="220.4" font-size="9.6" text-anchor="middle" textLength="29.0" lengthAdjust="spacingAndGlyphs" transform="rotate(-90 363.1 220.4)" stroke="#000" stroke-width="0.08">UMAP_2</text>
<text x="389.6" y="172.0" font-size="7.6" font-style="italic" textLength="13.0" lengthAdjust="spacingAndGlyphs" stroke="#000" stroke-width="0.05">Igf2</text>
<linearGradient id="gF" x1="0" y1="1" x2="0" y2="0"><stop offset="0" stop-color="#e6e6e6"/><stop offset="1" stop-color="#a50f2a"/></linearGradient>
<rect x="494.20" y="203.90" width="6.70" height="34.70" fill="url(#gF)"/>
<text x="503.0" y="211.9" font-size="8.3" textLength="10.0" lengthAdjust="spacingAndGlyphs" stroke="#000" stroke-width="0.08">0.6</text>
<text x="503.0" y="221.9" font-size="8.3" textLength="10.0" lengthAdjust="spacingAndGlyphs" stroke="#000" stroke-width="0.08">0.4</text>
<text x="503.0" y="231.9" font-size="8.3" textLength="10.0" lengthAdjust="spacingAndGlyphs" stroke="#000" stroke-width="0.08">0.2</text>
<text x="503.0" y="241.5" font-size="8.3" textLength="10.0" lengthAdjust="spacingAndGlyphs" stroke="#000" stroke-width="0.08">0.0</text>
<g transform="matrix(0.9253 0 0 0.8436 175.77 302.51)" stroke-width="1.0" stroke-linecap="round" fill="none" stroke="#e6e6e6">
<use href="#p2"/>
<use href="#p6"/>
<use href="#p7"/>
<use href="#p1"/>
<use href="#p4"/>
<use href="#p8"/>
<use href="#p0"/>
<use href="#p3"/>
<use href="#p5"/>
</g>
<path d="M281.4 386.1h0M253.9 354.1h0M266.3 358.2h0M299.6 365.6h0M300.3 356.9h0M273.0 369.1h0M233.5 342.8h0M307.4 361.0h0M304.0 368.9h0M276.4 360.0h0M275.7 392.8h0M272.0 384.8h0M277.2 377.1h0M297.7 370.8h0M243.0 354.4h0M243.3 336.0h0M246.9 332.4h0M305.6 355.0h0M308.7 367.3h0M306.2 351.2h0M307.1 360.5h0M276.4 358.0h0M309.6 357.8h0M274.6 372.5h0M283.4 363.5h0M303.8 372.3h0M306.0 369.4h0M281.0 363.7h0M311.4 357.0h0M272.9 361.5h0M293.1 371.6h0M277.0 354.7h0M242.7 330.8h0M285.8 354.6h0M274.3 341.4h0M298.9 363.0h0M302.5 350.1h0M307.5 350.4h0M242.4 360.0h0M299.0 364.2h0M247.2 337.6h0M262.3 345.9h0M303.9 353.3h0M284.8 373.6h0M306.6 358.7h0M233.5 344.9h0M297.5 355.5h0M263.0 374.0h0M292.4 378.1h0M294.9 376.8h0M265.0 360.8h0M301.0 350.3h0M265.2 369.0h0M283.6 379.0h0M298.6 390.0h0M218.2 338.3h0M233.0 339.4h0M304.0 371.6h0M281.1 391.9h0M285.7 344.8h0M306.6 364.7h0M235.8 335.9h0M279.4 345.4h0M285.2 358.5h0M289.2 356.5h0M299.9 364.5h0M286.1 340.0h0M300.5 358.9h0M225.8 377.6h0M302.7 352.0h0M280.2 401.8h0M300.9 361.1h0M229.2 353.0h0M280.3 386.8h0M309.4 363.7h0M276.2 383.8h0M296.0 395.4h0M285.2 378.2h0M299.2 354.5h0M288.2 365.6h0M277.4 370.5h0M277.9 379.7h0M302.1 353.1h0M307.8 353.9h0M274.1 350.4h0M303.4 374.4h0M252.6 335.5h0M283.9 391.1h0M286.7 387.2h0M303.3 348.3h0M282.9 383.7h0M277.2 390.2h0M303.2 361.3h0M285.0 334.7h0M261.6 342.6h0M300.3 343.0h0M294.9 377.9h0M286.7 341.5h0M305.2 377.5h0M302.1 365.0h0M283.7 354.1h0M284.6 337.9h0M310.4 352.9h0M255.3 388.3h0M274.2 370.6h0M269.3 353.8h0M301.8 369.2h0M273.3 387.8h0M299.9 391.7h0M306.2 356.2h0M305.9 351.9h0M287.0 335.2h0M270.0 352.7h0M279.0 343.1h0M311.2 362.9h0M305.3 366.0h0M294.1 355.2h0M302.8 346.6h0M303.7 372.9h0M278.1 384.3h0M229.9 350.9h0M289.8 366.2h0M299.9 372.5h0M235.2 334.8h0M297.5 356.1h0M307.1 360.4h0M266.7 347.9h0M301.7 371.4h0M248.8 354.1h0M305.1 364.3h0M308.6 362.8h0M235.4 331.6h0M279.0 378.0h0M288.1 339.2h0M226.0 344.2h0M278.8 337.9h0M304.4 353.4h0M304.6 365.0h0M242.5 339.9h0M272.2 369.9h0M291.1 355.3h0M264.8 364.0h0M299.8 366.2h0M298.8 384.3h0M301.7 366.8h0M272.9 377.0h0M243.8 359.5h0M261.2 377.0h0M305.1 352.5h0M273.2 359.5h0M283.2 386.4h0M272.8 362.1h0" stroke="#c37885" stroke-width="0.95" stroke-linecap="round" fill="none"/>
<path d="M301.8 356.3h0M275.9 369.7h0M283.7 357.5h0M298.6 349.8h0M308.5 353.8h0M252.8 364.0h0M312.2 359.3h0M305.7 356.0h0M293.4 365.6h0M311.6 356.5h0M223.6 342.5h0M272.4 366.9h0M284.4 370.0h0M288.0 375.9h0M284.9 354.4h0M298.8 357.5h0M301.7 365.8h0M283.2 366.7h0M309.4 361.1h0M249.9 374.6h0M306.4 353.7h0M316.6 357.6h0M308.2 360.7h0M272.1 343.1h0M294.2 383.8h0M252.0 371.0h0M293.5 383.4h0M300.7 369.1h0M298.4 350.0h0M266.3 343.3h0M277.7 371.9h0M264.6 382.4h0M236.0 331.8h0M309.2 368.7h0M302.8 360.7h0M285.4 335.0h0M285.1 370.3h0M283.4 373.6h0M309.0 367.4h0M298.4 361.7h0M292.7 396.0h0M239.7 343.8h0M238.9 334.0h0M270.6 364.4h0M280.2 378.7h0M223.8 333.8h0M249.4 338.9h0M299.1 368.7h0M256.8 361.9h0M310.9 373.2h0M296.0 348.7h0M234.3 328.3h0M264.6 359.6h0M287.8 334.2h0M248.1 335.1h0M283.5 337.7h0M310.1 362.3h0M296.3 356.5h0M222.6 365.3h0M263.6 347.4h0M298.4 368.7h0M302.8 345.6h0M280.8 350.9h0M312.0 358.0h0M303.3 356.3h0M306.6 354.2h0M304.0 374.8h0M281.7 369.4h0M220.6 356.0h0M282.4 376.8h0M280.3 334.3h0M312.0 359.5h0M287.6 339.4h0M298.3 357.3h0M300.2 369.1h0M289.7 381.4h0M296.5 364.9h0M302.4 384.6h0M302.0 349.9h0M307.8 352.1h0M286.8 334.8h0M301.6 349.1h0M299.7 360.0h0M299.0 354.7h0M306.9 370.6h0M301.0 346.4h0M299.4 353.0h0M277.7 335.9h0M305.6 364.1h0M291.8 383.4h0M279.9 373.1h0M301.8 369.3h0M306.6 357.7h0M310.8 357.4h0M297.9 358.7h0M296.2 349.3h0M275.3 355.6h0M285.7 336.2h0M280.2 352.1h0M305.8 365.4h0M267.4 376.5h0M304.2 362.3h0M257.9 374.9h0M299.7 357.5h0M220.7 330.0h0M309.0 352.3h0M257.2 385.6h0M240.9 356.0h0M290.3 338.8h0M310.0 366.7h0M308.1 366.1h0M277.1 384.5h0M232.7 338.0h0M232.1 356.6h0M229.1 339.5h0M293.2 379.0h0M257.4 370.6h0M273.5 372.6h0M287.3 348.7h0M245.3 333.8h0M298.1 362.8h0M309.8 365.6h0M306.0 357.1h0M283.7 391.1h0M307.4 352.3h0M246.6 371.4h0M297.8 355.1h0M285.5 383.8h0M293.7 352.7h0M229.5 342.4h0M305.1 360.2h0M299.3 368.4h0M289.0 355.0h0M282.5 334.5h0M307.1 351.5h0M259.5 385.2h0M257.4 341.8h0M297.3 350.6h0M222.3 362.1h0M247.1 339.1h0M288.8 372.0h0M286.5 364.0h0M255.8 365.7h0M306.1 353.2h0M311.3 355.7h0M280.3 364.2h0M279.8 370.6h0M294.2 386.6h0M291.6 360.7h0M311.8 356.6h0M302.3 381.4h0M296.2 370.3h0" stroke="#b95567" stroke-width="0.95" stroke-linecap="round" fill="none"/>
<path d="M287.6 337.3h0M268.7 351.9h0M305.5 362.1h0M302.3 383.7h0M282.2 348.0h0M296.9 385.5h0M276.4 361.1h0M235.5 341.1h0M266.0 374.4h0M235.5 378.9h0M285.0 356.5h0M303.7 369.0h0M255.8 379.8h0M305.8 356.0h0M249.6 353.9h0M305.9 348.2h0M287.6 376.2h0M244.6 333.0h0M288.2 340.0h0M244.7 370.8h0M275.5 356.4h0M241.8 348.8h0M271.1 362.8h0M268.3 358.0h0M294.8 394.5h0M302.8 358.5h0M243.4 342.3h0M219.7 344.4h0M305.2 360.0h0M306.2 354.7h0M253.6 341.6h0M306.1 373.7h0M309.6 364.2h0M306.2 372.4h0M311.3 359.2h0M225.8 377.6h0M234.3 379.2h0M275.1 382.4h0M307.4 344.2h0M302.6 373.5h0M307.7 357.2h0M281.5 363.9h0M278.8 358.2h0M243.1 350.5h0M218.9 342.0h0M273.0 401.5h0M311.2 359.8h0M311.3 364.6h0M277.6 372.1h0M300.9 349.6h0M305.2 364.3h0M309.6 367.5h0M283.3 337.3h0M308.1 351.7h0M230.2 371.0h0M286.1 335.5h0M310.6 355.9h0M299.3 382.8h0M287.1 390.1h0M300.4 359.3h0M290.2 387.2h0M245.3 341.2h0M298.6 350.1h0M289.3 388.8h0M291.5 385.7h0M239.9 353.8h0M257.4 354.5h0M287.6 371.6h0M271.7 351.9h0M301.6 357.1h0M304.4 371.4h0M283.5 362.8h0M227.6 348.6h0M290.1 389.6h0M272.5 379.2h0M302.3 356.1h0M307.6 369.5h0M291.2 384.0h0M300.4 367.8h0M298.6 355.1h0M256.7 388.6h0M300.3 358.4h0M251.4 338.4h0M239.1 336.0h0M304.9 358.1h0M286.1 345.7h0M303.5 363.7h0M309.1 356.8h0M309.2 357.5h0M295.7 355.4h0M277.6 348.8h0M301.2 357.6h0M272.3 368.2h0M306.3 354.1h0M305.6 351.0h0M308.1 356.3h0M301.6 361.9h0M280.2 363.4h0M300.0 372.7h0M281.6 361.7h0M278.9 355.9h0M279.6 353.2h0M263.4 361.1h0M301.1 349.1h0M289.7 385.0h0M310.5 363.3h0M297.2 390.0h0M245.6 365.7h0M307.1 369.1h0M304.2 368.6h0M289.6 390.2h0M283.7 356.4h0M284.3 389.2h0M255.2 387.7h0M299.4 351.8h0M263.0 344.2h0M221.1 331.6h0M291.1 393.1h0M277.1 371.2h0M301.2 371.5h0M234.5 333.8h0M278.2 368.8h0M277.4 372.9h0M299.2 360.8h0M290.1 338.0h0M303.3 349.7h0M311.1 351.8h0M299.1 356.2h0M281.0 336.0h0M262.4 355.7h0M284.6 347.9h0M300.2 356.0h0M284.0 336.7h0M291.5 381.7h0M230.6 378.6h0M299.1 363.1h0M305.6 365.7h0M235.0 378.8h0" stroke="#cd9ba4" stroke-width="0.95" stroke-linecap="round" fill="none"/>
<path d="M287.9 348.8h0M229.3 343.6h0M289.8 350.9h0M274.1 374.8h0M251.4 332.7h0M301.7 381.6h0M261.5 337.3h0M306.4 367.9h0M294.4 359.0h0M255.2 356.1h0M279.3 399.1h0M307.8 340.3h0M308.6 351.8h0M259.3 345.9h0M294.0 347.8h0M286.3 353.2h0M276.0 356.2h0M232.5 376.4h0M305.7 376.8h0M300.7 367.1h0M304.6 353.2h0M266.6 375.1h0M273.3 380.7h0M291.5 384.6h0M266.7 387.0h0M269.8 363.9h0M306.6 350.8h0M300.2 358.3h0M230.4 338.2h0M251.5 345.5h0M280.0 378.0h0M299.7 370.8h0M308.5 366.0h0M301.9 374.0h0M308.1 363.5h0M222.8 331.9h0M281.1 336.7h0M292.8 391.4h0M300.6 372.4h0M304.3 364.4h0M302.6 361.5h0" stroke="#d7bec2" stroke-width="0.95" stroke-linecap="round" fill="none"/>
<path d="M292.6 338.5h0M303.0 358.4h0M302.4 376.3h0M223.3 333.5h0M310.6 361.9h0M269.1 374.6h0M261.5 349.4h0M308.5 357.6h0M254.1 384.8h0M256.6 339.9h0M269.2 354.4h0M297.8 366.7h0M216.9 333.4h0M308.9 368.5h0M308.3 349.1h0M304.9 361.1h0M298.5 358.5h0M243.8 367.1h0M302.4 364.6h0M231.6 370.3h0M304.2 348.0h0M237.6 342.0h0M247.8 344.9h0M309.2 365.2h0M280.3 388.5h0M258.5 374.8h0M222.7 366.8h0M306.8 357.9h0M271.3 367.7h0M304.2 347.3h0M310.5 360.8h0M272.3 357.5h0M266.4 368.7h0M302.2 360.4h0M293.4 370.9h0M275.7 384.2h0M254.3 360.8h0M278.8 374.7h0M288.8 338.8h0M258.4 365.8h0M267.2 339.3h0M297.6 376.8h0M304.6 370.7h0M307.5 357.4h0M303.7 348.4h0M276.3 352.4h0M301.5 361.0h0M282.7 334.1h0M311.0 361.9h0M255.5 385.2h0M277.0 356.1h0M256.6 365.7h0M301.9 361.7h0M252.0 352.7h0M251.0 343.1h0M276.0 341.8h0M241.7 336.2h0M307.2 363.8h0M305.6 363.9h0M235.5 333.1h0M230.2 340.2h0M288.9 362.5h0M243.8 329.8h0M306.3 372.5h0M285.7 334.2h0M281.8 335.0h0M270.5 343.7h0M298.8 352.1h0M304.9 349.3h0M269.5 392.1h0M298.4 366.4h0M302.5 358.6h0M300.6 354.3h0M307.9 347.5h0M298.5 356.8h0M282.5 357.6h0M255.2 348.5h0M305.8 346.4h0" stroke="#af3248" stroke-width="0.95" stroke-linecap="round" fill="none"/>
<path d="M280.2 401.8h0M279.1 400.5h0M277.0 398.1h0M261.0 399.0h0M279.9 400.6h0M279.7 397.2h0M298.7 357.1h0M298.6 373.1h0M300.2 356.0h0M299.1 354.2h0M293.2 359.3h0M293.3 366.3h0M295.1 356.5h0M298.6 368.9h0M292.8 363.4h0M295.7 365.2h0M297.5 358.7h0M292.4 360.8h0M299.8 358.7h0M293.1 365.1h0M297.9 355.1h0M300.4 362.5h0M298.4 370.5h0M295.7 360.6h0M293.9 366.3h0M296.7 357.9h0" stroke="#bd6373" stroke-width="0.95" stroke-linecap="round" fill="none"/>
<path d="M274.2 400.4h0M281.4 397.1h0M268.5 401.3h0M269.5 401.3h0M280.1 398.7h0M272.0 399.0h0M273.7 399.9h0M300.1 362.4h0M294.0 361.5h0M294.0 366.7h0M300.1 363.2h0M298.9 355.8h0M297.0 364.5h0M293.9 372.8h0M295.6 362.3h0M294.1 363.3h0M298.7 365.8h0M300.2 358.2h0M298.3 360.4h0M298.6 355.1h0M293.6 365.1h0M293.4 371.0h0" stroke="#b1394e" stroke-width="0.95" stroke-linecap="round" fill="none"/>
<path d="M278.2 397.4h0M280.3 401.5h0M273.8 400.7h0M269.0 401.4h0M278.6 397.2h0M273.0 401.5h0M275.8 399.9h0M271.2 402.2h0M273.4 400.2h0M281.0 398.5h0M274.6 398.2h0M295.1 362.6h0M296.5 360.9h0M292.8 359.3h0M295.3 359.6h0M298.9 366.0h0M295.5 362.9h0M297.7 365.4h0M298.2 362.7h0M292.7 362.0h0M294.0 368.0h0M293.4 354.1h0M294.4 372.0h0M294.1 355.2h0M292.5 371.6h0" stroke="#a50f2a" stroke-width="0.95" stroke-linecap="round" fill="none"/>
<path d="M205.10 313.50L205.10 410.90" stroke="#000" stroke-width="1.1"/>
<path d="M204.60 410.40L322.20 410.40" stroke="#000" stroke-width="1.1"/>
<path d="M202.10 317.40L205.10 317.40" stroke="#000" stroke-width="0.9"/>
<text x="200.2" y="320.4" font-size="8.6" text-anchor="end" textLength="10.8" lengthAdjust="spacingAndGlyphs" stroke="#000" stroke-width="0.2">5.0</text>
<path d="M202.10 339.65L205.10 339.65" stroke="#000" stroke-width="0.9"/>
<text x="200.2" y="342.6" font-size="8.6" text-anchor="end" textLength="10.8" lengthAdjust="spacingAndGlyphs" stroke="#000" stroke-width="0.2">2.5</text>
<path d="M202.10 361.90L205.10 361.90" stroke="#000" stroke-width="0.9"/>
<text x="200.2" y="364.9" font-size="8.6" text-anchor="end" textLength="4.4" lengthAdjust="spacingAndGlyphs" stroke="#000" stroke-width="0.2">0</text>
<path d="M202.10 384.15L205.10 384.15" stroke="#000" stroke-width="0.9"/>
<text x="200.2" y="387.1" font-size="8.6" text-anchor="end" textLength="15.0" lengthAdjust="spacingAndGlyphs" stroke="#000" stroke-width="0.2">−2.5</text>
<path d="M202.10 406.40L205.10 406.40" stroke="#000" stroke-width="0.9"/>
<text x="200.2" y="409.4" font-size="8.6" text-anchor="end" textLength="15.0" lengthAdjust="spacingAndGlyphs" stroke="#000" stroke-width="0.2">−5.0</text>
<path d="M210.10 410.40L210.10 413.40" stroke="#000" stroke-width="0.9"/>
<text x="209.3" y="422.2" font-size="8.6" text-anchor="middle" textLength="12.7" lengthAdjust="spacingAndGlyphs" stroke="#000" stroke-width="0.2">−10</text>
<path d="M239.85 410.40L239.85 413.40" stroke="#000" stroke-width="0.9"/>
<text x="239.1" y="422.2" font-size="8.6" text-anchor="middle" textLength="8.6" lengthAdjust="spacingAndGlyphs" stroke="#000" stroke-width="0.2">−5</text>
<path d="M269.60 410.40L269.60 413.40" stroke="#000" stroke-width="0.9"/>
<text x="269.6" y="422.2" font-size="8.6" text-anchor="middle" textLength="4.4" lengthAdjust="spacingAndGlyphs" stroke="#000" stroke-width="0.2">0</text>
<path d="M299.35 410.40L299.35 413.40" stroke="#000" stroke-width="0.9"/>
<text x="299.4" y="422.2" font-size="8.6" text-anchor="middle" textLength="4.4" lengthAdjust="spacingAndGlyphs" stroke="#000" stroke-width="0.2">5</text>
<text x="258.2" y="432.5" font-size="9.4" text-anchor="middle" textLength="29.5" lengthAdjust="spacingAndGlyphs" stroke="#000" stroke-width="0.08">UMAP_1</text>
<text x="182.9" y="363.5" font-size="9.6" text-anchor="middle" textLength="29.0" lengthAdjust="spacingAndGlyphs" transform="rotate(-90 182.9 363.5)" stroke="#000" stroke-width="0.08">UMAP_2</text>
<text x="210.3" y="316.2" font-size="7.6" font-style="italic" textLength="12.7" lengthAdjust="spacingAndGlyphs" stroke="#000" stroke-width="0.05">Igf1</text>
<linearGradient id="gH" x1="0" y1="1" x2="0" y2="0"><stop offset="0" stop-color="#e6e6e6"/><stop offset="1" stop-color="#a50f2a"/></linearGradient>
<rect x="321.20" y="345.60" width="6.20" height="32.10" fill="url(#gH)"/>
<text x="329.0" y="353.9" font-size="8.3" textLength="10.0" lengthAdjust="spacingAndGlyphs" stroke="#000" stroke-width="0.08">1.5</text>
<text x="329.0" y="362.4" font-size="8.3" textLength="10.0" lengthAdjust="spacingAndGlyphs" stroke="#000" stroke-width="0.08">1.0</text>
<text x="329.0" y="370.9" font-size="8.3" textLength="10.0" lengthAdjust="spacingAndGlyphs" stroke="#000" stroke-width="0.08">0.5</text>
<text x="329.0" y="379.4" font-size="8.3" textLength="10.0" lengthAdjust="spacingAndGlyphs" stroke="#000" stroke-width="0.08">0.0</text>
<rect x="399.80" y="70.71" width="11.10" height="51.59" fill="#0a6ebd"/>
<rect x="412.30" y="68.11" width="11.10" height="54.19" fill="#dc5420"/>
<rect x="424.80" y="57.69" width="11.10" height="64.61" fill="#f9b928"/>
<rect x="437.30" y="31.94" width="11.10" height="90.36" fill="#5b2570"/>
<rect x="449.80" y="64.82" width="11.10" height="57.48" fill="#3bb04a"/>
<rect x="462.10" y="71.20" width="11.10" height="51.10" fill="#c8153a"/>
<rect x="474.60" y="88.49" width="11.10" height="33.81" fill="#066a4f"/>
<rect x="487.10" y="88.00" width="11.10" height="34.30" fill="#2ea8e0"/>
<rect x="499.30" y="60.16" width="11.10" height="62.14" fill="#b9b9bf"/>
<path d="M398.50 27.50L398.50 122.80" stroke="#000" stroke-width="1.1"/>
<path d="M398.00 122.30L512.00 122.30" stroke="#000" stroke-width="1.1"/>
<path d="M395.50 117.70L398.50 117.70" stroke="#000" stroke-width="0.9"/>
<text x="392.5" y="120.6" font-size="8.2" text-anchor="end" textLength="4.1" lengthAdjust="spacingAndGlyphs" stroke="#000" stroke-width="0.2">0</text>
<path d="M395.50 90.30L398.50 90.30" stroke="#000" stroke-width="0.9"/>
<text x="392.5" y="93.2" font-size="8.2" text-anchor="end" textLength="8.2" lengthAdjust="spacingAndGlyphs" stroke="#000" stroke-width="0.2">10</text>
<path d="M395.50 62.90L398.50 62.90" stroke="#000" stroke-width="0.9"/>
<text x="392.5" y="65.8" font-size="8.2" text-anchor="end" textLength="8.2" lengthAdjust="spacingAndGlyphs" stroke="#000" stroke-width="0.2">20</text>
<path d="M395.50 35.50L398.50 35.50" stroke="#000" stroke-width="0.9"/>
<text x="392.5" y="38.4" font-size="8.2" text-anchor="end" textLength="8.2" lengthAdjust="spacingAndGlyphs" stroke="#000" stroke-width="0.2">30</text>
<path d="M405.35 122.30L405.35 125.30" stroke="#000" stroke-width="0.9"/>
<text x="405.4" y="134.7" font-size="8.2" text-anchor="middle" textLength="4.1" lengthAdjust="spacingAndGlyphs" stroke="#000" stroke-width="0.2">0</text>
<path d="M417.85 122.30L417.85 125.30" stroke="#000" stroke-width="0.9"/>
<text x="417.9" y="134.7" font-size="8.2" text-anchor="middle" textLength="4.1" lengthAdjust="spacingAndGlyphs" stroke="#000" stroke-width="0.2">1</text>
<path d="M430.35 122.30L430.35 125.30" stroke="#000" stroke-width="0.9"/>
<text x="430.4" y="134.7" font-size="8.2" text-anchor="middle" textLength="4.1" lengthAdjust="spacingAndGlyphs" stroke="#000" stroke-width="0.2">2</text>
<path d="M442.85 122.30L442.85 125.30" stroke="#000" stroke-width="0.9"/>
<text x="442.9" y="134.7" font-size="8.2" text-anchor="middle" textLength="4.1" lengthAdjust="spacingAndGlyphs" stroke="#000" stroke-width="0.2">3</text>
<path d="M455.35 122.30L455.35 125.30" stroke="#000" stroke-width="0.9"/>
<text x="455.4" y="134.7" font-size="8.2" text-anchor="middle" textLength="4.1" lengthAdjust="spacingAndGlyphs" stroke="#000" stroke-width="0.2">4</text>
<path d="M467.65 122.30L467.65 125.30" stroke="#000" stroke-width="0.9"/>
<text x="467.7" y="134.7" font-size="8.2" text-anchor="middle" textLength="4.1" lengthAdjust="spacingAndGlyphs" stroke="#000" stroke-width="0.2">5</text>
<path d="M480.15 122.30L480.15 125.30" stroke="#000" stroke-width="0.9"/>
<text x="480.2" y="134.7" font-size="8.2" text-anchor="middle" textLength="4.1" lengthAdjust="spacingAndGlyphs" stroke="#000" stroke-width="0.2">6</text>
<path d="M492.65 122.30L492.65 125.30" stroke="#000" stroke-width="0.9"/>
<text x="492.7" y="134.7" font-size="8.2" text-anchor="middle" textLength="4.1" lengthAdjust="spacingAndGlyphs" stroke="#000" stroke-width="0.2">7</text>
<path d="M504.85 122.30L504.85 125.30" stroke="#000" stroke-width="0.9"/>
<text x="504.9" y="134.7" font-size="8.2" text-anchor="middle" textLength="4.1" lengthAdjust="spacingAndGlyphs" stroke="#000" stroke-width="0.2">8</text>
<text x="404.0" y="28.9" font-size="8.4" font-style="italic" textLength="27.8" lengthAdjust="spacingAndGlyphs" stroke="#000" stroke-width="0.05">Igf2bp2</text>
<text x="454.5" y="146.0" font-size="9.4" text-anchor="middle" textLength="51.6" lengthAdjust="spacingAndGlyphs" stroke="#000" stroke-width="0.1">Cluster number</text>
<text x="367.8" y="74.6" font-size="8.2" text-anchor="middle" textLength="76.0" lengthAdjust="spacingAndGlyphs" transform="rotate(-90 367.8 74.6)" stroke="#000" stroke-width="0.2">Percentage of <tspan font-style="italic">Igf2bp2</tspan>-</text>
<text x="380.0" y="77.7" font-size="8.2" text-anchor="middle" textLength="52.2" lengthAdjust="spacingAndGlyphs" transform="rotate(-90 380.0 77.7)" stroke="#000" stroke-width="0.2">expressing cells</text>
<rect x="226.30" y="207.85" width="10.80" height="59.45" fill="#0a6ebd"/>
<rect x="238.40" y="221.52" width="10.80" height="45.78" fill="#dc5420"/>
<rect x="250.50" y="204.67" width="10.80" height="62.63" fill="#f9b928"/>
<rect x="263.20" y="176.37" width="10.80" height="90.93" fill="#5b2570"/>
<rect x="275.20" y="201.49" width="10.80" height="65.81" fill="#3bb04a"/>
<rect x="288.00" y="205.78" width="10.80" height="61.52" fill="#c8153a"/>
<rect x="300.60" y="228.84" width="10.80" height="38.46" fill="#066a4f"/>
<rect x="312.70" y="222.16" width="10.80" height="45.14" fill="#2ea8e0"/>
<rect x="325.40" y="206.26" width="10.80" height="61.04" fill="#b9b9bf"/>
<path d="M224.20 171.60L224.20 267.80" stroke="#000" stroke-width="1.1"/>
<path d="M223.70 267.30L337.80 267.30" stroke="#000" stroke-width="1.1"/>
<path d="M221.20 263.50L224.20 263.50" stroke="#000" stroke-width="0.9"/>
<text x="218.6" y="266.4" font-size="8.2" text-anchor="end" textLength="4.1" lengthAdjust="spacingAndGlyphs" stroke="#000" stroke-width="0.2">0</text>
<path d="M221.20 231.70L224.20 231.70" stroke="#000" stroke-width="0.9"/>
<text x="218.6" y="234.6" font-size="8.2" text-anchor="end" textLength="4.1" lengthAdjust="spacingAndGlyphs" stroke="#000" stroke-width="0.2">2</text>
<path d="M221.20 199.90L224.20 199.90" stroke="#000" stroke-width="0.9"/>
<text x="218.6" y="202.8" font-size="8.2" text-anchor="end" textLength="4.1" lengthAdjust="spacingAndGlyphs" stroke="#000" stroke-width="0.2">4</text>
<path d="M231.70 267.30L231.70 270.30" stroke="#000" stroke-width="0.9"/>
<text x="231.7" y="279.6" font-size="8.2" text-anchor="middle" textLength="4.1" lengthAdjust="spacingAndGlyphs" stroke="#000" stroke-width="0.2">0</text>
<path d="M243.80 267.30L243.80 270.30" stroke="#000" stroke-width="0.9"/>
<text x="243.8" y="279.6" font-size="8.2" text-anchor="middle" textLength="4.1" lengthAdjust="spacingAndGlyphs" stroke="#000" stroke-width="0.2">1</text>
<path d="M255.90 267.30L255.90 270.30" stroke="#000" stroke-width="0.9"/>
<text x="255.9" y="279.6" font-size="8.2" text-anchor="middle" textLength="4.1" lengthAdjust="spacingAndGlyphs" stroke="#000" stroke-width="0.2">2</text>
<path d="M268.60 267.30L268.60 270.30" stroke="#000" stroke-width="0.9"/>
<text x="268.6" y="279.6" font-size="8.2" text-anchor="middle" textLength="4.1" lengthAdjust="spacingAndGlyphs" stroke="#000" stroke-width="0.2">3</text>
<path d="M280.60 267.30L280.60 270.30" stroke="#000" stroke-width="0.9"/>
<text x="280.6" y="279.6" font-size="8.2" text-anchor="middle" textLength="4.1" lengthAdjust="spacingAndGlyphs" stroke="#000" stroke-width="0.2">4</text>
<path d="M293.40 267.30L293.40 270.30" stroke="#000" stroke-width="0.9"/>
<text x="293.4" y="279.6" font-size="8.2" text-anchor="middle" textLength="4.1" lengthAdjust="spacingAndGlyphs" stroke="#000" stroke-width="0.2">5</text>
<path d="M306.00 267.30L306.00 270.30" stroke="#000" stroke-width="0.9"/>
<text x="306.0" y="279.6" font-size="8.2" text-anchor="middle" textLength="4.1" lengthAdjust="spacingAndGlyphs" stroke="#000" stroke-width="0.2">6</text>
<path d="M318.10 267.30L318.10 270.30" stroke="#000" stroke-width="0.9"/>
<text x="318.1" y="279.6" font-size="8.2" text-anchor="middle" textLength="4.1" lengthAdjust="spacingAndGlyphs" stroke="#000" stroke-width="0.2">7</text>
<path d="M330.80 267.30L330.80 270.30" stroke="#000" stroke-width="0.9"/>
<text x="330.8" y="279.6" font-size="8.2" text-anchor="middle" textLength="4.1" lengthAdjust="spacingAndGlyphs" stroke="#000" stroke-width="0.2">8</text>
<text x="230.0" y="175.0" font-size="7.9" font-style="italic" textLength="23.5" lengthAdjust="spacingAndGlyphs" stroke="#000" stroke-width="0.05">Lin28b</text>
<text x="280.0" y="290.8" font-size="9.4" text-anchor="middle" textLength="51.7" lengthAdjust="spacingAndGlyphs" stroke="#000" stroke-width="0.1">Cluster number</text>
<text x="198.6" y="214.0" font-size="8.2" text-anchor="middle" textLength="70.7" lengthAdjust="spacingAndGlyphs" transform="rotate(-90 198.6 214.0)" stroke="#000" stroke-width="0.2">Percentage of <tspan font-style="italic">Lin28b</tspan>-</text>
<text x="210.5" y="216.0" font-size="8.2" text-anchor="middle" textLength="52.3" lengthAdjust="spacingAndGlyphs" transform="rotate(-90 210.5 216.0)" stroke="#000" stroke-width="0.2">expressing cells</text>
<rect x="43.80" y="390.74" width="10.80" height="18.66" fill="#0a6ebd"/>
<rect x="56.10" y="388.77" width="10.80" height="20.63" fill="#dc5420"/>
<rect x="68.60" y="395.66" width="10.80" height="13.74" fill="#f9b928"/>
<rect x="81.00" y="320.22" width="10.80" height="89.18" fill="#5b2570"/>
<rect x="93.20" y="389.92" width="10.80" height="19.48" fill="#3bb04a"/>
<rect x="105.50" y="381.39" width="10.80" height="28.01" fill="#c8153a"/>
<rect x="130.20" y="397.96" width="10.80" height="11.44" fill="#2ea8e0"/>
<rect x="142.50" y="361.22" width="10.80" height="48.18" fill="#b9b9bf"/>
<path d="M42.30 315.00L42.30 409.90" stroke="#000" stroke-width="1.1"/>
<path d="M41.80 409.40L153.80 409.40" stroke="#000" stroke-width="1.1"/>
<path d="M39.30 405.50L42.30 405.50" stroke="#000" stroke-width="0.9"/>
<text x="37.0" y="408.4" font-size="8.2" text-anchor="end" textLength="4.1" lengthAdjust="spacingAndGlyphs" stroke="#000" stroke-width="0.2">0</text>
<path d="M39.30 389.10L42.30 389.10" stroke="#000" stroke-width="0.9"/>
<text x="37.0" y="392.0" font-size="8.2" text-anchor="end" textLength="4.1" lengthAdjust="spacingAndGlyphs" stroke="#000" stroke-width="0.2">1</text>
<path d="M39.30 372.70L42.30 372.70" stroke="#000" stroke-width="0.9"/>
<text x="37.0" y="375.6" font-size="8.2" text-anchor="end" textLength="4.1" lengthAdjust="spacingAndGlyphs" stroke="#000" stroke-width="0.2">2</text>
<path d="M39.30 356.30L42.30 356.30" stroke="#000" stroke-width="0.9"/>
<text x="37.0" y="359.2" font-size="8.2" text-anchor="end" textLength="4.1" lengthAdjust="spacingAndGlyphs" stroke="#000" stroke-width="0.2">3</text>
<path d="M39.30 339.90L42.30 339.90" stroke="#000" stroke-width="0.9"/>
<text x="37.0" y="342.8" font-size="8.2" text-anchor="end" textLength="4.1" lengthAdjust="spacingAndGlyphs" stroke="#000" stroke-width="0.2">4</text>
<path d="M39.30 323.50L42.30 323.50" stroke="#000" stroke-width="0.9"/>
<text x="37.0" y="326.4" font-size="8.2" text-anchor="end" textLength="4.1" lengthAdjust="spacingAndGlyphs" stroke="#000" stroke-width="0.2">5</text>
<path d="M49.20 409.40L49.20 412.40" stroke="#000" stroke-width="0.9"/>
<text x="49.2" y="421.5" font-size="8.2" text-anchor="middle" textLength="4.1" lengthAdjust="spacingAndGlyphs" stroke="#000" stroke-width="0.2">0</text>
<path d="M61.50 409.40L61.50 412.40" stroke="#000" stroke-width="0.9"/>
<text x="61.5" y="421.5" font-size="8.2" text-anchor="middle" textLength="4.1" lengthAdjust="spacingAndGlyphs" stroke="#000" stroke-width="0.2">1</text>
<path d="M74.00 409.40L74.00 412.40" stroke="#000" stroke-width="0.9"/>
<text x="74.0" y="421.5" font-size="8.2" text-anchor="middle" textLength="4.1" lengthAdjust="spacingAndGlyphs" stroke="#000" stroke-width="0.2">2</text>
<path d="M86.40 409.40L86.40 412.40" stroke="#000" stroke-width="0.9"/>
<text x="86.4" y="421.5" font-size="8.2" text-anchor="middle" textLength="4.1" lengthAdjust="spacingAndGlyphs" stroke="#000" stroke-width="0.2">3</text>
<path d="M98.60 409.40L98.60 412.40" stroke="#000" stroke-width="0.9"/>
<text x="98.6" y="421.5" font-size="8.2" text-anchor="middle" textLength="4.1" lengthAdjust="spacingAndGlyphs" stroke="#000" stroke-width="0.2">4</text>
<path d="M110.90 409.40L110.90 412.40" stroke="#000" stroke-width="0.9"/>
<text x="110.9" y="421.5" font-size="8.2" text-anchor="middle" textLength="4.1" lengthAdjust="spacingAndGlyphs" stroke="#000" stroke-width="0.2">5</text>
<path d="M123.40 409.40L123.40 412.40" stroke="#000" stroke-width="0.9"/>
<text x="123.4" y="421.5" font-size="8.2" text-anchor="middle" textLength="4.1" lengthAdjust="spacingAndGlyphs" stroke="#000" stroke-width="0.2">6</text>
<path d="M135.60 409.40L135.60 412.40" stroke="#000" stroke-width="0.9"/>
<text x="135.6" y="421.5" font-size="8.2" text-anchor="middle" textLength="4.1" lengthAdjust="spacingAndGlyphs" stroke="#000" stroke-width="0.2">7</text>
<path d="M147.90 409.40L147.90 412.40" stroke="#000" stroke-width="0.9"/>
<text x="147.9" y="421.5" font-size="8.2" text-anchor="middle" textLength="4.1" lengthAdjust="spacingAndGlyphs" stroke="#000" stroke-width="0.2">8</text>
<text x="46.9" y="316.5" font-size="7.9" font-style="italic" textLength="13.9" lengthAdjust="spacingAndGlyphs" stroke="#000" stroke-width="0.05">Igf2</text>
<text x="96.9" y="433.3" font-size="9.4" text-anchor="middle" textLength="52.2" lengthAdjust="spacingAndGlyphs" stroke="#000" stroke-width="0.1">Cluster number</text>
<text x="12.2" y="392.0" font-size="8.2" textLength="59.5" lengthAdjust="spacingAndGlyphs" transform="rotate(-90 12.2 392.0)" stroke="#000" stroke-width="0.2">Percentage of <tspan font-style="italic">Igf2</tspan></text>
<text x="24.0" y="392.3" font-size="8.2" textLength="54.2" lengthAdjust="spacingAndGlyphs" transform="rotate(-90 24.0 392.3)" stroke="#000" stroke-width="0.2">-expressing cells</text>
<rect x="385.40" y="381.12" width="11.00" height="28.88" fill="#0a6ebd"/>
<rect x="398.20" y="389.21" width="11.00" height="20.79" fill="#dc5420"/>
<rect x="410.70" y="383.30" width="11.00" height="26.70" fill="#f9b928"/>
<rect x="423.10" y="321.10" width="11.00" height="88.90" fill="#5b2570"/>
<rect x="435.20" y="353.75" width="11.00" height="56.25" fill="#3bb04a"/>
<rect x="447.70" y="378.94" width="11.00" height="31.06" fill="#c8153a"/>
<rect x="460.20" y="386.72" width="11.00" height="23.28" fill="#066a4f"/>
<rect x="473.00" y="388.58" width="11.00" height="21.42" fill="#2ea8e0"/>
<rect x="485.10" y="356.86" width="11.00" height="53.14" fill="#b9b9bf"/>
<path d="M384.00 315.00L384.00 410.50" stroke="#000" stroke-width="1.1"/>
<path d="M383.50 410.00L498.20 410.00" stroke="#000" stroke-width="1.1"/>
<path d="M381.00 406.00L384.00 406.00" stroke="#000" stroke-width="0.9"/>
<text x="379.3" y="408.9" font-size="8.2" text-anchor="end" textLength="4.1" lengthAdjust="spacingAndGlyphs" stroke="#000" stroke-width="0.2">0</text>
<path d="M381.00 374.90L384.00 374.90" stroke="#000" stroke-width="0.9"/>
<text x="379.3" y="377.8" font-size="8.2" text-anchor="end" textLength="8.2" lengthAdjust="spacingAndGlyphs" stroke="#000" stroke-width="0.2">10</text>
<path d="M381.00 343.80L384.00 343.80" stroke="#000" stroke-width="0.9"/>
<text x="379.3" y="346.7" font-size="8.2" text-anchor="end" textLength="8.2" lengthAdjust="spacingAndGlyphs" stroke="#000" stroke-width="0.2">20</text>
<path d="M390.90 410.00L390.90 413.00" stroke="#000" stroke-width="0.9"/>
<text x="390.9" y="421.0" font-size="8.2" text-anchor="middle" textLength="4.1" lengthAdjust="spacingAndGlyphs" stroke="#000" stroke-width="0.2">0</text>
<path d="M403.70 410.00L403.70 413.00" stroke="#000" stroke-width="0.9"/>
<text x="403.7" y="421.0" font-size="8.2" text-anchor="middle" textLength="4.1" lengthAdjust="spacingAndGlyphs" stroke="#000" stroke-width="0.2">1</text>
<path d="M416.20 410.00L416.20 413.00" stroke="#000" stroke-width="0.9"/>
<text x="416.2" y="421.0" font-size="8.2" text-anchor="middle" textLength="4.1" lengthAdjust="spacingAndGlyphs" stroke="#000" stroke-width="0.2">2</text>
<path d="M428.60 410.00L428.60 413.00" stroke="#000" stroke-width="0.9"/>
<text x="428.6" y="421.0" font-size="8.2" text-anchor="middle" textLength="4.1" lengthAdjust="spacingAndGlyphs" stroke="#000" stroke-width="0.2">3</text>
<path d="M440.70 410.00L440.70 413.00" stroke="#000" stroke-width="0.9"/>
<text x="440.7" y="421.0" font-size="8.2" text-anchor="middle" textLength="4.1" lengthAdjust="spacingAndGlyphs" stroke="#000" stroke-width="0.2">4</text>
<path d="M453.20 410.00L453.20 413.00" stroke="#000" stroke-width="0.9"/>
<text x="453.2" y="421.0" font-size="8.2" text-anchor="middle" textLength="4.1" lengthAdjust="spacingAndGlyphs" stroke="#000" stroke-width="0.2">5</text>
<path d="M465.70 410.00L465.70 413.00" stroke="#000" stroke-width="0.9"/>
<text x="465.7" y="421.0" font-size="8.2" text-anchor="middle" textLength="4.1" lengthAdjust="spacingAndGlyphs" stroke="#000" stroke-width="0.2">6</text>
<path d="M478.50 410.00L478.50 413.00" stroke="#000" stroke-width="0.9"/>
<text x="478.5" y="421.0" font-size="8.2" text-anchor="middle" textLength="4.1" lengthAdjust="spacingAndGlyphs" stroke="#000" stroke-width="0.2">7</text>
<path d="M490.60 410.00L490.60 413.00" stroke="#000" stroke-width="0.9"/>
<text x="490.6" y="421.0" font-size="8.2" text-anchor="middle" textLength="4.1" lengthAdjust="spacingAndGlyphs" stroke="#000" stroke-width="0.2">8</text>
<text x="388.8" y="316.0" font-size="7.9" font-style="italic" textLength="13.1" lengthAdjust="spacingAndGlyphs" stroke="#000" stroke-width="0.05">Igf1</text>
<text x="439.8" y="432.8" font-size="9.4" text-anchor="middle" textLength="51.5" lengthAdjust="spacingAndGlyphs" stroke="#000" stroke-width="0.1">Cluster number</text>
<text x="354.8" y="390.0" font-size="8.2" textLength="59.4" lengthAdjust="spacingAndGlyphs" transform="rotate(-90 354.8 390.0)" stroke="#000" stroke-width="0.2">Percentage of <tspan font-style="italic">Igf1</tspan></text>
<text x="365.5" y="390.4" font-size="8.2" textLength="55.0" lengthAdjust="spacingAndGlyphs" transform="rotate(-90 365.5 390.4)" stroke="#000" stroke-width="0.2">-expressing cells</text>
<rect x="31.00" y="453.00" width="65.20" height="7.60" fill="#0a6ebd"/>
<rect x="96.20" y="453.00" width="33.30" height="7.60" fill="#dc5420"/>
<rect x="129.50" y="453.00" width="20.10" height="7.60" fill="#f9b928"/>
<rect x="149.60" y="453.00" width="14.80" height="7.60" fill="#5b2570"/>
<rect x="164.40" y="453.00" width="13.40" height="7.60" fill="#3bb04a"/>
<rect x="177.80" y="453.00" width="6.40" height="7.60" fill="#c8153a"/>
<rect x="184.20" y="453.00" width="6.70" height="7.60" fill="#066a4f"/>
<rect x="190.90" y="453.00" width="5.80" height="7.60" fill="#2ea8e0"/>
<rect x="196.70" y="453.00" width="5.30" height="7.60" fill="#b9b9bf"/>
<text x="63.4" y="451.4" font-size="7.4" text-anchor="middle" textLength="4.0" lengthAdjust="spacingAndGlyphs" stroke="#000" stroke-width="0.2">0</text>
<text x="113.3" y="451.4" font-size="7.4" text-anchor="middle" textLength="4.0" lengthAdjust="spacingAndGlyphs" stroke="#000" stroke-width="0.2">1</text>
<text x="138.6" y="451.4" font-size="7.4" text-anchor="middle" textLength="4.0" lengthAdjust="spacingAndGlyphs" stroke="#000" stroke-width="0.2">2</text>
<text x="156.6" y="451.4" font-size="7.4" text-anchor="middle" textLength="4.0" lengthAdjust="spacingAndGlyphs" stroke="#000" stroke-width="0.2">3</text>
<text x="170.9" y="451.4" font-size="7.4" text-anchor="middle" textLength="4.0" lengthAdjust="spacingAndGlyphs" stroke="#000" stroke-width="0.2">4</text>
<text x="180.9" y="451.4" font-size="7.4" text-anchor="middle" textLength="4.0" lengthAdjust="spacingAndGlyphs" stroke="#000" stroke-width="0.2">5</text>
<text x="188.0" y="451.4" font-size="7.4" text-anchor="middle" textLength="4.0" lengthAdjust="spacingAndGlyphs" stroke="#000" stroke-width="0.2">6</text>
<text x="193.9" y="451.4" font-size="7.4" text-anchor="middle" textLength="4.0" lengthAdjust="spacingAndGlyphs" stroke="#000" stroke-width="0.2">7</text>
<text x="199.3" y="451.4" font-size="7.4" text-anchor="middle" textLength="4.0" lengthAdjust="spacingAndGlyphs" stroke="#000" stroke-width="0.2">8</text>
<filter id="hb" x="-0.02" y="-0.02" width="1.04" height="1.04"><feGaussianBlur stdDeviation="0.5 0.25"/></filter><g filter="url(#hb)">
<path d="M109 482.38h1" stroke="#0c0cfc" stroke-width="4.59" fill="none"/>
<path d="M114 482.38h1" stroke="#2424fc" stroke-width="4.59" fill="none"/>
<path d="M133 482.38h1" stroke="#3c3cfc" stroke-width="4.59" fill="none"/>
<path d="M115 482.38h1M145 482.38h1M123 486.91h1" stroke="#4848fc" stroke-width="4.59" fill="none"/>
<path d="M104 482.38h1M118 482.38h1M109 486.91h1M127 495.99h1M109 505.06h1M133 604.87h1M86 613.94h1" stroke="#5454fc" stroke-width="4.59" fill="none"/>
<path d="M145 477.84h1M97 482.38h1M103 482.38h1M108 482.38h1M119 482.38h1M123 482.38h1M138 482.38h1M109 495.99h1M123 505.06h1M109 509.60h1M90 595.79h1M153 595.79h1M173 595.79h1M151 600.33h1" stroke="#6060fc" stroke-width="4.59" fill="none"/>
<path d="M167 468.77h1M98 482.38h1M101 482.38h2M105 482.38h1M126 482.38h2M129 482.38h1M141 482.38h1M127 486.91h1M145 491.45h1M147 491.45h1M96 495.99h1M102 505.06h1M114 509.60h1M109 514.13h1M114 518.67h1M137 518.67h1M109 550.43h1M147 550.43h1M109 559.50h1M160 586.72h1M161 600.33h1M33 623.01h1M33 645.70h1M67 645.70h1" stroke="#6c6cfc" stroke-width="4.59" fill="none"/>
<path d="M52 468.77h1M127 477.84h1M135 482.38h1M137 482.38h1M139 482.38h1M149 482.38h1M123 495.99h1M173 500.52h1M100 505.06h1M135 509.60h1M145 514.13h1M139 518.67h1M109 532.28h1M45 568.57h1M151 568.57h1M161 582.18h1M151 586.72h1M69 595.79h1M154 595.79h1M161 595.79h1M150 600.33h1M155 600.33h1M149 604.87h1M63 613.94h1M151 636.62h1" stroke="#7878fc" stroke-width="4.59" fill="none"/>
<path d="M145 527.74h1" stroke="#8460d8" stroke-width="4.59" fill="none"/>
<path d="M110 486.91h1" stroke="#846ce4" stroke-width="4.59" fill="none"/>
<path d="M126 559.50h1" stroke="#846cf0" stroke-width="4.59" fill="none"/>
<path d="M195 473.30h1" stroke="#8478fc" stroke-width="4.59" fill="none"/>
<path d="M71 468.77h1M96 482.38h1M100 482.38h1M107 482.38h1M120 482.38h3M144 482.38h1M146 482.38h1M104 486.91h1M118 486.91h1M133 486.91h1M149 486.91h1M114 491.45h1M126 491.45h1M136 491.45h2M97 495.99h1M100 495.99h1M127 500.52h1M115 514.13h1M135 514.13h1M149 518.67h1M123 532.28h1M126 532.28h1M142 536.82h1M149 536.82h1M168 536.82h1M109 541.35h1M145 541.35h1M189 545.89h1M142 550.43h1M187 554.96h1M65 559.50h1M114 559.50h1M156 568.57h1M152 573.11h1M33 582.18h1M69 586.72h1M194 586.72h1M86 591.26h1M161 591.26h1M91 595.79h1M123 595.79h1M151 595.79h1M137 600.33h2M160 600.33h1M94 604.87h1M138 604.87h1M138 609.40h1M91 618.48h1M153 618.48h1M167 623.01h1M149 627.55h1M161 636.62h1M56 645.70h1M94 645.70h1M151 645.70h1M173 645.70h1" stroke="#8484fc" stroke-width="4.59" fill="none"/>
<path d="M156 514.13h1" stroke="#906cd8" stroke-width="4.59" fill="none"/>
<path d="M110 482.38h1" stroke="#9078f0" stroke-width="4.59" fill="none"/>
<path d="M142 482.38h1M48 591.26h1" stroke="#9084f0" stroke-width="4.59" fill="none"/>
<path d="M115 509.60h1M139 545.89h1M161 604.87h1" stroke="#9084fc" stroke-width="4.59" fill="none"/>
<path d="M122 477.84h1M126 477.84h1M138 477.84h1M147 477.84h1M106 482.38h1M116 482.38h1M124 482.38h1M140 482.38h1M114 486.91h1M119 486.91h1M134 486.91h1M109 491.45h1M102 495.99h1M116 495.99h1M118 495.99h1M120 495.99h1M145 500.52h1M135 505.06h1M69 509.60h1M123 509.60h1M145 509.60h1M118 514.13h1M136 527.74h1M149 527.74h1M96 541.35h1M104 541.35h1M114 541.35h1M109 545.89h1M119 545.89h1M123 545.89h1M111 550.43h1M123 550.43h1M135 550.43h1M149 550.43h1M109 554.96h1M135 559.50h1M91 564.04h1M153 564.04h1M151 573.11h1M159 573.11h2M178 573.11h1M150 577.65h1M54 586.72h1M151 591.26h1M153 591.26h1M156 591.26h1M176 591.26h1M34 595.79h1M52 595.79h1M83 595.79h1M157 595.79h1M162 595.79h1M133 600.33h1M135 600.33h2M145 600.33h1M131 604.87h1M141 604.87h1M160 604.87h1M95 613.94h1M153 613.94h1M195 613.94h1M65 623.01h1M151 623.01h1M173 623.01h1M62 627.55h1M161 645.70h1M91 650.23h1" stroke="#9090fc" stroke-width="4.59" fill="none"/>
<path d="M93 568.57h1" stroke="#9c60cc" stroke-width="4.59" fill="none"/>
<path d="M32 595.79h1" stroke="#9c6cd8" stroke-width="4.59" fill="none"/>
<path d="M164 482.38h1" stroke="#9c78e4" stroke-width="4.59" fill="none"/>
<path d="M189 468.77h1M114 477.84h1M40 486.91h1M138 591.26h1M33 618.48h1M35 650.23h1" stroke="#9c84e4" stroke-width="4.59" fill="none"/>
<path d="M191 500.52h1M186 541.35h1M195 550.43h1M169 636.62h1" stroke="#9c84f0" stroke-width="4.59" fill="none"/>
<path d="M156 595.79h1M94 618.48h1M84 645.70h1" stroke="#9c90f0" stroke-width="4.59" fill="none"/>
<path d="M195 559.50h1M144 604.87h1M33 627.55h1" stroke="#9c90fc" stroke-width="4.59" fill="none"/>
<path d="M72 604.87h1" stroke="#9c9cf0" stroke-width="4.59" fill="none"/>
<path d="M142 477.84h1M146 477.84h1M113 482.38h1M130 482.38h1M134 482.38h1M136 482.38h1M147 482.38h1M165 482.38h1M168 482.38h1M176 482.38h1M91 486.91h1M120 486.91h1M135 486.91h1M145 486.91h1M173 486.91h1M195 486.91h1M134 491.45h1M149 491.45h1M101 495.99h1M122 495.99h1M105 500.52h1M109 500.52h1M135 500.52h1M104 505.06h1M114 505.06h1M149 505.06h1M168 505.06h1M33 509.60h1M54 509.60h1M137 509.60h1M141 509.60h1M144 509.60h1M96 514.13h1M102 514.13h1M120 514.13h1M136 514.13h1M109 518.67h1M135 518.67h1M138 523.21h1M173 523.21h1M118 532.28h1M33 536.82h1M114 536.82h1M114 545.89h1M127 545.89h1M134 545.89h1M180 545.89h1M130 550.43h1M134 559.50h1M62 564.04h1M109 564.04h1M160 564.04h2M176 564.04h1M114 568.57h1M149 568.57h1M152 568.57h1M155 568.57h1M59 573.11h1M69 573.11h1M187 573.11h1M62 577.65h1M65 577.65h1M173 577.65h1M187 582.18h1M194 582.18h1M159 586.72h1M165 586.72h2M169 586.72h1M45 591.26h1M69 591.26h1M145 591.26h1M150 591.26h1M157 591.26h1M160 591.26h1M33 595.79h1M63 595.79h1M95 595.79h1M177 595.79h1M194 595.79h1M134 600.33h1M139 600.33h1M136 604.87h1M139 604.87h1M151 604.87h1M62 609.40h1M135 609.40h1M65 613.94h1M155 618.48h1M183 618.48h1M34 623.01h1M43 623.01h1M54 623.01h1M150 623.01h1M177 623.01h1M69 627.55h1M153 632.09h1M33 636.62h1M46 636.62h1M150 645.70h1M33 650.23h1" stroke="#9c9cfc" stroke-width="4.59" fill="none"/>
<path d="M192 595.79h1" stroke="#a86ccc" stroke-width="4.59" fill="none"/>
<path d="M111 495.99h1M38 582.18h1M198 618.48h1" stroke="#a890e4" stroke-width="4.59" fill="none"/>
<path d="M129 509.60h1M182 568.57h1M64 645.70h1" stroke="#a890f0" stroke-width="4.59" fill="none"/>
<path d="M121 495.99h1M130 505.06h1M134 532.28h1M136 532.28h1M150 568.57h1M109 604.87h1M155 636.62h1" stroke="#a89cf0" stroke-width="4.59" fill="none"/>
<path d="M138 491.45h1M120 505.06h1M123 527.74h1M133 541.35h1M161 586.72h1M78 595.79h1M136 636.62h1" stroke="#a89cfc" stroke-width="4.59" fill="none"/>
<path d="M59 468.77h1M62 468.77h1M192 468.77h1M84 473.30h1M102 477.84h1M106 477.84h1M135 477.84h1M117 482.38h1M131 482.38h1M83 486.91h1M96 486.91h1M99 486.91h2M113 486.91h1M102 491.45h1M122 491.45h1M129 491.45h1M133 491.45h1M135 491.45h1M139 491.45h1M114 495.99h1M97 500.52h1M114 500.52h1M167 500.52h1M96 505.06h1M118 505.06h1M121 505.06h1M127 505.06h1M144 505.06h1M147 505.06h1M173 505.06h1M176 505.06h1M58 509.60h1M124 509.60h1M138 509.60h1M147 509.60h1M114 514.13h1M127 514.13h1M98 518.67h1M123 518.67h1M133 518.67h1M167 518.67h1M176 523.21h1M109 527.74h1M133 527.74h1M198 527.74h1M96 532.28h1M103 532.28h1M127 532.28h2M135 532.28h1M144 532.28h2M173 532.28h1M145 536.82h1M123 541.35h1M137 541.35h1M149 541.35h1M118 545.89h1M120 545.89h1M194 545.89h1M86 550.43h1M101 550.43h1M189 550.43h1M90 554.96h1M149 554.96h1M191 554.96h1M45 559.50h1M127 559.50h1M141 559.50h1M186 559.50h1M78 564.04h1M96 568.57h1M133 568.57h1M153 568.57h1M160 568.57h1M195 568.57h1M33 573.11h2M154 573.11h2M157 573.11h1M161 573.11h1M186 573.11h1M139 577.65h1M160 577.65h1M45 582.18h1M152 586.72h2M155 586.72h1M162 586.72h1M46 591.26h1M62 591.26h1M90 591.26h1M93 591.26h1M159 591.26h1M162 591.26h1M46 595.79h1M53 595.79h1M59 595.79h2M71 595.79h1M77 595.79h1M159 595.79h1M186 595.79h1M33 600.33h1M41 600.33h1M72 600.33h1M109 600.33h1M130 600.33h1M144 600.33h1M153 600.33h1M58 604.87h1M137 604.87h1M145 604.87h1M153 604.87h1M162 604.87h1M68 609.40h2M141 609.40h1M33 613.94h1M67 613.94h1M74 613.94h1M85 613.94h1M94 613.94h1M187 613.94h1M56 623.01h1M90 623.01h1M156 623.01h1M45 627.55h1M76 627.55h1M93 627.55h1M95 627.55h1M137 632.09h1M172 632.09h1M110 636.62h1M147 636.62h1M153 636.62h1M191 636.62h1M56 641.16h1M62 645.70h1M93 645.70h1M54 650.23h1M72 650.23h1M182 650.23h1M193 650.23h1" stroke="#a8a8fc" stroke-width="4.59" fill="none"/>
<path d="M31 509.60h1" stroke="#b460a8" stroke-width="4.59" fill="none"/>
<path d="M201 564.04h1" stroke="#b478c0" stroke-width="4.59" fill="none"/>
<path d="M191 477.84h1M154 586.72h1M191 650.23h1" stroke="#b484cc" stroke-width="4.59" fill="none"/>
<path d="M187 559.50h1M140 604.87h1" stroke="#b484d8" stroke-width="4.59" fill="none"/>
<path d="M126 582.18h1M191 641.16h1" stroke="#b490d8" stroke-width="4.59" fill="none"/>
<path d="M162 618.48h1M69 632.09h1M131 632.09h1" stroke="#b490e4" stroke-width="4.59" fill="none"/>
<path d="M171 482.38h1M81 505.06h1M177 505.06h1M102 532.28h1M81 545.89h1M31 554.96h1M107 559.50h1M103 564.04h1M123 600.33h1M113 613.94h1M168 623.01h1M88 645.70h1" stroke="#b49ce4" stroke-width="4.59" fill="none"/>
<path d="M167 495.99h1M79 500.52h1M130 500.52h1M143 541.35h1M138 554.96h1M33 559.50h1M86 573.11h1M166 627.55h1M123 645.70h1" stroke="#b49cf0" stroke-width="4.59" fill="none"/>
<path d="M90 468.77h1M121 468.77h1M112 482.38h1M123 491.45h1M110 505.06h1M125 509.60h1M141 518.67h1M174 523.21h1M133 532.28h1M182 532.28h1M136 536.82h1M141 536.82h1M127 550.43h1M136 554.96h1M147 573.11h1M141 586.72h1M63 591.26h1M56 595.79h1M62 618.48h1M109 641.16h1M154 641.16h1" stroke="#b4a8f0" stroke-width="4.59" fill="none"/>
<path d="M139 505.06h1M136 509.60h1M168 518.67h1M131 527.74h1M99 532.28h1M125 532.28h1M109 536.82h1M40 604.87h1M186 604.87h1M155 627.55h1" stroke="#b4a8fc" stroke-width="4.59" fill="none"/>
<path d="M158 600.33h1" stroke="#b4b4f0" stroke-width="4.59" fill="none"/>
<path d="M34 468.77h1M48 468.77h1M57 468.77h1M65 468.77h1M69 468.77h1M79 468.77h1M86 468.77h1M91 468.77h1M133 468.77h1M145 468.77h1M195 468.77h1M112 473.30h1M183 473.30h2M192 473.30h1M96 477.84h1M104 477.84h1M121 477.84h1M133 477.84h1M149 477.84h1M173 477.84h1M184 477.84h1M187 477.84h1M90 482.38h1M111 482.38h1M125 482.38h1M128 482.38h1M143 482.38h1M177 482.38h1M186 482.38h1M117 486.91h1M139 486.91h1M147 486.91h1M103 491.45h1M116 491.45h1M142 491.45h1M166 491.45h1M104 495.99h1M147 495.99h1M96 500.52h1M101 500.52h1M149 500.52h1M172 500.52h1M91 505.06h1M111 505.06h1M138 505.06h1M141 505.06h1M169 505.06h1M59 509.60h1M83 509.60h1M85 509.60h1M101 509.60h1M103 509.60h1M105 509.60h1M127 509.60h1M133 509.60h2M139 509.60h1M107 514.13h1M116 514.13h1M122 514.13h1M134 514.13h1M138 514.13h1M104 518.67h1M131 518.67h1M138 518.67h1M145 518.67h1M198 518.67h1M121 523.21h1M177 523.21h1M113 532.28h1M164 532.28h1M195 532.28h1M93 536.82h1M175 536.82h1M101 541.35h1M142 541.35h1M54 545.89h1M86 545.89h1M103 545.89h1M135 545.89h1M65 550.43h1M96 550.43h1M102 550.43h1M137 550.43h1M141 550.43h1M173 550.43h1M62 554.96h1M118 554.96h1M122 554.96h1M130 554.96h1M135 554.96h1M145 554.96h1M194 554.96h1M91 559.50h1M133 559.50h1M189 559.50h1M65 564.04h1M85 564.04h1M171 564.04h1M54 568.57h1M91 568.57h1M94 568.57h1M135 568.57h1M146 568.57h1M157 568.57h1M135 573.11h1M153 573.11h1M163 573.11h1M33 577.65h1M146 577.65h1M151 577.65h1M153 577.65h1M177 577.65h1M182 577.65h1M46 582.18h1M98 582.18h1M151 582.18h1M31 586.72h1M168 586.72h1M173 586.72h1M178 586.72h1M76 591.26h1M78 591.26h1M91 591.26h1M31 595.79h1M41 595.79h1M49 595.79h1M54 595.79h1M58 595.79h1M66 595.79h1M68 595.79h1M86 595.79h1M171 595.79h1M35 600.33h1M96 600.33h1M154 600.33h1M52 604.87h1M56 604.87h1M59 604.87h1M62 604.87h1M91 604.87h1M129 604.87h1M135 604.87h1M181 604.87h1M184 604.87h1M109 609.40h1M34 613.94h1M52 613.94h1M176 613.94h1M63 618.48h1M123 618.48h1M173 618.48h1M178 618.48h1M39 623.01h1M58 623.01h1M72 623.01h1M91 623.01h1M161 623.01h1M147 627.55h1M186 627.55h1M145 632.09h1M91 636.62h1M131 636.62h1M160 636.62h1M164 636.62h1M69 641.16h1M151 641.16h1M45 645.70h1M51 645.70h1M69 645.70h1M71 645.70h1M153 645.70h1M186 650.23h1" stroke="#b4b4fc" stroke-width="4.59" fill="none"/>
<path d="M150 491.45h1" stroke="#c06cb4" stroke-width="4.59" fill="none"/>
<path d="M131 505.06h1" stroke="#c078a8" stroke-width="4.59" fill="none"/>
<path d="M43 523.21h1M69 554.96h1M40 595.79h1" stroke="#c084cc" stroke-width="4.59" fill="none"/>
<path d="M194 473.30h1M59 505.06h1M97 505.06h1M72 564.04h1M172 564.04h1M118 600.33h1" stroke="#c090cc" stroke-width="4.59" fill="none"/>
<path d="M137 527.74h1M50 554.96h1" stroke="#c090d8" stroke-width="4.59" fill="none"/>
<path d="M116 541.35h1M91 554.96h1M118 559.50h1M71 609.40h1M98 618.48h1" stroke="#c09cd8" stroke-width="4.59" fill="none"/>
<path d="M105 514.13h1M63 518.67h1M199 554.96h1M144 559.50h1M86 600.33h1M56 618.48h1" stroke="#c09ce4" stroke-width="4.59" fill="none"/>
<path d="M80 482.38h1M58 491.45h1M111 491.45h1M138 500.52h1M65 509.60h1M91 532.28h1M135 536.82h1M133 545.89h1M140 550.43h1M49 554.96h1M126 554.96h1M193 577.65h1M49 582.18h1M104 600.33h1M63 604.87h1M133 613.94h1M149 613.94h1M42 623.01h1M94 627.55h1M170 627.55h1M179 627.55h1M52 645.70h1" stroke="#c0a8e4" stroke-width="4.59" fill="none"/>
<path d="M135 527.74h1M101 545.89h1M37 595.79h1M195 618.48h1M173 627.55h1M65 641.16h1M157 641.16h1M89 645.70h1" stroke="#c0a8f0" stroke-width="4.59" fill="none"/>
<path d="M85 554.96h1M190 564.04h1" stroke="#c0b4e4" stroke-width="4.59" fill="none"/>
<path d="M138 468.77h1M33 477.84h1M97 477.84h1M111 486.91h1M144 486.91h1M176 495.99h1M172 505.06h1M156 509.60h1M173 509.60h1M176 509.60h1M148 514.13h1M94 527.74h1M99 527.74h1M100 532.28h1M174 536.82h1M151 541.35h1M172 541.35h1M168 550.43h1M131 554.96h1M137 559.50h1M44 564.04h1M178 564.04h1M194 573.11h1M154 582.18h1M43 586.72h1M158 591.26h1M106 595.79h1M85 600.33h1M148 600.33h1M186 600.33h1M33 604.87h1M41 604.87h1M94 609.40h1M180 609.40h1M123 613.94h1M161 618.48h1M194 618.48h1M35 623.01h1M63 623.01h1M114 636.62h1M41 641.16h1" stroke="#c0b4f0" stroke-width="4.59" fill="none"/>
<path d="M58 468.77h1M164 468.77h1M172 473.30h1M66 482.38h1M42 505.06h1M97 509.60h1M169 518.67h1M165 541.35h1M141 564.04h1M90 573.11h1M67 604.87h1M78 613.94h1M68 618.48h1M76 636.62h1M176 636.62h1M62 641.16h1" stroke="#c0b4fc" stroke-width="4.59" fill="none"/>
<path d="M112 518.67h1M54 532.28h1M63 568.57h1M191 609.40h1" stroke="#c0c0f0" stroke-width="4.59" fill="none"/>
<path d="M36 468.77h1M40 468.77h1M46 468.77h1M56 468.77h1M80 468.77h1M85 468.77h1M103 468.77h1M131 468.77h1M193 468.77h1M187 473.30h1M119 477.84h2M123 477.84h1M128 477.84h1M132 477.84h1M134 477.84h1M189 477.84h1M148 482.38h1M166 482.38h1M173 482.38h1M97 486.91h1M106 486.91h1M115 486.91h1M121 486.91h1M126 486.91h1M136 486.91h1M141 486.91h1M107 491.45h1M130 491.45h1M141 491.45h1M148 491.45h1M173 491.45h1M186 491.45h1M117 495.99h1M126 495.99h1M171 495.99h1M199 495.99h1M118 500.52h1M126 500.52h1M136 500.52h1M194 500.52h1M98 505.06h1M105 505.06h1M108 505.06h1M119 505.06h1M136 505.06h2M145 505.06h1M34 509.60h1M88 509.60h1M94 509.60h1M96 509.60h1M102 509.60h1M104 509.60h1M111 509.60h1M116 509.60h1M189 509.60h1M128 514.13h1M133 514.13h1M137 514.13h1M141 514.13h1M146 514.13h1M186 514.13h1M118 518.67h1M129 518.67h1M136 518.67h1M186 518.67h1M194 518.67h2M124 523.21h1M104 527.74h1M118 527.74h1M127 527.74h1M134 527.74h1M186 527.74h1M108 532.28h1M115 532.28h1M137 532.28h1M139 532.28h1M186 532.28h1M69 536.82h1M111 536.82h1M137 536.82h2M187 536.82h1M106 541.35h1M135 541.35h1M139 541.35h1M147 541.35h1M121 545.89h1M128 545.89h1M138 545.89h1M165 545.89h1M174 545.89h1M195 545.89h1M103 550.43h1M108 550.43h1M129 550.43h1M136 550.43h1M145 550.43h1M167 550.43h1M44 554.96h1M94 554.96h1M105 554.96h1M114 554.96h1M169 554.96h1M171 554.96h1M176 554.96h1M189 554.96h1M54 559.50h1M97 559.50h1M149 559.50h1M86 564.04h1M155 564.04h2M40 568.57h1M76 568.57h1M83 568.57h1M87 568.57h1M89 568.57h1M141 568.57h1M158 568.57h2M161 568.57h1M167 568.57h1M173 568.57h1M46 573.11h1M54 573.11h1M109 573.11h1M123 573.11h1M172 573.11h2M94 577.65h1M149 577.65h1M65 582.18h1M156 582.18h1M67 586.72h1M90 586.72h1M94 586.72h1M34 591.26h1M54 591.26h1M84 591.26h1M88 591.26h2M94 591.26h1M152 591.26h1M167 591.26h1M194 591.26h1M39 595.79h1M50 595.79h1M62 595.79h1M67 595.79h1M93 595.79h2M150 595.79h1M152 595.79h1M155 595.79h1M163 595.79h1M169 595.79h1M172 595.79h1M189 595.79h1M191 595.79h1M149 600.33h1M194 600.33h1M36 604.87h1M54 604.87h1M83 604.87h1M123 604.87h1M130 604.87h1M142 604.87h2M157 604.87h1M173 604.87h1M199 604.87h1M67 609.40h1M139 609.40h1M45 613.94h2M72 613.94h1M151 613.94h1M161 613.94h1M186 613.94h1M41 618.48h1M69 618.48h1M135 618.48h1M160 618.48h1M80 623.01h1M94 623.01h1M114 623.01h1M160 623.01h1M189 623.01h1M91 627.55h1M138 627.55h1M182 627.55h1M63 632.09h1M114 632.09h1M141 632.09h1M165 632.09h1M59 636.62h1M71 636.62h1M109 636.62h1M167 636.62h1M194 636.62h1M166 641.16h1M173 641.16h1M175 641.16h1M34 645.70h1M39 645.70h1M46 645.70h1M55 645.70h1M58 645.70h2M86 645.70h1M155 645.70h1M172 645.70h1M86 650.23h1M90 650.23h1M94 650.23h1M109 650.23h1M130 650.23h1M133 650.23h1M195 650.23h1" stroke="#c0c0fc" stroke-width="4.59" fill="none"/>
<path d="M37 527.74h1" stroke="#cc6090" stroke-width="4.59" fill="none"/>
<path d="M37 514.13h1M95 554.96h1" stroke="#cc6c9c" stroke-width="4.59" fill="none"/>
<path d="M176 486.91h1M185 518.67h1" stroke="#cc84b4" stroke-width="4.59" fill="none"/>
<path d="M199 564.04h1M75 604.87h1M119 604.87h1M49 641.16h1" stroke="#cc84c0" stroke-width="4.59" fill="none"/>
<path d="M110 500.52h1M136 545.89h1M133 564.04h1M192 564.04h1" stroke="#cc90c0" stroke-width="4.59" fill="none"/>
<path d="M34 491.45h1M45 554.96h1M181 627.55h1" stroke="#cc90cc" stroke-width="4.59" fill="none"/>
<path d="M179 468.77h1M170 491.45h1M70 495.99h1M145 495.99h1M154 505.06h1M45 509.60h1M47 514.13h1M64 536.82h1M145 545.89h1M198 559.50h1M123 577.65h1" stroke="#cc9ccc" stroke-width="4.59" fill="none"/>
<path d="M78 559.50h1M65 595.79h1M32 618.48h1" stroke="#cc9cd8" stroke-width="4.59" fill="none"/>
<path d="M99 636.62h1" stroke="#cca8cc" stroke-width="4.59" fill="none"/>
<path d="M165 477.84h1M177 491.45h1M54 495.99h1M69 518.67h1M105 518.67h1M78 554.96h1M193 554.96h1M90 559.50h1M150 564.04h1M48 582.18h1M166 582.18h1M167 600.33h1M54 618.48h1M113 623.01h1M36 627.55h1M38 636.62h1M164 650.23h1M178 650.23h1" stroke="#cca8d8" stroke-width="4.59" fill="none"/>
<path d="M166 477.84h1M80 486.91h1M111 500.52h1M60 536.82h1M118 536.82h1M178 600.33h1M86 604.87h1M181 609.40h1M77 613.94h1M105 618.48h1M114 650.23h1" stroke="#cca8e4" stroke-width="4.59" fill="none"/>
<path d="M101 486.91h1M137 495.99h1M43 500.52h1M184 505.06h1M177 518.67h1M187 523.21h1M58 532.28h1M131 532.28h1M103 536.82h1M172 536.82h1M86 559.50h1M128 559.50h1M154 568.57h1M181 573.11h1M102 577.65h1M158 577.65h1M192 577.65h1M91 582.18h1M106 591.26h1M83 600.33h1M49 604.87h1M38 609.40h1M60 609.40h1M68 613.94h1M70 613.94h1M49 627.55h1M83 627.55h1M86 636.62h1M80 641.16h1M83 641.16h1M122 645.70h1M80 650.23h1" stroke="#ccb4e4" stroke-width="4.59" fill="none"/>
<path d="M90 491.45h1M103 505.06h1M91 509.60h1M172 518.67h1M102 523.21h1M171 523.21h1M102 527.74h1M124 532.28h1M173 545.89h1M133 554.96h1M72 559.50h1M128 564.04h1M67 568.57h1M130 568.57h1M152 577.65h1M40 582.18h1M182 595.79h1M35 604.87h1M147 604.87h1M167 609.40h1M173 636.62h1M81 645.70h1M142 645.70h1" stroke="#ccb4f0" stroke-width="4.59" fill="none"/>
<path d="M98 500.52h1M168 500.52h1M177 618.48h1M153 641.16h1" stroke="#ccc0e4" stroke-width="4.59" fill="none"/>
<path d="M139 468.77h1M196 468.77h1M193 473.30h1M94 477.84h1M108 477.84h1M136 477.84h1M194 482.38h1M105 486.91h1M113 491.45h1M174 491.45h1M142 495.99h1M165 495.99h1M186 495.99h1M44 509.60h1M77 509.60h1M100 509.60h1M199 509.60h1M100 514.13h1M139 514.13h1M115 527.74h1M144 527.74h1M80 532.28h1M119 532.28h1M123 536.82h1M173 536.82h1M125 541.35h1M129 541.35h1M175 541.35h1M164 545.89h1M34 550.43h1M121 550.43h1M194 550.43h1M98 554.96h1M125 554.96h1M136 568.57h1M95 577.65h1M175 577.65h1M62 582.18h1M90 582.18h1M182 582.18h1M42 595.79h1M156 600.33h1M164 600.33h1M44 604.87h1M165 604.87h1M194 604.87h2M44 609.40h1M91 609.40h1M60 613.94h1M194 613.94h1M78 618.48h1M152 618.48h1M109 623.01h1M166 623.01h1M58 627.55h1M174 627.55h1M194 627.55h1M124 632.09h1M161 632.09h1M189 632.09h1M57 636.62h1M68 636.62h1M77 641.16h1M91 641.16h1M171 641.16h1M35 645.70h1M43 645.70h1M137 650.23h1" stroke="#ccc0f0" stroke-width="4.59" fill="none"/>
<path d="M182 486.91h1M97 491.45h1M99 495.99h1M149 495.99h1M69 500.52h1M120 500.52h1M126 505.06h1M106 509.60h1M122 509.60h1M149 514.13h1M164 514.13h1M98 536.82h1M97 541.35h1M176 541.35h1M181 545.89h1M184 545.89h1M67 550.43h1M134 550.43h1M166 550.43h1M192 550.43h1M173 554.96h1M195 554.96h1M116 559.50h1M46 568.57h1M65 568.57h1M169 573.11h1M54 577.65h1M89 577.65h1M83 582.18h1M96 591.26h1M87 595.79h1M77 600.33h1M91 600.33h1M62 613.94h1M153 623.01h1M156 632.09h1M135 650.23h1M165 650.23h1" stroke="#ccc0fc" stroke-width="4.59" fill="none"/>
<path d="M116 536.82h1M84 577.65h1M89 595.79h1M69 604.87h1M43 613.94h1" stroke="#ccccf0" stroke-width="4.59" fill="none"/>
<path d="M38 468.77h1M43 468.77h1M47 468.77h1M51 468.77h1M64 468.77h1M68 468.77h1M72 468.77h1M83 468.77h1M144 468.77h1M168 468.77h1M186 468.77h1M194 468.77h1M109 473.30h1M181 473.30h1M190 473.30h1M98 477.84h1M103 477.84h1M109 477.84h1M116 477.84h1M118 477.84h1M124 477.84h2M139 477.84h1M141 477.84h1M172 482.38h1M174 482.38h1M200 482.38h1M94 486.91h1M128 486.91h1M137 486.91h1M146 486.91h1M169 486.91h1M172 486.91h1M177 486.91h1M193 486.91h2M199 486.91h1M118 491.45h1M127 491.45h1M144 491.45h1M165 491.45h1M176 491.45h1M188 491.45h1M106 495.99h1M130 495.99h1M141 495.99h1M169 495.99h1M179 495.99h1M189 495.99h1M194 495.99h1M104 500.52h1M123 500.52h1M131 500.52h1M139 500.52h1M171 500.52h1M177 500.52h1M181 500.52h1M54 505.06h1M101 505.06h1M116 505.06h1M122 505.06h1M164 505.06h1M171 505.06h1M174 505.06h1M194 505.06h1M82 509.60h1M93 509.60h1M128 509.60h1M142 509.60h1M186 509.60h1M97 514.13h2M103 514.13h2M124 514.13h1M126 514.13h1M130 514.13h1M144 514.13h1M147 514.13h1M193 514.13h1M195 514.13h1M101 518.67h1M122 518.67h1M127 518.67h1M130 518.67h1M132 518.67h1M134 518.67h1M171 518.67h1M173 518.67h1M182 518.67h1M139 523.21h1M167 523.21h1M191 523.21h1M98 527.74h1M114 527.74h1M119 527.74h1M122 527.74h1M125 527.74h1M138 527.74h1M147 527.74h1M164 527.74h1M184 527.74h1M101 532.28h1M104 532.28h1M116 532.28h1M85 536.82h1M89 536.82h1M91 536.82h1M105 536.82h1M133 536.82h2M165 536.82h1M171 536.82h1M130 541.35h1M138 541.35h1M178 541.35h1M194 541.35h1M34 545.89h1M69 545.89h1M100 545.89h1M149 545.89h1M167 545.89h1M192 545.89h1M104 550.43h2M116 550.43h2M124 550.43h1M128 550.43h1M131 550.43h1M177 550.43h1M54 554.96h1M65 554.96h1M97 554.96h1M102 554.96h1M113 554.96h1M116 554.96h1M127 554.96h1M129 554.96h1M139 554.96h1M167 554.96h1M172 554.96h1M96 559.50h1M136 559.50h1M138 559.50h1M142 559.50h1M146 559.50h1M182 559.50h1M34 564.04h1M45 564.04h1M54 564.04h1M69 564.04h1M81 564.04h1M72 568.57h1M86 568.57h1M100 568.57h1M120 568.57h1M145 568.57h1M41 573.11h1M45 573.11h1M66 573.11h2M72 573.11h1M137 573.11h1M145 573.11h1M150 573.11h1M156 573.11h1M167 573.11h1M193 573.11h1M195 573.11h1M58 577.65h1M67 577.65h1M72 577.65h1M77 577.65h1M116 577.65h1M138 577.65h1M154 577.65h1M34 582.18h1M71 582.18h1M95 582.18h1M109 582.18h1M118 582.18h1M152 582.18h1M165 582.18h1M167 582.18h1M189 582.18h1M192 582.18h1M33 586.72h2M37 586.72h1M55 586.72h1M58 586.72h1M60 586.72h1M63 586.72h1M65 586.72h1M72 586.72h1M111 586.72h1M123 586.72h1M56 591.26h1M67 591.26h1M109 591.26h1M142 591.26h1M154 591.26h2M164 591.26h1M173 591.26h1M175 591.26h1M177 591.26h1M182 591.26h1M35 595.79h1M44 595.79h1M70 595.79h1M88 595.79h1M96 595.79h1M114 595.79h1M158 595.79h1M165 595.79h1M175 595.79h1M198 595.79h1M62 600.33h1M129 600.33h1M131 600.33h1M141 600.33h1M187 600.33h1M195 600.33h1M34 604.87h1M55 604.87h1M77 604.87h1M88 604.87h1M148 604.87h1M154 604.87h1M159 604.87h1M200 604.87h1M33 609.40h1M86 609.40h1M95 609.40h1M119 609.40h1M123 609.40h1M127 609.40h1M142 609.40h1M176 609.40h1M186 609.40h2M59 613.94h1M66 613.94h1M71 613.94h1M88 613.94h4M145 613.94h1M45 618.48h1M59 618.48h1M64 618.48h1M92 618.48h1M145 618.48h1M151 618.48h1M86 623.01h1M172 623.01h1M70 627.55h1M72 627.55h1M144 627.55h1M176 627.55h1M109 632.09h1M168 632.09h1M34 636.62h1M65 636.62h1M107 636.62h1M156 636.62h1M177 636.62h1M186 636.62h1M195 636.62h1M68 641.16h1M135 641.16h1M150 641.16h1M161 641.16h1M165 641.16h1M167 641.16h1M172 641.16h1M189 641.16h1M41 645.70h1M48 645.70h1M66 645.70h1M76 645.70h2M80 645.70h1M87 645.70h1M91 645.70h1M134 645.70h1M160 645.70h1M164 645.70h1M166 645.70h2M186 645.70h1M52 650.23h2M69 650.23h1M84 650.23h1M103 650.23h1M132 650.23h1M151 650.23h1M177 650.23h1" stroke="#ccccfc" stroke-width="4.59" fill="none"/>
<path d="M75 636.62h1" stroke="#d86084" stroke-width="4.59" fill="none"/>
<path d="M43 532.28h1M141 613.94h1" stroke="#d8789c" stroke-width="4.59" fill="none"/>
<path d="M199 641.16h1" stroke="#d884a8" stroke-width="4.59" fill="none"/>
<path d="M143 505.06h1" stroke="#d884b4" stroke-width="4.59" fill="none"/>
<path d="M196 473.30h1M49 568.57h1M100 573.11h1M93 604.87h1M40 636.62h1" stroke="#d890b4" stroke-width="4.59" fill="none"/>
<path d="M120 559.50h1M153 582.18h1" stroke="#d890c0" stroke-width="4.59" fill="none"/>
<path d="M77 468.77h1M176 500.52h1M137 523.21h1M42 559.50h1M161 577.65h1M69 613.94h1M159 641.16h1" stroke="#d89cc0" stroke-width="4.59" fill="none"/>
<path d="M179 532.28h1M102 545.89h1M115 564.04h1" stroke="#d89ccc" stroke-width="4.59" fill="none"/>
<path d="M146 536.82h1" stroke="#d8a8c0" stroke-width="4.59" fill="none"/>
<path d="M95 486.91h1M107 500.52h1M121 514.13h1M181 523.21h1M132 545.89h1M160 559.50h1M107 568.57h1M38 577.65h1M190 595.79h1M85 618.48h1M43 636.62h1M98 636.62h1M63 650.23h1M138 650.23h1" stroke="#d8a8cc" stroke-width="4.59" fill="none"/>
<path d="M97 532.28h1M84 582.18h1M183 595.79h1M138 641.16h1" stroke="#d8a8d8" stroke-width="4.59" fill="none"/>
<path d="M104 545.89h1" stroke="#d8b4cc" stroke-width="4.59" fill="none"/>
<path d="M177 468.77h1M198 468.77h1M160 473.30h1M34 477.84h1M52 482.38h1M41 486.91h1M88 486.91h1M34 500.52h1M71 500.52h1M196 505.06h1M54 518.67h1M140 518.67h1M39 536.82h1M44 541.35h1M66 545.89h1M175 545.89h1M100 554.96h1M120 554.96h1M101 559.50h1M57 573.11h1M58 582.18h1M88 582.18h1M69 600.33h1M155 604.87h1M170 609.40h1M172 609.40h1M51 623.01h1M183 627.55h1M104 636.62h1M195 641.16h1M110 645.70h1M168 645.70h1M104 650.23h1" stroke="#d8b4d8" stroke-width="4.59" fill="none"/>
<path d="M108 500.52h1M180 500.52h1M38 505.06h1M197 505.06h1M175 514.13h1M170 518.67h1M72 536.82h1M54 550.43h1M38 554.96h1M162 568.57h1M141 591.26h1M52 600.33h1M193 609.40h1M135 632.09h1M89 636.62h1" stroke="#d8b4e4" stroke-width="4.59" fill="none"/>
<path d="M142 627.55h1" stroke="#d8c0d8" stroke-width="4.59" fill="none"/>
<path d="M113 468.77h1M153 482.38h1M92 486.91h1M107 486.91h1M171 486.91h1M184 486.91h1M168 491.45h1M57 500.52h1M115 500.52h1M39 509.60h1M46 509.60h1M92 509.60h1M82 514.13h1M120 518.67h1M114 523.21h1M64 532.28h1M158 532.28h1M174 532.28h1M130 536.82h1M200 536.82h1M33 541.35h1M111 541.35h1M33 545.89h1M110 545.89h1M98 550.43h1M133 550.43h1M111 554.96h1M98 559.50h2M113 559.50h1M178 559.50h1M181 559.50h1M173 564.04h1M180 564.04h1M186 564.04h1M102 568.57h1M177 568.57h1M65 573.11h1M85 573.11h1M162 577.65h1M64 582.18h1M106 582.18h1M182 586.72h1M193 586.72h1M58 591.26h1M77 591.26h1M160 595.79h1M174 600.33h1M201 600.33h1M152 604.87h1M99 609.40h2M184 609.40h1M38 613.94h1M58 613.94h1M144 613.94h1M188 613.94h1M102 618.48h1M47 623.01h1M78 623.01h1M176 623.01h1M194 623.01h1M88 627.55h1M164 627.55h1M197 627.55h1M122 632.09h2M147 632.09h1M151 632.09h1M118 641.16h1M77 650.23h1M192 650.23h1" stroke="#d8c0e4" stroke-width="4.59" fill="none"/>
<path d="M67 482.38h1M99 482.38h1M201 486.91h1M100 491.45h1M187 514.13h1M94 541.35h1M136 541.35h1M35 545.89h1M147 545.89h1M34 554.96h1M55 568.57h1M172 568.57h1M42 573.11h1M179 577.65h1M169 582.18h1M198 582.18h1M56 586.72h1M32 604.87h1M47 604.87h1M76 604.87h1M168 618.48h1M192 618.48h1M195 623.01h1M195 627.55h1M193 636.62h1M89 641.16h1M133 645.70h1M175 645.70h1M60 650.23h1" stroke="#d8c0f0" stroke-width="4.59" fill="none"/>
<path d="M200 473.30h1M164 582.18h1M93 586.72h1M92 627.55h1M180 636.62h1M111 650.23h1" stroke="#d8cce4" stroke-width="4.59" fill="none"/>
<path d="M127 468.77h1M187 468.77h1M102 473.30h1M145 473.30h1M191 473.30h1M111 477.84h1M195 477.84h1M198 491.45h1M129 495.99h1M139 495.99h1M146 495.99h1M182 495.99h1M39 500.52h1M59 500.52h1M103 500.52h1M132 500.52h1M141 500.52h1M165 500.52h1M189 500.52h1M195 500.52h1M78 505.06h1M66 509.60h1M79 509.60h1M126 509.60h1M148 509.60h1M153 509.60h1M195 509.60h1M113 518.67h1M119 518.67h1M183 523.21h1M194 523.21h1M111 527.74h1M120 527.74h1M129 527.74h1M187 527.74h1M86 532.28h1M98 532.28h1M96 536.82h1M186 536.82h1M118 541.35h1M141 541.35h1M55 545.89h1M125 545.89h1M142 545.89h1M168 545.89h1M118 550.43h1M80 554.96h1M101 554.96h1M103 554.96h1M164 554.96h1M185 554.96h1M164 559.50h1M172 559.50h1M177 559.50h1M145 564.04h1M197 564.04h2M70 568.57h1M117 568.57h1M194 568.57h1M62 573.11h1M71 573.11h1M78 573.11h1M39 577.65h1M114 577.65h1M167 577.65h1M172 577.65h1M176 577.65h1M183 577.65h1M96 582.18h1M123 582.18h1M86 586.72h1M164 586.72h1M192 586.72h1M195 586.72h1M135 591.26h1M137 591.26h1M183 591.26h1M98 595.79h1M122 595.79h1M176 595.79h1M46 600.33h1M58 600.33h1M173 600.33h1M90 604.87h1M187 604.87h1M116 609.40h1M151 609.40h1M37 613.94h1M116 618.48h1M191 618.48h1M62 623.01h1M71 623.01h1M102 623.01h1M116 623.01h1M145 623.01h1M152 623.01h1M154 623.01h1M164 623.01h1M171 623.01h1M197 623.01h1M67 627.55h1M158 627.55h1M193 632.09h1M42 636.62h1M66 636.62h1M80 636.62h1M85 636.62h1M88 636.62h1M182 636.62h1M85 641.16h1M147 641.16h1M63 645.70h1M78 645.70h1M92 645.70h1M174 645.70h1M182 645.70h1M88 650.23h1M113 650.23h1M118 650.23h1M184 650.23h1" stroke="#d8ccf0" stroke-width="4.59" fill="none"/>
<path d="M67 468.77h1M175 477.84h1M124 486.91h1M130 486.91h1M119 491.45h1M169 491.45h1M183 491.45h1M133 495.99h2M77 500.52h1M137 500.52h1M113 505.06h1M124 505.06h1M200 505.06h1M123 514.13h1M182 514.13h1M91 518.67h1M146 532.28h1M65 536.82h1M126 550.43h1M138 550.43h1M145 559.50h1M197 559.50h1M42 564.04h1M57 564.04h1M90 568.57h1M31 573.11h1M144 573.11h1M136 577.65h1M194 577.65h1M41 586.72h1M45 586.72h1M150 586.72h1M95 591.26h1M34 600.33h1M147 600.33h1M175 600.33h1M179 600.33h1M51 604.87h1M95 604.87h1M192 613.94h1M72 618.48h1M84 618.48h1M90 618.48h1M76 623.01h1M138 623.01h1M34 627.55h1M169 627.55h1M133 632.09h1M177 632.09h1M58 636.62h1M162 636.62h1M114 641.16h1M90 645.70h1M183 645.70h1M131 650.23h1" stroke="#d8ccfc" stroke-width="4.59" fill="none"/>
<path d="M117 477.84h1M131 491.45h1M183 550.43h1M42 568.57h1M168 582.18h1M61 604.87h1M32 609.40h1M183 609.40h1M189 609.40h1M199 618.48h1M89 623.01h1M114 627.55h1" stroke="#d8d8f0" stroke-width="4.59" fill="none"/>
<path d="M32 468.77h2M35 468.77h1M55 468.77h1M63 468.77h1M74 468.77h1M76 468.77h1M81 468.77h1M84 468.77h1M92 468.77h1M94 468.77h2M109 468.77h1M122 468.77h1M134 468.77h1M137 468.77h1M146 468.77h1M149 468.77h1M33 473.30h1M96 473.30h2M101 473.30h1M115 473.30h1M168 473.30h1M177 473.30h1M137 477.84h1M33 482.38h1M175 482.38h1M34 486.91h1M39 486.91h1M46 486.91h1M63 486.91h1M65 486.91h1M102 486.91h1M112 486.91h1M116 486.91h1M125 486.91h1M131 486.91h1M138 486.91h1M142 486.91h1M165 486.91h1M167 486.91h1M186 486.91h1M96 491.45h1M99 491.45h1M101 491.45h1M106 491.45h1M120 491.45h1M128 491.45h1M140 491.45h1M146 491.45h1M193 491.45h1M108 495.99h1M124 495.99h1M128 495.99h1M135 495.99h1M138 495.99h1M144 495.99h1M172 495.99h1M181 495.99h1M187 495.99h1M198 495.99h1M45 500.52h1M91 500.52h1M122 500.52h1M164 500.52h1M183 500.52h1M63 505.06h1M86 505.06h1M117 505.06h1M134 505.06h1M146 505.06h1M167 505.06h1M189 505.06h1M38 509.60h1M63 509.60h1M71 509.60h1M76 509.60h1M95 509.60h1M99 509.60h1M131 509.60h1M178 509.60h1M182 509.60h1M185 509.60h1M191 509.60h1M111 514.13h1M119 514.13h1M125 514.13h1M177 514.13h1M107 518.67h1M110 518.67h2M115 518.67h1M121 518.67h1M144 518.67h1M176 518.67h1M178 518.67h1M192 518.67h1M69 523.21h1M91 523.21h1M96 523.21h1M101 523.21h1M103 523.21h1M147 523.21h1M151 523.21h1M164 523.21h1M184 523.21h1M201 523.21h1M91 527.74h1M117 527.74h1M121 527.74h1M141 527.74h1M176 527.74h1M105 532.28h1M114 532.28h1M120 532.28h1M167 532.28h1M178 532.28h1M121 536.82h1M179 536.82h1M65 541.35h1M102 541.35h1M167 541.35h1M182 541.35h1M46 545.89h1M85 545.89h1M96 545.89h2M124 545.89h1M144 545.89h1M171 545.89h1M187 545.89h1M58 550.43h1M69 550.43h1M100 550.43h1M107 550.43h1M114 550.43h1M151 550.43h1M164 550.43h1M186 550.43h3M81 554.96h1M89 554.96h1M104 554.96h1M106 554.96h1M119 554.96h1M123 554.96h2M148 554.96h1M177 554.96h1M192 554.96h1M102 559.50h1M111 559.50h1M147 559.50h1M167 559.50h1M169 559.50h1M176 559.50h1M39 564.04h1M84 564.04h1M92 564.04h1M94 564.04h1M134 564.04h1M138 564.04h1M147 564.04h1M164 564.04h1M194 564.04h1M56 568.57h1M68 568.57h2M82 568.57h1M95 568.57h1M123 568.57h1M134 568.57h1M139 568.57h1M180 568.57h1M187 568.57h1M191 568.57h1M199 568.57h1M201 568.57h1M56 573.11h1M63 573.11h1M94 573.11h2M102 573.11h1M114 573.11h1M133 573.11h1M158 573.11h1M85 577.65h1M90 577.65h1M119 577.65h1M130 577.65h1M168 577.65h1M186 577.65h1M189 577.65h1M69 582.18h1M131 582.18h1M135 582.18h1M155 582.18h1M173 582.18h1M175 582.18h1M178 582.18h1M193 582.18h1M200 582.18h1M83 586.72h1M91 586.72h1M158 586.72h1M167 586.72h1M177 586.72h1M44 591.26h1M52 591.26h1M66 591.26h1M83 591.26h1M122 591.26h1M171 591.26h1M36 595.79h1M48 595.79h1M79 595.79h1M85 595.79h1M145 595.79h1M167 595.79h1M49 600.33h1M54 600.33h1M114 600.33h1M121 600.33h1M142 600.33h1M159 600.33h1M162 600.33h1M189 600.33h1M193 600.33h1M42 604.87h1M46 604.87h1M65 604.87h1M84 604.87h1M116 604.87h1M134 604.87h1M158 604.87h1M167 604.87h2M177 604.87h1M189 604.87h1M42 609.40h1M80 609.40h1M89 609.40h2M93 609.40h1M103 609.40h1M149 609.40h1M182 609.40h1M35 613.94h1M39 613.94h1M42 613.94h1M54 613.94h1M56 613.94h1M83 613.94h1M92 613.94h2M135 613.94h1M160 613.94h1M169 613.94h1M189 613.94h1M38 618.48h1M67 618.48h1M70 618.48h1M86 618.48h1M150 618.48h1M166 618.48h1M169 618.48h1M45 623.01h1M159 623.01h1M169 623.01h1M175 623.01h1M38 627.55h1M96 627.55h1M103 627.55h1M130 627.55h1M135 627.55h2M184 627.55h1M189 627.55h1M121 632.09h1M154 632.09h1M169 632.09h1M191 632.09h1M45 636.62h1M52 636.62h2M62 636.62h1M72 636.62h1M84 636.62h1M95 636.62h2M152 636.62h1M166 636.62h1M172 636.62h1M175 636.62h1M33 641.16h1M96 641.16h1M123 641.16h1M170 641.16h1M182 641.16h1M197 641.16h1M65 645.70h1M72 645.70h1M83 645.70h1M85 645.70h1M102 645.70h1M165 645.70h1M177 645.70h2M46 650.23h1M68 650.23h1M97 650.23h1M123 650.23h1M126 650.23h1M194 650.23h1" stroke="#d8d8fc" stroke-width="4.59" fill="none"/>
<path d="M99 645.70h1" stroke="#e47890" stroke-width="4.59" fill="none"/>
<path d="M73 500.52h1" stroke="#e4849c" stroke-width="4.59" fill="none"/>
<path d="M79 495.99h1M188 495.99h1M89 518.67h1M193 518.67h1M156 541.35h1M104 595.79h1M171 645.70h1" stroke="#e490a8" stroke-width="4.59" fill="none"/>
<path d="M128 618.48h1" stroke="#e49ca8" stroke-width="4.59" fill="none"/>
<path d="M151 536.82h1M80 541.35h1M70 550.43h1M106 559.50h1M148 559.50h1M199 559.50h1M112 604.87h1M168 613.94h1M98 627.55h1M187 632.09h1M36 650.23h1" stroke="#e49cb4" stroke-width="4.59" fill="none"/>
<path d="M165 514.13h1M92 586.72h1M78 632.09h1" stroke="#e49cc0" stroke-width="4.59" fill="none"/>
<path d="M65 482.38h1M159 518.67h1M47 568.57h1M103 568.57h1M119 618.48h1M190 623.01h1M151 627.55h1M51 636.62h1M121 641.16h1M137 641.16h1M132 645.70h1" stroke="#e4a8c0" stroke-width="4.59" fill="none"/>
<path d="M133 500.52h1M130 509.60h1M127 577.65h1M89 600.33h1M105 609.40h1M120 623.01h1M100 627.55h1M102 627.55h1M115 641.16h1M155 641.16h1M117 645.70h1M107 650.23h1" stroke="#e4a8cc" stroke-width="4.59" fill="none"/>
<path d="M129 627.55h1" stroke="#e4b4c0" stroke-width="4.59" fill="none"/>
<path d="M40 482.38h1M76 491.45h1M178 491.45h1M60 505.06h1M69 505.06h1M76 518.67h1M200 523.21h1M177 536.82h1M125 550.43h1M139 550.43h1M183 554.96h1M116 591.26h1M129 595.79h1M198 600.33h1M80 604.87h1M101 609.40h1M190 613.94h1M77 618.48h1M100 618.48h1M163 623.01h1M57 627.55h1M89 627.55h1M58 632.09h1M181 636.62h1M120 641.16h1M176 641.16h1M75 645.70h1M191 645.70h1M119 650.23h1" stroke="#e4b4cc" stroke-width="4.59" fill="none"/>
<path d="M38 477.84h1M188 477.84h1M197 482.38h1M71 491.45h1M183 505.06h1M44 532.28h1M148 541.35h1M116 568.57h1M82 582.18h1M115 591.26h1M191 591.26h1M199 591.26h1M38 604.87h1M70 609.40h1M115 609.40h1M121 627.55h1M132 627.55h1M70 650.23h1M179 650.23h1" stroke="#e4b4d8" stroke-width="4.59" fill="none"/>
<path d="M168 509.60h1M113 595.79h1M103 618.48h1M141 650.23h1" stroke="#e4c0cc" stroke-width="4.59" fill="none"/>
<path d="M188 473.30h1M45 482.38h1M54 482.38h1M33 486.91h1M103 486.91h1M198 486.91h1M90 495.99h1M112 495.99h1M178 495.99h1M54 500.52h1M70 509.60h1M113 509.60h1M180 509.60h1M174 518.67h1M46 527.74h1M77 527.74h1M189 532.28h1M193 532.28h1M50 536.82h1M59 545.89h1M113 545.89h1M64 550.43h1M175 550.43h1M44 559.50h1M118 564.04h1M136 564.04h1M191 564.04h1M61 568.57h1M81 568.57h1M122 568.57h1M83 573.11h1M87 573.11h1M51 577.65h1M122 577.65h1M195 577.65h1M181 582.18h1M126 586.72h1M165 591.26h1M63 600.33h1M106 600.33h1M107 604.87h1M132 604.87h1M43 609.40h1M55 609.40h1M84 609.40h1M190 609.40h1M130 613.94h1M137 613.94h1M107 618.48h1M79 623.01h1M118 623.01h1M116 627.55h1M115 636.62h1M137 636.62h1M38 641.16h1M178 641.16h1M145 650.23h1M169 650.23h1" stroke="#e4c0d8" stroke-width="4.59" fill="none"/>
<path d="M175 468.77h1M197 468.77h1M182 473.30h1M148 477.84h1M83 482.38h1M143 491.45h1M173 495.99h1M193 509.60h1M153 518.67h1M90 527.74h1M130 532.28h1M117 541.35h1M124 559.50h1M200 559.50h1M70 564.04h1M183 568.57h1M58 573.11h1M46 577.65h1M141 577.65h1M87 591.26h1M118 591.26h1M68 600.33h1M85 604.87h1M76 613.94h1M100 613.94h1M189 618.48h1M145 636.62h1M181 641.16h1M195 645.70h1" stroke="#e4c0e4" stroke-width="4.59" fill="none"/>
<path d="M115 468.77h1M68 500.52h1M111 609.40h1M136 609.40h1" stroke="#e4ccd8" stroke-width="4.59" fill="none"/>
<path d="M140 468.77h1M186 473.30h1M100 477.84h2M181 477.84h1M91 482.38h1M161 482.38h1M167 482.38h1M169 482.38h1M52 486.91h1M69 486.91h1M153 486.91h1M179 491.45h1M184 491.45h1M103 495.99h1M110 495.99h1M119 495.99h1M136 495.99h1M183 495.99h1M89 500.52h1M72 505.06h1M192 505.06h2M201 505.06h1M81 509.60h1M84 509.60h1M132 509.60h1M164 509.60h1M181 509.60h1M200 509.60h1M40 514.13h1M200 514.13h1M165 518.67h1M178 523.21h1M198 523.21h1M45 527.74h1M100 527.74h1M122 532.28h1M138 532.28h1M176 532.28h1M189 536.82h1M169 541.35h1M171 541.35h1M174 541.35h1M40 545.89h1M115 545.89h2M177 545.89h1M85 550.43h1M144 550.43h1M70 554.96h1M77 554.96h1M86 554.96h1M170 559.50h1M74 564.04h1M89 564.04h1M59 568.57h1M109 568.57h1M126 568.57h1M142 568.57h1M147 568.57h1M81 573.11h1M164 573.11h1M45 577.65h1M55 577.65h1M64 577.65h1M131 577.65h1M134 577.65h1M142 577.65h1M155 577.65h1M187 577.65h1M67 582.18h2M125 582.18h1M199 582.18h1M57 586.72h1M100 586.72h1M53 591.26h1M71 591.26h1M102 591.26h1M163 591.26h1M168 591.26h1M174 591.26h1M55 595.79h1M92 595.79h1M116 595.79h1M74 600.33h1M166 600.33h1M171 600.33h1M53 604.87h1M102 604.87h1M198 604.87h1M57 609.40h1M122 609.40h1M166 609.40h1M96 613.94h1M103 613.94h1M114 613.94h1M182 613.94h2M55 618.48h1M95 618.48h1M159 618.48h1M144 623.01h1M40 627.55h1M56 627.55h1M139 627.55h1M145 627.55h1M175 627.55h1M181 632.09h1M77 636.62h1M40 641.16h1M201 641.16h1M49 645.70h1M74 645.70h1M141 645.70h1M49 650.23h2M58 650.23h1M82 650.23h2M95 650.23h1M105 650.23h2M199 650.23h1" stroke="#e4cce4" stroke-width="4.59" fill="none"/>
<path d="M174 468.77h1M119 473.30h1M181 491.45h1M65 500.52h1M72 500.52h1M65 505.06h1M112 505.06h1M190 505.06h1M37 509.60h1M142 514.13h1M116 523.21h1M168 523.21h1M113 527.74h1M170 527.74h1M147 532.28h1M175 532.28h1M126 536.82h1M139 536.82h1M131 541.35h1M117 545.89h1M60 550.43h1M121 554.96h1M132 554.96h1M56 564.04h1M152 564.04h1M88 568.57h1M42 577.65h1M36 582.18h1M180 582.18h1M68 591.26h1M101 595.79h1M51 609.40h1M120 609.40h1M37 618.48h1M74 627.55h1M133 636.62h1M52 641.16h1M67 641.16h1M90 641.16h1M187 641.16h1" stroke="#e4ccf0" stroke-width="4.59" fill="none"/>
<path d="M101 514.13h1M111 564.04h1M76 595.79h1M57 600.33h1M49 613.94h1M101 613.94h1M180 613.94h1M58 641.16h1M140 650.23h1" stroke="#e4d8e4" stroke-width="4.59" fill="none"/>
<path d="M66 468.77h1M93 468.77h1M129 468.77h1M172 468.77h1M106 473.30h1M72 477.84h1M107 477.84h1M62 482.38h1M125 491.45h1M167 491.45h1M171 491.45h2M175 491.45h1M194 491.45h1M62 495.99h1M115 495.99h1M177 495.99h1M197 495.99h1M63 500.52h1M100 500.52h1M134 500.52h1M169 500.52h2M186 500.52h1M45 505.06h1M90 505.06h1M93 505.06h1M106 505.06h2M132 505.06h1M60 509.60h1M120 509.60h1M146 509.60h1M177 509.60h1M187 509.60h1M94 518.67h1M128 518.67h1M107 523.21h1M136 523.21h1M141 523.21h1M149 523.21h1M189 523.21h1M65 527.74h1M83 527.74h1M110 527.74h1M168 527.74h1M178 527.74h1M38 532.28h2M166 532.28h1M86 536.82h1M94 536.82h1M100 536.82h1M128 536.82h1M131 536.82h1M197 536.82h1M115 541.35h1M181 541.35h1M58 545.89h1M94 545.89h1M151 545.89h1M193 545.89h1M59 550.43h1M113 550.43h1M122 550.43h1M146 550.43h1M40 554.96h1M99 554.96h1M146 554.96h1M184 554.96h1M110 559.50h1M122 559.50h1M44 568.57h1M48 568.57h1M121 568.57h1M131 568.57h1M138 568.57h1M178 568.57h1M192 568.57h1M200 568.57h1M84 573.11h1M96 573.11h1M113 573.11h1M179 573.11h1M34 577.65h2M165 577.65h1M42 582.18h1M191 582.18h1M39 586.72h1M47 586.72h1M78 586.72h1M82 586.72h1M103 586.72h1M110 586.72h1M128 586.72h1M50 591.26h2M57 591.26h1M130 591.26h1M136 591.26h1M84 595.79h1M105 595.79h1M93 600.33h1M111 600.33h1M116 600.33h1M127 600.33h1M146 600.33h1M31 604.87h1M89 604.87h1M96 604.87h1M122 604.87h1M156 604.87h1M40 609.40h1M144 609.40h1M161 609.40h1M177 609.40h1M198 609.40h1M55 613.94h1M109 613.94h1M126 613.94h2M138 613.94h1M157 613.94h1M35 618.48h1M40 618.48h1M80 618.48h1M158 618.48h1M171 618.48h1M182 618.48h1M193 618.48h1M32 623.01h1M46 623.01h1M68 623.01h1M77 623.01h1M192 623.01h1M42 627.55h1M63 627.55h1M78 627.55h1M86 627.55h1M137 627.55h1M152 627.55h1M165 627.55h1M72 632.09h1M98 632.09h1M102 632.09h1M167 632.09h1M182 632.09h1M60 636.62h1M190 636.62h1M59 641.16h1M168 641.16h1M57 645.70h1M79 645.70h1M130 645.70h1M136 645.70h1M154 645.70h1M176 645.70h1M48 650.23h1M149 650.23h1M166 650.23h1M175 650.23h1M196 650.23h1" stroke="#e4d8f0" stroke-width="4.59" fill="none"/>
<path d="M31 468.77h1M42 468.77h1M45 468.77h1M49 468.77h1M89 468.77h1M100 468.77h1M136 468.77h1M178 473.30h1M197 473.30h1M167 477.84h1M177 477.84h1M83 500.52h1M115 505.06h1M40 509.60h1M119 509.60h1M149 509.60h1M197 509.60h1M143 514.13h1M173 514.13h1M191 514.13h1M189 518.67h1M100 523.21h1M166 523.21h1M126 527.74h1M177 527.74h1M156 532.28h1M194 532.28h1M102 536.82h1M106 536.82h1M147 536.82h1M52 545.89h1M46 550.43h1M68 550.43h1M94 550.43h1M174 550.43h1M57 554.96h1M92 554.96h1M144 554.96h1M166 554.96h1M105 559.50h1M41 564.04h1M55 564.04h1M165 564.04h1M177 564.04h1M36 568.57h1M41 568.57h1M71 568.57h1M186 568.57h1M98 573.11h1M111 573.11h1M118 577.65h1M181 577.65h1M197 577.65h1M146 582.18h1M160 582.18h1M186 586.72h1M35 591.26h1M80 591.26h1M108 591.26h1M139 591.26h1M172 591.26h1M38 595.79h1M120 595.79h1M40 600.33h1M172 600.33h1M191 600.33h1M82 604.87h1M127 604.87h1M193 604.87h1M81 613.94h1M150 613.94h1M156 613.94h1M95 623.01h1M157 623.01h1M55 627.55h1M149 632.09h1M179 632.09h2M31 636.62h1M41 636.62h1M138 636.62h1M171 636.62h1M164 641.16h1M177 641.16h1M61 645.70h1M95 645.70h1M187 645.70h1M193 645.70h1M167 650.23h1M173 650.23h1" stroke="#e4d8fc" stroke-width="4.59" fill="none"/>
<path d="M71 486.91h1M181 486.91h1M197 491.45h1M191 559.50h1M187 564.04h1M197 568.57h1M175 586.72h1M166 613.94h1" stroke="#e4e4f0" stroke-width="4.59" fill="none"/>
<path d="M39 468.77h1M44 468.77h1M50 468.77h1M53 468.77h2M70 468.77h1M78 468.77h1M96 468.77h1M102 468.77h1M119 468.77h1M123 468.77h2M126 468.77h1M130 468.77h1M135 468.77h1M141 468.77h2M147 468.77h1M41 473.30h1M69 473.30h1M80 473.30h1M86 473.30h1M91 473.30h1M114 473.30h1M123 473.30h1M165 473.30h1M167 473.30h1M176 473.30h1M189 473.30h1M110 477.84h1M113 477.84h1M131 477.84h1M171 477.84h1M178 477.84h1M194 477.84h1M58 482.38h1M132 482.38h1M170 482.38h1M181 482.38h1M108 486.91h1M179 486.91h1M52 491.45h1M86 491.45h1M72 495.99h1M105 495.99h1M125 495.99h1M193 495.99h1M82 500.52h1M93 500.52h1M102 500.52h1M106 500.52h1M142 500.52h1M144 500.52h1M147 500.52h1M175 500.52h1M178 500.52h1M182 500.52h1M33 505.06h1M128 505.06h1M165 505.06h1M72 509.60h1M80 509.60h1M86 509.60h1M98 509.60h1M118 509.60h1M121 509.60h1M94 514.13h1M106 514.13h1M110 514.13h1M129 514.13h1M194 514.13h1M197 514.13h1M96 518.67h1M100 518.67h1M102 518.67h1M117 518.67h1M126 518.67h1M142 518.67h1M147 518.67h2M63 523.21h1M106 523.21h1M109 523.21h1M119 523.21h2M123 523.21h1M125 523.21h1M129 523.21h1M133 523.21h1M145 523.21h1M172 523.21h1M175 523.21h1M186 523.21h1M193 523.21h1M195 523.21h1M33 527.74h1M39 527.74h1M63 527.74h1M97 527.74h1M105 527.74h1M130 527.74h1M166 527.74h1M194 527.74h1M67 532.28h1M83 532.28h1M121 532.28h1M141 532.28h1M184 532.28h1M187 532.28h1M200 532.28h1M41 536.82h1M77 536.82h1M101 536.82h1M119 536.82h1M129 536.82h1M167 536.82h1M169 536.82h1M176 536.82h1M181 536.82h1M184 536.82h1M98 541.35h1M107 541.35h1M110 541.35h1M122 541.35h1M173 541.35h1M183 541.35h2M192 541.35h2M195 541.35h1M72 545.89h1M90 545.89h1M106 545.89h1M122 545.89h1M126 545.89h1M169 545.89h1M178 545.89h1M190 545.89h1M62 550.43h1M90 550.43h1M97 550.43h1M193 550.43h1M53 554.96h1M63 554.96h1M83 554.96h1M110 554.96h1M117 554.96h1M147 554.96h1M165 554.96h1M168 554.96h1M34 559.50h1M100 559.50h1M104 559.50h1M123 559.50h1M188 559.50h1M35 564.04h1M40 564.04h1M60 564.04h1M93 564.04h1M96 564.04h1M139 564.04h1M162 564.04h1M32 568.57h1M60 568.57h1M62 568.57h1M98 568.57h1M118 568.57h1M168 568.57h1M181 568.57h1M198 568.57h1M38 573.11h1M60 573.11h1M80 573.11h1M91 573.11h1M134 573.11h1M136 573.11h1M149 573.11h1M177 573.11h1M189 573.11h1M200 573.11h2M32 577.65h1M40 577.65h1M60 577.65h1M66 577.65h1M69 577.65h1M71 577.65h1M92 577.65h1M96 577.65h1M147 577.65h1M159 577.65h1M178 577.65h1M59 582.18h1M80 582.18h1M114 582.18h1M120 582.18h1M122 582.18h1M159 582.18h1M40 586.72h1M59 586.72h1M102 586.72h1M109 586.72h1M118 586.72h1M187 586.72h1M49 591.26h1M55 591.26h1M60 591.26h1M64 591.26h2M126 591.26h1M133 591.26h1M166 591.26h1M192 591.26h1M45 595.79h1M72 595.79h2M80 595.79h1M82 595.79h1M170 595.79h1M187 595.79h1M60 600.33h1M81 600.33h1M115 600.33h1M176 600.33h1M50 604.87h1M57 604.87h1M70 604.87h1M81 604.87h1M146 604.87h1M150 604.87h1M172 604.87h1M34 609.40h1M46 609.40h1M50 609.40h1M56 609.40h1M78 609.40h1M130 609.40h2M133 609.40h1M137 609.40h1M145 609.40h2M153 609.40h1M160 609.40h1M173 609.40h1M195 609.40h1M44 613.94h1M51 613.94h1M170 613.94h1M184 613.94h1M52 618.48h1M65 618.48h1M82 618.48h1M109 618.48h1M130 618.48h1M164 618.48h2M41 623.01h1M48 623.01h1M69 623.01h1M81 623.01h1M123 623.01h1M155 623.01h1M174 623.01h1M186 623.01h1M32 627.55h1M44 627.55h1M54 627.55h1M71 627.55h1M80 627.55h1M156 627.55h1M168 627.55h1M96 632.09h1M130 632.09h1M150 632.09h1M192 632.09h1M194 632.09h1M39 636.62h1M69 636.62h1M90 636.62h1M93 636.62h1M116 636.62h1M154 636.62h1M157 636.62h1M159 636.62h1M174 636.62h1M94 641.16h1M184 641.16h1M38 645.70h1M40 645.70h1M47 645.70h1M54 645.70h1M68 645.70h1M109 645.70h1M156 645.70h1M162 645.70h1M169 645.70h1M179 645.70h1M61 650.23h1M71 650.23h1M76 650.23h1M78 650.23h1M160 650.23h1M168 650.23h1" stroke="#e4e4fc" stroke-width="4.59" fill="none"/>
<path d="M35 482.38h1" stroke="#f07884" stroke-width="4.59" fill="none"/>
<path d="M125 650.23h1" stroke="#f07890" stroke-width="4.59" fill="none"/>
<path d="M53 645.70h1" stroke="#f08484" stroke-width="4.59" fill="none"/>
<path d="M47 477.84h1M82 550.43h1M90 564.04h1M74 623.01h1M48 632.09h1M164 632.09h1" stroke="#f08490" stroke-width="4.59" fill="none"/>
<path d="M185 477.84h1M196 573.11h1M81 586.72h1" stroke="#f0849c" stroke-width="4.59" fill="none"/>
<path d="M87 482.38h1M79 486.91h1M184 518.67h1M143 582.18h1M187 650.23h1" stroke="#f0909c" stroke-width="4.59" fill="none"/>
<path d="M37 486.91h1M94 495.99h1M143 586.72h1" stroke="#f090a8" stroke-width="4.59" fill="none"/>
<path d="M42 486.91h1M180 486.91h1M44 514.13h1M65 545.89h1M79 545.89h1M185 568.57h1M50 577.65h1M49 586.72h1M125 586.72h1M181 591.26h1M40 632.09h1M156 650.23h1" stroke="#f09ca8" stroke-width="4.59" fill="none"/>
<path d="M154 495.99h1M81 532.28h1M141 573.11h1M139 623.01h1" stroke="#f09cb4" stroke-width="4.59" fill="none"/>
<path d="M49 477.84h1M168 477.84h1M193 477.84h1M48 482.38h1M185 482.38h1M72 518.67h1M83 541.35h1M155 541.35h1M42 545.89h1M158 545.89h1M130 559.50h1M110 564.04h1M142 564.04h1M61 577.65h1M174 582.18h1M169 591.26h1M188 604.87h1M186 632.09h1" stroke="#f0a8b4" stroke-width="4.59" fill="none"/>
<path d="M43 482.38h1M161 486.91h1M190 491.45h1M81 500.52h1M39 505.06h1M48 505.06h1M188 509.60h1M74 527.74h1M95 541.35h1M143 550.43h1M144 564.04h1M77 586.72h1M39 591.26h1M103 641.16h1" stroke="#f0a8c0" stroke-width="4.59" fill="none"/>
<path d="M45 477.84h1M52 477.84h1M58 477.84h1M63 477.84h1M36 495.99h1M170 495.99h1M52 500.52h1M83 514.13h1M60 518.67h1M154 523.21h1M180 523.21h1M50 527.74h1M72 527.74h1M108 527.74h1M170 532.28h1M108 536.82h1M92 541.35h1M146 545.89h1M188 545.89h1M200 545.89h1M40 550.43h1M80 550.43h1M73 554.96h1M76 554.96h1M87 554.96h1M143 559.50h1M151 559.50h1M179 559.50h1M93 573.11h1M106 577.65h1M72 582.18h1M197 582.18h1M189 586.72h1M117 595.79h1M51 600.33h1M65 600.33h1M79 600.33h1M52 609.40h1M128 613.94h2M152 613.94h1M31 618.48h1M106 618.48h1M146 618.48h1M179 623.01h1M47 627.55h1M196 627.55h1M118 632.09h1M188 632.09h1M129 636.62h1M143 636.62h1M185 636.62h1M189 636.62h1M72 641.16h1M110 641.16h1M87 650.23h1M116 650.23h1" stroke="#f0b4c0" stroke-width="4.59" fill="none"/>
<path d="M93 482.38h1M160 482.38h1M64 486.91h1M185 491.45h1M55 500.52h1M97 523.21h1M161 523.21h1M107 532.28h1M36 536.82h1M57 536.82h1M201 536.82h1M95 550.43h1M74 554.96h1M76 559.50h1M47 564.04h1M101 577.65h1M185 613.94h1M134 618.48h1M97 627.55h1M124 627.55h1M41 632.09h1M107 632.09h1M126 636.62h1M158 645.70h1M185 650.23h1" stroke="#f0b4cc" stroke-width="4.59" fill="none"/>
<path d="M89 482.38h1M56 536.82h1M179 613.94h1" stroke="#f0c0c0" stroke-width="4.59" fill="none"/>
<path d="M43 473.30h1M201 473.30h1M39 477.84h1M67 477.84h1M88 477.84h1M48 486.91h1M166 486.91h1M85 491.45h1M51 495.99h1M71 505.06h1M41 509.60h1M55 509.60h1M31 514.13h1M72 514.13h1M168 514.13h1M188 514.13h1M183 527.74h1M199 527.74h1M78 532.28h1M155 532.28h1M161 532.28h1M188 532.28h1M193 536.82h1M35 541.35h1M45 541.35h1M69 541.35h1M76 541.35h1M86 541.35h1M164 541.35h1M199 541.35h1M99 545.89h1M91 550.43h1M143 554.96h1M152 554.96h2M82 564.04h1M181 564.04h1M35 568.57h1M115 573.11h1M80 577.65h1M169 577.65h1M184 577.65h1M101 586.72h1M105 586.72h1M139 595.79h1M43 600.33h2M87 600.33h1M78 604.87h1M117 604.87h1M37 609.40h1M143 609.40h1M111 613.94h1M114 618.48h1M167 618.48h1M44 623.01h1M73 623.01h1M96 623.01h1M110 623.01h1M119 623.01h1M148 627.55h1M79 632.09h2M201 632.09h1M36 636.62h1M123 636.62h1M146 636.62h1M122 641.16h1M156 641.16h1M198 641.16h1M37 650.23h1M56 650.23h1M122 650.23h1" stroke="#f0c0cc" stroke-width="4.59" fill="none"/>
<path d="M181 468.77h1M60 477.84h1M46 482.38h1M174 486.91h1M56 491.45h1M112 491.45h1M164 495.99h1M46 505.06h1M189 514.13h1M106 518.67h1M155 523.21h1M132 532.28h1M62 536.82h1M191 541.35h1M38 545.89h1M126 564.04h1M182 564.04h1M184 564.04h1M97 568.57h1M76 573.11h1M103 573.11h1M117 573.11h1M130 573.11h1M157 577.65h1M132 582.18h1M88 586.72h1M131 586.72h1M42 591.26h1M127 591.26h1M142 595.79h1M113 600.33h1M35 609.40h1M150 609.40h1M105 613.94h1M139 613.94h1M128 627.55h1M91 632.09h1M54 641.16h1M183 650.23h1" stroke="#f0c0d8" stroke-width="4.59" fill="none"/>
<path d="M144 477.84h1M67 486.91h1M42 523.21h1M198 550.43h1M163 564.04h1" stroke="#f0cccc" stroke-width="4.59" fill="none"/>
<path d="M180 468.77h1M125 473.30h1M174 473.30h1M198 473.30h1M91 477.84h1M38 482.38h1M49 482.38h1M94 482.38h1M151 482.38h1M179 482.38h1M59 486.91h1M38 491.45h1M40 491.45h1M57 491.45h1M105 491.45h1M168 495.99h1M185 495.99h1M44 500.52h1M99 500.52h1M117 500.52h1M190 500.52h1M55 505.06h1M125 505.06h1M107 509.60h1M140 509.60h1M143 509.60h1M161 509.60h1M174 509.60h1M85 514.13h1M150 514.13h1M183 514.13h1M152 523.21h1M69 527.74h1M101 527.74h1M167 527.74h1M185 527.74h1M46 532.28h1M51 532.28h1M65 532.28h1M171 532.28h2M38 536.82h1M99 536.82h1M166 536.82h1M58 541.35h1M85 541.35h1M50 545.89h1M57 545.89h1M78 545.89h1M156 545.89h1M182 545.89h1M51 550.43h1M110 550.43h1M46 554.96h2M93 554.96h1M52 559.50h1M67 559.50h1M80 559.50h1M171 559.50h1M193 559.50h1M32 564.04h1M63 564.04h1M97 564.04h1M40 573.11h1M61 573.11h1M180 573.11h1M188 573.11h1M47 577.65h1M52 577.65h1M120 577.65h1M164 577.65h1M198 577.65h1M99 582.18h1M101 582.18h1M149 582.18h1M170 582.18h1M184 582.18h1M46 586.72h1M48 586.72h1M87 586.72h1M124 586.72h1M136 586.72h1M146 586.72h1M193 591.26h1M97 595.79h1M115 595.79h1M82 600.33h1M100 600.33h1M126 600.33h1M185 600.33h1M64 604.87h1M68 604.87h1M108 604.87h1M126 604.87h1M190 604.87h1M31 609.40h1M61 609.40h1M73 609.40h1M185 609.40h1M57 613.94h1M172 613.94h1M175 613.94h1M47 618.48h1M197 618.48h1M61 623.01h1M101 623.01h1M131 623.01h1M136 623.01h1M53 627.55h1M61 627.55h1M99 627.55h1M52 632.09h1M140 632.09h1M200 636.62h2M64 641.16h1M92 641.16h1M192 641.16h1M32 645.70h1M149 645.70h1M93 650.23h1M99 650.23h1M129 650.23h1" stroke="#f0ccd8" stroke-width="4.59" fill="none"/>
<path d="M164 486.91h1M168 486.91h1M35 500.52h1M84 500.52h1M121 500.52h1M64 505.06h1M133 505.06h1M166 505.06h1M62 514.13h1M140 514.13h1M151 514.13h1M112 523.21h1M148 527.74h1M161 527.74h1M110 536.82h1M124 536.82h1M187 541.35h1M76 545.89h1M33 550.43h1M148 550.43h1M175 554.96h1M198 554.96h1M154 559.50h1M167 564.04h1M80 568.57h1M156 577.65h1M116 582.18h1M176 582.18h1M99 586.72h1M199 586.72h1M92 591.26h1M47 595.79h1M111 595.79h1M43 604.87h1M73 604.87h1M113 604.87h1M196 604.87h1M41 609.40h1M45 609.40h1M54 609.40h1M147 609.40h1M117 613.94h1M46 618.48h1M104 618.48h1M68 627.55h1M150 627.55h1M177 627.55h1M126 632.09h1M166 632.09h1M79 636.62h1M134 636.62h2M141 636.62h1M76 641.16h1M149 641.16h1M160 641.16h1M32 650.23h1" stroke="#f0cce4" stroke-width="4.59" fill="none"/>
<path d="M66 486.91h1M124 500.52h1M62 523.21h1M70 536.82h1M56 545.89h1M124 604.87h1M177 613.94h1M87 636.62h1" stroke="#f0d8d8" stroke-width="4.59" fill="none"/>
<path d="M105 468.77h1M114 468.77h1M42 473.30h1M44 473.30h1M83 473.30h1M166 473.30h1M51 477.84h1M81 477.84h1M86 477.84h1M156 482.38h1M182 482.38h1M38 486.91h1M152 486.91h1M33 491.45h1M35 491.45h1M44 491.45h1M192 491.45h1M195 491.45h1M191 495.99h1M87 500.52h1M179 500.52h1M36 505.06h1M87 505.06h1M36 509.60h1M43 509.60h1M61 509.60h1M64 509.60h1M87 509.60h1M110 509.60h1M54 514.13h1M69 514.13h1M74 514.13h1M113 514.13h1M176 514.13h1M178 514.13h1M46 518.67h1M103 518.67h1M143 518.67h1M90 523.21h1M98 523.21h1M140 523.21h1M42 527.74h1M67 527.74h1M151 527.74h1M52 532.28h1M55 532.28h1M90 532.28h1M43 536.82h1M63 536.82h1M132 536.82h1M182 536.82h1M77 541.35h1M121 541.35h1M177 541.35h1M48 545.89h1M77 545.89h1M141 545.89h1M183 545.89h1M186 545.89h1M169 550.43h1M178 550.43h1M32 554.96h1M41 554.96h1M71 554.96h1M128 554.96h1M142 554.96h1M200 554.96h2M53 559.50h1M95 559.50h1M192 559.50h1M59 564.04h1M104 564.04h1M121 564.04h1M123 564.04h1M127 564.04h1M154 564.04h1M175 564.04h1M52 568.57h1M84 568.57h1M104 568.57h1M125 568.57h1M132 568.57h1M179 568.57h1M118 573.11h1M176 573.11h1M56 577.65h1M103 577.65h1M39 582.18h1M51 582.18h2M86 582.18h1M89 582.18h1M136 582.18h2M172 582.18h1M196 582.18h1M97 586.72h1M121 586.72h1M149 586.72h1M183 586.72h1M81 591.26h1M97 591.26h1M111 591.26h1M117 591.26h1M144 591.26h1M179 591.26h1M197 591.26h1M57 595.79h1M126 595.79h1M136 595.79h1M147 595.79h1M184 595.79h1M197 595.79h1M140 600.33h1M182 600.33h1M48 604.87h1M97 604.87h1M100 604.87h1M164 604.87h1M179 604.87h1M182 604.87h2M79 609.40h1M81 609.40h1M152 609.40h1M201 609.40h1M36 613.94h1M41 613.94h1M73 613.94h1M87 613.94h1M107 613.94h1M42 618.48h1M58 618.48h1M66 618.48h1M71 618.48h1M81 618.48h1M122 618.48h1M126 618.48h1M133 618.48h1M154 618.48h1M36 623.01h1M40 623.01h1M59 623.01h2M97 623.01h1M133 623.01h1M178 623.01h1M118 627.55h1M178 627.55h1M199 627.55h1M77 632.09h1M136 632.09h1M144 632.09h1M152 632.09h1M183 632.09h1M94 636.62h1M100 636.62h1M117 636.62h1M158 636.62h1M165 636.62h1M179 636.62h1M184 636.62h1M34 641.16h1M44 641.16h1M93 641.16h1M107 641.16h1M31 645.70h1M139 645.70h1M194 645.70h1M41 650.23h1M67 650.23h1M108 650.23h1M127 650.23h1M153 650.23h1" stroke="#f0d8e4" stroke-width="4.59" fill="none"/>
<path d="M191 468.77h1M180 473.30h1M186 477.84h1M71 482.38h1M200 495.99h1M58 500.52h1M60 500.52h1M94 505.06h1M49 509.60h1M67 509.60h1M172 509.60h1M86 518.67h1M175 518.67h1M57 523.21h1M111 523.21h1M128 523.21h1M156 523.21h1M160 523.21h1M34 527.74h1M81 527.74h1M165 527.74h1M49 536.82h1M90 536.82h1M100 541.35h1M127 541.35h1M31 545.89h1M107 545.89h1M172 545.89h1M31 550.43h1M176 550.43h1M191 550.43h1M62 559.50h1M119 559.50h1M58 564.04h1M64 564.04h1M157 564.04h1M33 568.57h1M110 568.57h1M70 573.11h1M135 577.65h1M44 582.18h1M66 582.18h1M119 582.18h1M139 582.18h1M150 582.18h1M62 586.72h1M171 586.72h1M191 586.72h1M31 591.26h1M33 591.26h1M104 591.26h1M50 600.33h1M64 600.33h1M87 609.40h1M96 609.40h1M104 609.40h1M50 613.94h1M155 613.94h1M197 613.94h1M53 618.48h1M184 618.48h1M198 623.01h1M35 627.55h1M85 627.55h1M141 627.55h1M57 632.09h1M94 632.09h1M155 632.09h1M81 636.62h1M83 636.62h1M163 636.62h1M187 636.62h2M102 641.16h1M50 645.70h1M60 645.70h1M116 645.70h1M157 645.70h1M42 650.23h1M45 650.23h1" stroke="#f0d8f0" stroke-width="4.59" fill="none"/>
<path d="M60 473.30h1M40 495.99h1M34 523.21h1M112 554.96h1M173 559.50h1M143 600.33h1M141 641.16h1" stroke="#f0e4e4" stroke-width="4.59" fill="none"/>
<path d="M97 468.77h1M104 468.77h1M107 468.77h1M116 468.77h1M132 468.77h1M173 468.77h1M89 473.30h2M99 473.30h1M103 473.30h1M120 473.30h1M169 473.30h1M64 482.38h1M69 482.38h1M178 482.38h1M98 486.91h1M196 486.91h1M124 491.45h1M187 491.45h1M98 495.99h1M184 495.99h1M40 500.52h1M49 500.52h1M90 500.52h1M140 500.52h1M192 500.52h2M61 505.06h1M129 505.06h1M148 505.06h1M187 505.06h1M35 509.60h1M56 509.60h1M62 509.60h1M192 509.60h1M198 514.13h1M83 518.67h1M116 518.67h1M124 518.67h1M180 518.67h1M33 523.21h1M58 523.21h1M67 523.21h1M83 523.21h1M99 523.21h1M108 523.21h1M110 523.21h1M117 523.21h2M122 523.21h1M127 523.21h1M52 527.74h1M96 527.74h1M124 527.74h1M128 527.74h1M142 527.74h1M193 527.74h1M85 532.28h1M165 532.28h1M46 536.82h1M51 536.82h1M71 536.82h1M120 536.82h1M194 536.82h1M199 536.82h1M108 541.35h1M113 541.35h1M124 541.35h1M126 541.35h1M144 541.35h1M146 541.35h1M168 541.35h1M180 541.35h1M41 545.89h1M62 545.89h1M129 545.89h1M39 550.43h1M52 550.43h1M66 550.43h1M72 550.43h1M76 550.43h1M99 550.43h1M132 550.43h1M172 550.43h1M59 554.96h1M154 554.96h1M170 554.96h1M182 554.96h1M71 559.50h1M82 559.50h1M103 559.50h1M115 559.50h1M33 564.04h1M51 564.04h1M83 564.04h1M130 564.04h1M151 564.04h1M166 564.04h1M170 564.04h1M92 568.57h1M144 568.57h1M165 568.57h1M174 568.57h1M184 568.57h1M193 568.57h1M35 573.11h1M52 573.11h1M82 573.11h1M138 573.11h1M165 573.11h1M184 573.11h1M31 577.65h1M44 577.65h1M49 577.65h1M53 577.65h1M57 577.65h1M91 577.65h1M98 577.65h1M107 577.65h1M133 577.65h1M180 577.65h1M35 582.18h1M43 582.18h1M100 582.18h1M105 582.18h1M111 582.18h1M145 582.18h1M177 582.18h1M183 582.18h1M51 586.72h2M127 586.72h1M156 586.72h1M190 586.72h1M72 591.26h1M132 591.26h1M74 595.79h1M102 595.79h1M174 595.79h1M195 595.79h1M200 595.79h1M36 600.33h1M47 600.33h1M80 600.33h1M94 600.33h1M102 600.33h1M132 600.33h1M200 600.33h1M71 604.87h1M87 604.87h1M114 604.87h1M118 604.87h1M120 604.87h1M58 609.40h2M66 609.40h1M77 609.40h1M98 609.40h1M156 609.40h1M164 609.40h1M171 609.40h1M194 609.40h1M82 613.94h1M102 613.94h1M178 613.94h1M199 613.94h1M50 618.48h1M74 618.48h1M79 618.48h1M88 618.48h1M176 618.48h1M180 618.48h1M57 623.01h1M67 623.01h1M93 623.01h1M100 623.01h1M130 623.01h1M162 623.01h1M101 627.55h1M105 627.55h2M122 627.55h1M131 627.55h1M133 627.55h1M192 627.55h1M31 632.09h1M45 632.09h1M105 632.09h1M111 632.09h1M127 632.09h1M134 632.09h1M47 636.62h1M102 636.62h1M121 636.62h1M32 641.16h1M99 641.16h1M119 641.16h1M158 641.16h1M36 645.70h1M82 645.70h1M131 645.70h1M138 645.70h1M159 645.70h1M180 645.70h2M39 650.23h1M43 650.23h2M59 650.23h1M66 650.23h1M74 650.23h1M158 650.23h1M171 650.23h1M190 650.23h1" stroke="#f0e4f0" stroke-width="4.59" fill="none"/>
<path d="M101 468.77h1M35 473.30h1M52 473.30h1M55 473.30h1M72 473.30h1M94 473.30h1M118 473.30h1M126 473.30h1M156 473.30h1M195 482.38h1M117 491.45h1M116 500.52h1M184 500.52h1M142 505.06h1M50 509.60h1M90 509.60h1M194 509.60h1M99 514.13h1M131 514.13h1M172 514.13h1M84 518.67h1M187 518.67h1M59 523.21h1M135 523.21h1M169 523.21h1M172 527.74h1M56 532.28h1M180 532.28h1M183 532.28h1M58 536.82h1M115 536.82h1M127 536.82h1M188 536.82h1M198 536.82h1M119 541.35h1M128 541.35h1M197 541.35h1M137 545.89h1M41 550.43h1M120 550.43h1M184 550.43h1M129 559.50h1M50 568.57h1M43 573.11h1M86 577.65h1M121 577.65h1M70 586.72h2M114 586.72h1M181 586.72h1M197 586.72h1M200 591.26h1M61 595.79h1M169 600.33h1M39 604.87h1M66 604.87h1M176 604.87h1M192 604.87h1M65 609.40h1M154 613.94h1M37 623.01h1M83 623.01h1M146 623.01h1M65 627.55h1M87 627.55h1M160 627.55h1M103 632.09h1M158 632.09h1M149 636.62h2M174 641.16h1M186 641.16h1M184 645.70h1M189 645.70h1M65 650.23h1M172 650.23h1M174 650.23h1" stroke="#f0e4fc" stroke-width="4.59" fill="none"/>
<path d="M111 468.77h1M167 514.13h1M38 523.21h1M106 568.57h1M199 573.11h1M109 577.65h1M92 636.62h1" stroke="#f0f0f0" stroke-width="4.59" fill="none"/>
<path d="M37 468.77h1M61 468.77h1M73 468.77h1M88 468.77h1M118 468.77h1M148 468.77h1M178 468.77h1M34 473.30h1M45 473.30h1M67 473.30h1M70 473.30h2M93 473.30h1M127 473.30h1M171 473.30h1M129 477.84h1M192 477.84h1M68 482.38h1M198 482.38h1M45 486.91h1M81 486.91h1M175 486.91h1M46 491.45h1M108 491.45h1M110 491.45h1M121 491.45h1M132 491.45h1M164 491.45h1M107 495.99h1M113 495.99h1M33 500.52h1M46 500.52h1M62 500.52h1M94 500.52h1M119 500.52h1M166 500.52h1M187 500.52h1M85 505.06h1M195 505.06h1M48 509.60h1M68 509.60h1M151 509.60h1M117 514.13h1M97 518.67h1M146 518.67h1M164 518.67h1M199 518.67h1M105 523.21h1M113 523.21h1M126 523.21h1M130 523.21h3M142 523.21h1M144 523.21h1M165 523.21h1M55 527.74h1M57 527.74h1M93 527.74h1M139 527.74h1M171 527.74h1M36 532.28h1M69 532.28h1M106 532.28h1M149 532.28h1M169 532.28h1M191 532.28h1M144 536.82h1M195 536.82h1M90 541.35h1M103 541.35h1M179 541.35h1M111 545.89h1M130 545.89h1M166 545.89h1M191 545.89h1M83 550.43h1M115 550.43h1M119 550.43h1M165 550.43h1M67 554.96h1M134 554.96h1M137 554.96h1M141 554.96h1M57 559.50h1M69 559.50h1M46 564.04h1M66 564.04h2M80 564.04h1M159 564.04h1M168 564.04h1M39 568.57h1M43 568.57h1M78 568.57h1M137 568.57h1M163 568.57h1M166 573.11h1M183 573.11h1M76 577.65h1M166 577.65h1M103 582.18h1M186 582.18h1M195 582.18h1M135 586.72h1M163 586.72h1M184 586.72h1M32 591.26h1M36 591.26h1M41 591.26h1M74 591.26h1M100 591.26h1M123 591.26h1M148 591.26h1M201 591.26h1M51 595.79h1M109 595.79h1M121 595.79h1M164 595.79h1M166 595.79h1M168 595.79h1M56 600.33h1M95 600.33h1M152 600.33h1M98 604.87h1M103 604.87h1M125 604.87h1M163 604.87h1M47 609.40h1M63 609.40h1M85 609.40h1M134 609.40h1M168 609.40h1M84 613.94h1M191 613.94h1M193 613.94h1M83 618.48h1M149 618.48h1M157 618.48h1M172 618.48h1M175 618.48h1M38 623.01h1M135 623.01h1M31 627.55h1M39 627.55h1M46 627.55h1M77 627.55h1M90 627.55h1M109 627.55h1M154 627.55h1M167 627.55h1M56 632.09h1M159 632.09h1M174 632.09h1M184 632.09h1M35 636.62h1M44 636.62h1M70 636.62h1M97 636.62h1M192 636.62h1M35 641.16h1M63 641.16h1M126 641.16h1M169 641.16h1M37 645.70h1M44 645.70h1M135 645.70h1M163 645.70h1M51 650.23h1M62 650.23h1M161 650.23h1" stroke="#f0f0fc" stroke-width="4.59" fill="none"/>
<path d="M151 468.77h3M155 468.77h1M162 468.77h1" stroke="#fc0000" stroke-width="4.59" fill="none"/>
<path d="M156 468.77h1M158 468.77h2M161 468.77h1M163 468.77h1M61 527.74h1" stroke="#fc0c0c" stroke-width="4.59" fill="none"/>
<path d="M150 468.77h1M154 468.77h1M157 468.77h1M160 468.77h1M185 591.26h1" stroke="#fc1818" stroke-width="4.59" fill="none"/>
<path d="M75 495.99h1M163 495.99h1M184 591.26h1" stroke="#fc3030" stroke-width="4.59" fill="none"/>
<path d="M163 477.84h1M163 486.91h1M75 541.35h1M187 591.26h1M190 591.26h1" stroke="#fc3c3c" stroke-width="4.59" fill="none"/>
<path d="M163 473.30h1M163 491.45h1M57 495.99h1M155 495.99h1M163 500.52h1M53 514.13h1M163 527.74h1M163 536.82h1M40 541.35h1M189 591.26h1M75 632.09h1" stroke="#fc4848" stroke-width="4.59" fill="none"/>
<path d="M47 491.45h1M163 505.06h1M157 514.13h1M159 532.28h1M46 541.35h1M163 550.43h1M32 582.18h1M163 609.40h1M163 650.23h1" stroke="#fc5454" stroke-width="4.59" fill="none"/>
<path d="M124 623.01h1" stroke="#fc5460" stroke-width="4.59" fill="none"/>
<path d="M73 477.84h1M75 477.84h1M154 477.84h1M157 482.38h1M75 491.45h1M42 495.99h1M75 500.52h1M158 500.52h1M79 518.67h1M159 536.82h1M38 541.35h1M61 541.35h1M73 541.35h1M75 554.96h1M75 559.50h1M163 559.50h1M186 591.26h1M188 591.26h1M143 595.79h1M143 613.94h1" stroke="#fc6060" stroke-width="4.59" fill="none"/>
<path d="M79 477.84h1M158 477.84h1M188 482.38h1M196 482.38h1M73 486.91h1M75 486.91h1M157 495.99h1M162 495.99h1M150 505.06h1M163 509.60h1M75 514.13h1M75 518.67h1M152 518.67h1M75 527.74h1M37 532.28h1M196 536.82h1M57 541.35h1M112 609.40h1M196 623.01h1" stroke="#fc6c6c" stroke-width="4.59" fill="none"/>
<path d="M48 477.84h1M57 477.84h1M92 477.84h1M160 477.84h1M163 482.38h1M158 486.91h1M159 491.45h1M37 495.99h1M52 495.99h1M93 495.99h1M158 495.99h1M74 500.52h1M154 509.60h1M158 509.60h1M66 518.67h1M158 518.67h1M163 523.21h1M92 527.74h1M79 532.28h1M42 541.35h1M59 541.35h1M89 541.35h1M158 541.35h1M152 550.43h1M175 559.50h1M140 586.72h1M148 595.79h1M140 613.94h1M51 618.48h1M110 627.55h1M37 632.09h1M53 632.09h1M113 645.70h1" stroke="#fc7878" stroke-width="4.59" fill="none"/>
<path d="M152 473.30h1M155 473.30h1M158 473.30h1M162 473.30h1M61 477.84h1M64 477.84h1M155 477.84h1M159 477.84h1M162 477.84h1M70 482.38h1M159 486.91h1M79 491.45h1M158 491.45h1M160 491.45h1M71 495.99h1M161 495.99h1M157 500.52h1M158 505.06h1M161 505.06h2M75 509.60h1M190 509.60h1M48 514.13h1M179 514.13h1M31 518.67h1M49 518.67h1M53 518.67h1M73 518.67h1M158 523.21h1M36 527.74h1M48 527.74h1M73 532.28h1M75 532.28h1M88 532.28h1M157 532.28h1M75 536.82h1M88 536.82h1M32 541.35h1M37 541.35h1M68 541.35h1M157 541.35h1M43 545.89h1M163 545.89h1M42 550.43h1M75 550.43h1M157 550.43h1M201 550.43h1M159 554.96h1M157 559.50h1M108 564.04h1M140 564.04h1M75 577.65h1M112 577.65h1M75 582.18h2M170 600.33h1M157 609.40h1M140 623.01h1M193 623.01h1M47 632.09h1M92 632.09h1M100 632.09h1M108 632.09h1M118 636.62h1M197 650.23h1" stroke="#fc8484" stroke-width="4.59" fill="none"/>
<path d="M179 618.48h1" stroke="#fc8490" stroke-width="4.59" fill="none"/>
<path d="M140 473.30h1M150 473.30h1M157 473.30h1M159 473.30h1M35 477.84h1M37 477.84h1M40 477.84h1M53 477.84h1M66 477.84h1M95 477.84h1M150 477.84h1M152 477.84h1M161 477.84h1M198 477.84h1M61 482.38h1M75 482.38h1M162 482.38h1M199 482.38h1M37 491.45h1M48 491.45h2M61 491.45h1M87 491.45h1M152 491.45h1M53 495.99h1M152 495.99h1M159 495.99h1M192 495.99h1M196 495.99h1M31 500.52h1M152 500.52h1M162 500.52h1M57 505.06h1M74 505.06h1M156 505.06h2M49 514.13h1M57 514.13h1M87 514.13h2M92 514.13h1M160 514.13h1M162 514.13h2M51 518.67h1M57 518.67h1M80 518.67h1M95 518.67h1M154 518.67h1M163 518.67h1M68 523.21h1M185 523.21h1M38 527.74h1M51 527.74h1M71 532.28h1M152 532.28h1M163 532.28h1M79 536.82h1M154 536.82h1M162 536.82h1M43 541.35h1M51 541.35h1M60 541.35h1M67 541.35h1M201 545.89h1M43 554.96h1M162 554.96h2M31 559.50h1M37 559.50h1M48 559.50h1M92 559.50h1M155 559.50h1M162 559.50h1M117 564.04h1M132 564.04h1M143 564.04h1M37 568.57h1M170 568.57h1M188 568.57h1M47 573.11h1M108 573.11h1M100 577.65h1M124 577.65h1M143 577.65h1M112 582.18h1M128 582.18h1M138 582.18h1M75 586.72h1M112 586.72h1M75 591.26h1M112 591.26h1M131 595.79h1M140 595.79h1M48 600.33h1M75 600.33h1M128 600.33h1M188 600.33h1M140 609.40h1M198 613.94h1M61 618.48h1M75 618.48h1M112 618.48h1M120 618.48h1M140 618.48h1M75 623.01h1M107 623.01h1M112 627.55h1M42 632.09h1M50 632.09h1M163 632.09h1M75 641.16h1M117 641.16h1M132 641.16h1M144 641.16h1M148 641.16h1M108 645.70h1" stroke="#fc9090" stroke-width="4.59" fill="none"/>
<path d="M87 541.35h1M85 632.09h1" stroke="#fc909c" stroke-width="4.59" fill="none"/>
<path d="M63 473.30h1M78 473.30h1M154 473.30h1M32 477.84h1M36 477.84h1M78 477.84h1M157 477.84h1M31 482.38h1M50 482.38h1M76 482.38h1M150 482.38h1M152 482.38h1M155 486.91h2M31 491.45h1M43 491.45h1M50 491.45h1M65 491.45h1M157 491.45h1M32 495.99h1M34 495.99h1M41 495.99h1M60 495.99h1M73 495.99h1M89 495.99h1M92 495.99h1M95 495.99h1M150 495.99h2M153 495.99h1M160 495.99h1M38 500.52h1M150 500.52h1M159 500.52h1M196 500.52h1M79 505.06h1M159 505.06h1M179 505.06h1M162 509.60h1M50 514.13h1M64 514.13h1M70 514.13h1M73 514.13h1M38 518.67h1M47 518.67h2M59 518.67h1M78 518.67h1M156 518.67h2M160 518.67h1M162 523.21h1M66 527.74h1M84 527.74h1M88 527.74h1M152 527.74h1M157 527.74h1M33 532.28h1M50 532.28h1M190 532.28h1M42 536.82h1M158 536.82h1M191 536.82h1M36 541.35h1M50 541.35h1M93 541.35h1M89 545.89h1M140 545.89h1M152 545.89h1M157 545.89h1M170 545.89h1M198 545.89h1M36 550.43h1M197 550.43h1M50 559.50h1M70 559.50h1M77 559.50h1M152 559.50h1M161 559.50h1M196 559.50h1M100 564.04h1M120 564.04h1M108 568.57h1M190 568.57h1M110 573.11h1M119 573.11h1M81 577.65h1M140 577.65h1M144 577.65h1M148 577.65h1M42 586.72h1M117 586.72h1M196 586.72h1M196 591.26h1M146 595.79h1M78 600.33h1M119 600.33h1M117 609.40h1M120 613.94h1M132 613.94h1M148 613.94h1M73 618.48h1M117 618.48h1M124 618.48h1M129 618.48h1M139 618.48h1M141 618.48h1M143 618.48h2M75 627.55h1M108 627.55h1M64 632.09h1M132 632.09h1M196 636.62h1M73 641.16h1M100 641.16h1M140 641.16h1M143 641.16h1M196 645.70h2M199 645.70h1M73 650.23h1" stroke="#fc9c9c" stroke-width="4.59" fill="none"/>
<path d="M120 468.77h1M81 482.38h1M180 650.23h1" stroke="#fc9ca8" stroke-width="4.59" fill="none"/>
<path d="M148 473.30h1M43 477.84h1M82 477.84h3M179 477.84h1M196 477.84h1M47 482.38h1M53 482.38h1M85 482.38h1M155 482.38h1M158 482.38h2M180 482.38h1M183 482.38h1M189 482.38h1M47 486.91h1M50 486.91h1M57 486.91h1M62 486.91h1M82 486.91h1M39 491.45h1M51 491.45h1M63 491.45h1M73 491.45h1M81 491.45h1M153 491.45h2M162 491.45h1M196 491.45h1M199 491.45h1M46 495.99h1M48 495.99h1M50 495.99h1M59 495.99h1M64 495.99h1M78 495.99h1M85 495.99h1M148 495.99h1M190 495.99h1M154 500.52h1M156 500.52h1M160 500.52h1M44 505.06h1M62 505.06h1M170 505.06h1M188 505.06h1M47 509.60h1M155 509.60h1M36 514.13h1M42 514.13h2M45 514.13h1M77 514.13h3M152 514.13h1M155 514.13h1M35 518.67h1M40 518.67h1M50 518.67h1M56 518.67h1M61 518.67h1M93 518.67h1M179 518.67h1M190 518.67h1M48 523.21h1M157 523.21h1M159 523.21h1M179 523.21h1M31 527.74h2M41 527.74h1M44 527.74h1M47 527.74h1M64 527.74h1M158 527.74h2M48 532.28h1M53 532.28h1M162 532.28h1M192 532.28h1M53 536.82h1M61 536.82h1M140 536.82h1M39 541.35h1M47 541.35h3M53 541.35h1M66 541.35h1M150 541.35h1M163 541.35h1M188 541.35h1M49 545.89h1M73 545.89h3M108 545.89h1M159 545.89h1M47 550.43h1M81 550.43h1M89 550.43h1M158 550.43h1M185 550.43h1M196 550.43h1M55 554.96h1M84 554.96h1M43 559.50h1M66 559.50h1M84 559.50h1M88 559.50h1M101 564.04h1M106 564.04h1M185 564.04h1M99 568.57h1M105 568.57h1M148 568.57h1M36 573.11h1M170 573.11h1M110 577.65h1M126 577.65h1M128 577.65h1M132 577.65h1M137 577.65h1M199 577.65h1M47 582.18h1M92 582.18h1M108 582.18h1M124 582.18h1M179 582.18h1M185 582.18h1M61 586.72h1M73 586.72h1M130 586.72h1M179 586.72h1M101 591.26h1M128 591.26h1M140 591.26h1M143 591.26h1M118 595.79h2M130 595.79h1M196 595.79h1M88 600.33h1M192 600.33h1M170 604.87h1M74 609.40h1M108 609.40h1M112 613.94h1M158 613.94h1M87 618.48h1M185 618.48h1M84 623.01h1M106 623.01h1M132 623.01h1M147 623.01h1M185 623.01h1M64 627.55h1M115 627.55h1M140 627.55h1M39 632.09h1M49 632.09h1M61 632.09h1M73 632.09h2M87 632.09h1M90 632.09h1M115 632.09h1M125 632.09h1M143 632.09h1M157 632.09h1M196 632.09h1M54 636.62h1M64 636.62h1M120 636.62h1M128 636.62h1M124 641.16h1M131 641.16h1M183 641.16h1M119 645.70h1M126 645.70h1M129 645.70h1M143 645.70h1M190 645.70h1M79 650.23h1M152 650.23h1M157 650.23h1" stroke="#fca8a8" stroke-width="4.59" fill="none"/>
<path d="M128 468.77h1M161 500.52h1M42 518.67h1M196 545.89h1M120 586.72h1M59 600.33h1M79 613.94h1M115 618.48h1M55 623.01h1M43 632.09h1M45 641.16h1" stroke="#fca8b4" stroke-width="4.59" fill="none"/>
<path d="M188 468.77h1M161 473.30h1M170 473.30h1M44 477.84h1M46 477.84h1M50 477.84h1M55 477.84h1M74 477.84h1M87 477.84h1M169 477.84h1M197 477.84h1M37 482.38h1M39 482.38h1M44 482.38h1M57 482.38h1M74 482.38h1M86 482.38h1M88 482.38h1M31 486.91h1M56 486.91h1M78 486.91h1M87 486.91h1M93 486.91h1M162 486.91h1M54 491.45h1M66 491.45h2M78 491.45h1M83 491.45h1M31 495.99h1M35 495.99h1M44 495.99h1M49 495.99h1M58 495.99h1M63 495.99h1M76 495.99h1M80 495.99h2M140 495.99h1M48 500.52h1M61 500.52h1M66 500.52h1M76 500.52h1M95 500.52h1M153 500.52h1M185 500.52h1M198 500.52h1M53 505.06h1M73 505.06h1M75 505.06h1M89 505.06h1M151 505.06h1M53 509.60h1M159 509.60h2M167 509.60h1M35 514.13h1M56 514.13h1M63 514.13h1M68 514.13h1M93 514.13h1M153 514.13h1M158 514.13h1M170 514.13h1M185 514.13h1M201 514.13h1M32 518.67h1M34 518.67h1M37 518.67h1M39 518.67h1M44 518.67h1M55 518.67h1M64 518.67h1M68 518.67h1M155 518.67h1M68 527.74h1M76 527.74h1M89 527.74h1M95 527.74h1M156 527.74h1M169 527.74h1M175 527.74h1M42 532.28h1M47 532.28h1M49 532.28h1M57 532.28h1M61 532.28h1M68 532.28h1M70 532.28h1M196 532.28h1M201 532.28h1M31 536.82h1M40 536.82h1M59 536.82h1M73 536.82h1M81 536.82h1M113 536.82h1M157 536.82h1M170 536.82h1M31 541.35h1M56 541.35h1M64 541.35h1M70 541.35h2M74 541.35h1M79 541.35h1M82 541.35h1M159 541.35h1M36 545.89h1M61 545.89h1M87 545.89h2M162 545.89h1M38 550.43h1M44 550.43h1M48 550.43h1M57 550.43h1M155 550.43h1M160 550.43h1M170 550.43h1M52 554.96h1M61 554.96h1M150 554.96h1M157 554.96h1M174 554.96h1M188 554.96h1M61 559.50h1M73 559.50h1M93 559.50h1M108 559.50h1M132 559.50h1M153 559.50h1M37 564.04h1M79 564.04h1M124 564.04h2M148 564.04h1M179 564.04h1M188 564.04h1M195 564.04h1M38 568.57h1M176 568.57h1M74 573.11h1M89 573.11h1M101 573.11h1M116 573.11h1M127 573.11h1M129 573.11h1M111 577.65h1M196 577.65h1M201 577.65h1M70 582.18h1M79 582.18h1M107 582.18h1M113 582.18h1M121 582.18h1M144 582.18h1M129 586.72h1M132 586.72h2M139 586.72h1M148 586.72h1M198 586.72h1M146 591.26h1M108 595.79h1M188 595.79h1M45 600.33h1M92 600.33h1M106 604.87h1M121 604.87h1M169 604.87h1M171 604.87h1M75 609.40h1M97 609.40h1M124 609.40h1M154 609.40h1M48 613.94h1M134 613.94h1M136 613.94h1M146 613.94h1M167 613.94h1M93 618.48h1M96 618.48h1M99 618.48h1M132 618.48h1M104 623.01h1M108 623.01h1M112 623.01h1M117 623.01h1M122 623.01h1M129 623.01h1M143 623.01h1M183 623.01h1M187 623.01h1M201 623.01h1M37 627.55h1M73 627.55h1M38 632.09h1M60 632.09h1M70 632.09h1M84 632.09h1M88 632.09h2M116 632.09h2M170 632.09h1M185 632.09h1M103 636.62h1M112 636.62h1M125 636.62h1M132 636.62h1M140 636.62h1M178 636.62h1M47 641.16h1M66 641.16h1M108 641.16h1M113 641.16h1M125 641.16h1M130 641.16h1M146 641.16h1M163 641.16h1M190 641.16h1M196 641.16h1M73 645.70h1M100 645.70h1M103 645.70h1M105 645.70h1M140 645.70h1M64 650.23h1M112 650.23h1M148 650.23h1M162 650.23h1" stroke="#fcb4b4" stroke-width="4.59" fill="none"/>
<path d="M88 491.45h1M197 500.52h1M152 505.06h1M160 527.74h1M48 536.82h1M106 550.43h1M197 554.96h1M36 559.50h1M49 559.50h1M102 564.04h1M113 586.72h1M128 595.79h1M196 609.40h1M148 618.48h1M70 623.01h1M115 623.01h1M48 627.55h1M37 636.62h1M48 641.16h1" stroke="#fcb4c0" stroke-width="4.59" fill="none"/>
<path d="M106 468.77h1M112 468.77h1M169 468.77h2M183 468.77h1M185 468.77h1M61 473.30h1M153 473.30h1M31 477.84h1M71 477.84h1M85 477.84h1M93 477.84h1M99 477.84h1M130 477.84h1M182 477.84h1M32 482.38h1M59 482.38h1M73 482.38h1M79 482.38h1M92 482.38h1M184 482.38h1M32 486.91h1M43 486.91h1M49 486.91h1M51 486.91h1M53 486.91h1M55 486.91h1M60 486.91h1M140 486.91h1M150 486.91h2M154 486.91h1M157 486.91h1M160 486.91h1M190 486.91h1M200 486.91h1M42 491.45h1M53 491.45h1M64 491.45h1M69 491.45h1M74 491.45h1M82 491.45h1M84 491.45h1M89 491.45h1M92 491.45h1M95 491.45h1M115 491.45h1M155 491.45h1M161 491.45h1M55 495.99h1M61 495.99h1M67 495.99h1M82 495.99h1M132 495.99h1M156 495.99h1M174 495.99h2M32 500.52h1M41 500.52h1M53 500.52h1M67 500.52h1M70 500.52h1M80 500.52h1M112 500.52h1M199 500.52h3M49 505.06h1M51 505.06h1M70 505.06h1M76 505.06h1M82 505.06h1M88 505.06h1M140 505.06h1M155 505.06h1M32 509.60h1M51 509.60h1M74 509.60h1M108 509.60h1M201 509.60h1M41 514.13h1M46 514.13h1M60 514.13h1M36 518.67h1M43 518.67h1M45 518.67h1M52 518.67h1M58 518.67h1M67 518.67h1M87 518.67h2M90 518.67h1M92 518.67h1M151 518.67h1M161 518.67h1M49 523.21h1M75 523.21h1M79 523.21h2M153 523.21h1M188 523.21h1M43 527.74h1M49 527.74h1M70 527.74h1M73 527.74h1M140 527.74h1M155 527.74h1M162 527.74h1M188 527.74h1M196 527.74h1M66 532.28h1M72 532.28h1M74 532.28h1M82 532.28h1M84 532.28h1M87 532.28h1M150 532.28h1M197 532.28h3M32 536.82h1M44 536.82h1M47 536.82h1M52 536.82h1M125 536.82h1M155 536.82h1M41 541.35h1M62 541.35h1M84 541.35h1M112 541.35h1M153 541.35h1M196 541.35h1M198 541.35h1M60 545.89h1M84 545.89h1M95 545.89h1M150 545.89h1M155 545.89h1M179 545.89h1M37 550.43h1M49 550.43h1M53 550.43h1M79 550.43h1M87 550.43h2M159 550.43h1M82 554.96h1M160 554.96h1M196 554.96h1M32 559.50h1M59 559.50h2M64 559.50h1M74 559.50h1M87 559.50h1M158 559.50h1M180 559.50h1M185 559.50h1M201 559.50h1M75 564.04h1M87 564.04h1M98 564.04h1M105 564.04h1M113 564.04h1M116 564.04h1M183 564.04h1M34 568.57h1M75 568.57h1M124 568.57h1M128 568.57h1M166 568.57h1M53 573.11h1M75 573.11h1M105 573.11h1M112 573.11h1M124 573.11h1M185 573.11h1M74 577.65h1M108 577.65h1M115 577.65h1M163 577.65h1M185 577.65h1M53 582.18h1M57 582.18h1M60 582.18h2M87 582.18h1M110 582.18h1M129 582.18h1M148 582.18h1M76 586.72h1M180 586.72h1M70 591.26h1M107 591.26h1M113 591.26h1M125 591.26h1M170 591.26h1M110 595.79h1M112 595.79h1M132 595.79h2M141 595.79h1M103 600.33h1M112 600.33h1M122 600.33h1M125 600.33h1M180 600.33h1M183 600.33h1M199 600.33h1M79 604.87h1M101 604.87h1M166 604.87h1M180 604.87h1M191 604.87h1M201 604.87h1M36 609.40h1M53 609.40h1M88 609.40h1M92 609.40h1M128 609.40h1M155 609.40h1M158 609.40h1M162 609.40h1M80 613.94h1M97 613.94h1M106 613.94h1M108 613.94h1M121 613.94h2M48 618.48h1M97 618.48h1M110 618.48h1M125 618.48h1M163 618.48h1M181 618.48h1M196 618.48h1M201 618.48h1M31 623.01h1M92 623.01h1M121 623.01h1M127 623.01h1M148 623.01h1M165 623.01h1M180 623.01h1M188 623.01h1M104 627.55h1M153 627.55h1M185 627.55h1M32 632.09h1M68 632.09h1M83 632.09h1M93 632.09h1M113 632.09h1M119 632.09h1M200 632.09h1M32 636.62h1M82 636.62h1M122 636.62h1M124 636.62h1M139 636.62h1M39 641.16h1M43 641.16h1M55 641.16h1M112 641.16h1M136 641.16h1M97 645.70h1M112 645.70h1M118 645.70h1M124 645.70h2M198 645.70h1M98 650.23h1M150 650.23h1M201 650.23h1" stroke="#fcc0c0" stroke-width="4.59" fill="none"/>
<path d="M36 486.91h1M83 495.99h1M86 495.99h1M64 500.52h1M78 500.52h1M31 505.06h1M50 505.06h1M62 518.67h1M116 527.74h1M179 527.74h2M190 527.74h1M92 532.28h1M153 532.28h1M87 536.82h1M91 541.35h1M153 545.89h1M154 550.43h1M156 550.43h1M59 577.65h1M31 582.18h1M104 582.18h1M201 586.72h1M98 591.26h1M129 591.26h1M99 595.79h1M111 604.87h1M61 613.94h1M124 613.94h1M198 627.55h1M101 636.62h1M130 636.62h1" stroke="#fcc0cc" stroke-width="4.59" fill="none"/>
<path d="M108 468.77h1M166 468.77h1M199 468.77h2M73 473.30h1M82 473.30h1M111 473.30h1M131 473.30h2M141 473.30h1M143 473.30h1M151 473.30h1M164 473.30h1M179 473.30h1M185 473.30h1M199 473.30h1M41 477.84h2M62 477.84h1M68 477.84h1M70 477.84h1M89 477.84h2M143 477.84h1M151 477.84h1M153 477.84h1M156 477.84h1M170 477.84h1M174 477.84h1M180 477.84h1M200 477.84h1M36 482.38h1M95 482.38h1M154 482.38h1M190 482.38h3M72 486.91h1M76 486.91h1M85 486.91h2M185 486.91h1M197 486.91h1M55 491.45h1M68 491.45h1M70 491.45h1M80 491.45h1M151 491.45h1M39 495.99h1M45 495.99h1M56 495.99h1M74 495.99h1M84 495.99h1M87 495.99h1M180 495.99h1M47 500.52h1M50 500.52h1M92 500.52h1M143 500.52h1M174 500.52h1M40 505.06h1M43 505.06h1M52 505.06h1M66 505.06h1M83 505.06h1M95 505.06h1M153 505.06h1M160 505.06h1M185 505.06h1M199 505.06h1M78 509.60h1M89 509.60h1M157 509.60h1M183 509.60h1M196 509.60h1M38 514.13h2M71 514.13h1M76 514.13h1M154 514.13h1M159 514.13h1M161 514.13h1M190 514.13h1M74 518.67h1M81 518.67h1M125 518.67h1M150 518.67h1M162 518.67h1M188 518.67h1M200 518.67h1M52 523.21h1M60 523.21h1M73 523.21h1M77 523.21h1M82 523.21h1M40 527.74h1M53 527.74h1M59 527.74h2M85 527.74h1M150 527.74h1M200 527.74h2M32 532.28h1M34 532.28h1M110 532.28h1M181 532.28h1M185 532.28h1M55 536.82h1M80 536.82h1M84 536.82h1M117 536.82h1M161 536.82h1M54 541.35h1M78 541.35h1M81 541.35h1M161 541.35h1M170 541.35h1M185 541.35h1M32 545.89h1M80 545.89h1M82 545.89h1M92 545.89h1M160 545.89h2M197 545.89h1M199 545.89h1M35 550.43h1M55 550.43h1M61 550.43h1M73 550.43h1M93 550.43h1M200 550.43h1M37 554.96h1M48 554.96h1M58 554.96h1M64 554.96h1M79 554.96h1M88 554.96h1M108 554.96h1M140 554.96h1M161 554.96h1M179 554.96h1M181 554.96h1M190 554.96h1M40 559.50h1M47 559.50h1M51 559.50h1M85 559.50h1M89 559.50h1M131 559.50h1M150 559.50h1M156 559.50h1M31 564.04h1M49 564.04h1M61 564.04h1M129 564.04h1M174 564.04h1M189 564.04h1M66 568.57h1M112 568.57h1M119 568.57h1M171 568.57h1M175 568.57h1M37 573.11h1M73 573.11h1M97 573.11h1M99 573.11h1M104 573.11h1M107 573.11h1M125 573.11h1M128 573.11h1M131 573.11h1M143 573.11h1M146 573.11h1M171 573.11h1M192 573.11h1M37 577.65h1M48 577.65h1M78 577.65h1M104 577.65h1M113 577.65h1M117 577.65h1M188 577.65h1M37 582.18h1M63 582.18h1M85 582.18h1M134 582.18h1M140 582.18h1M157 582.18h2M171 582.18h1M64 586.72h1M84 586.72h1M96 586.72h1M104 586.72h1M107 586.72h2M147 586.72h1M170 586.72h1M47 591.26h1M61 591.26h1M99 591.26h1M120 591.26h1M75 595.79h1M134 595.79h1M144 595.79h1M181 595.79h1M185 595.79h1M31 600.33h1M37 600.33h1M42 600.33h1M55 600.33h1M98 600.33h1M108 600.33h1M163 600.33h1M168 600.33h1M190 600.33h1M196 600.33h1M110 604.87h1M175 604.87h1M178 604.87h1M197 604.87h1M48 609.40h2M76 609.40h1M82 609.40h1M118 609.40h1M125 609.40h1M148 609.40h1M162 613.94h2M174 613.94h1M57 618.48h1M60 618.48h1M108 618.48h1M118 618.48h1M131 618.48h1M137 618.48h2M142 618.48h1M170 618.48h1M188 618.48h1M190 618.48h1M49 623.01h2M53 623.01h1M99 623.01h1M103 623.01h1M137 623.01h1M158 623.01h1M181 623.01h1M191 623.01h1M50 627.55h1M52 627.55h1M60 627.55h1M66 627.55h1M79 627.55h1M82 627.55h1M117 627.55h1M120 627.55h1M125 627.55h2M162 627.55h2M180 627.55h1M35 632.09h1M54 632.09h1M67 632.09h1M82 632.09h1M97 632.09h1M112 632.09h1M139 632.09h1M148 632.09h1M162 632.09h1M197 632.09h1M199 632.09h1M48 636.62h1M67 636.62h1M108 636.62h1M142 636.62h1M144 636.62h1M197 636.62h1M31 641.16h1M42 641.16h1M57 641.16h1M70 641.16h1M84 641.16h1M98 641.16h1M101 641.16h1M105 641.16h1M111 641.16h1M128 641.16h2M188 641.16h1M200 641.16h1M98 645.70h1M137 645.70h1M148 645.70h1M31 650.23h1M101 650.23h1M117 650.23h1M120 650.23h2M143 650.23h1M154 650.23h1M159 650.23h1M181 650.23h1M188 650.23h1M200 650.23h1" stroke="#fccccc" stroke-width="4.59" fill="none"/>
<path d="M172 477.84h1M55 482.38h1M90 486.91h1M170 486.91h1M178 486.91h1M93 491.45h1M201 491.45h1M43 495.99h1M37 500.52h1M188 500.52h1M56 505.06h1M61 514.13h1M166 514.13h1M50 523.21h1M153 527.74h1M34 536.82h1M92 536.82h1M97 536.82h1M164 536.82h1M178 536.82h1M45 545.89h1M92 550.43h1M72 554.96h1M56 559.50h1M79 559.50h1M77 564.04h1M99 564.04h1M107 564.04h1M131 564.04h1M120 573.11h1M63 577.65h1M97 577.65h1M145 577.65h1M144 586.72h1M134 591.26h1M107 595.79h1M178 595.79h1M71 600.33h1M126 609.40h1M47 613.94h1M119 613.94h1M89 618.48h1M147 618.48h1M87 623.01h1M134 623.01h1M184 623.01h1M120 632.09h1M175 632.09h1M73 636.62h1M113 636.62h1M104 641.16h1M179 641.16h1M170 645.70h1M100 650.23h1" stroke="#fcccd8" stroke-width="4.59" fill="none"/>
<path d="M99 468.77h1M165 468.77h1M190 468.77h1M31 473.30h1M37 473.30h1M59 473.30h1M64 473.30h1M75 473.30h1M85 473.30h1M100 473.30h1M133 473.30h2M175 473.30h1M59 477.84h1M65 477.84h1M112 477.84h1M201 477.84h1M34 482.38h1M42 482.38h1M51 482.38h1M56 482.38h1M60 482.38h1M72 482.38h1M78 482.38h1M82 482.38h1M193 482.38h1M201 482.38h1M35 486.91h1M44 486.91h1M54 486.91h1M70 486.91h1M74 486.91h1M77 486.91h1M84 486.91h1M143 486.91h1M189 486.91h1M32 491.45h1M41 491.45h1M77 491.45h1M94 491.45h1M180 491.45h1M189 491.45h1M33 495.99h1M38 495.99h1M47 495.99h1M65 495.99h1M68 495.99h1M91 495.99h1M143 495.99h1M36 500.52h1M51 500.52h1M56 500.52h1M88 500.52h1M128 500.52h2M151 500.52h1M32 505.06h1M37 505.06h1M47 505.06h1M67 505.06h1M92 505.06h1M99 505.06h1M180 505.06h1M182 505.06h1M186 505.06h1M73 509.60h1M117 509.60h1M152 509.60h1M170 509.60h1M32 514.13h1M52 514.13h1M58 514.13h1M66 514.13h1M81 514.13h1M84 514.13h1M86 514.13h1M90 514.13h1M112 514.13h1M174 514.13h1M71 518.67h1M77 518.67h1M181 518.67h1M196 518.67h2M31 523.21h1M37 523.21h1M44 523.21h1M53 523.21h1M61 523.21h1M64 523.21h1M70 523.21h1M84 523.21h1M87 523.21h3M93 523.21h1M143 523.21h1M150 523.21h1M190 523.21h1M196 523.21h2M199 523.21h1M35 527.74h1M62 527.74h1M78 527.74h1M80 527.74h1M87 527.74h1M112 527.74h1M132 527.74h1M182 527.74h1M189 527.74h1M192 527.74h1M31 532.28h1M59 532.28h1M63 532.28h1M77 532.28h1M89 532.28h1M112 532.28h1M140 532.28h1M154 532.28h1M160 532.28h1M168 532.28h1M54 536.82h1M66 536.82h1M68 536.82h1M74 536.82h1M76 536.82h1M112 536.82h1M143 536.82h1M152 536.82h1M160 536.82h1M190 536.82h1M55 541.35h1M72 541.35h1M88 541.35h1M140 541.35h1M162 541.35h1M39 545.89h1M51 545.89h1M64 545.89h1M70 545.89h1M112 545.89h1M154 545.89h1M176 545.89h1M185 545.89h1M50 550.43h1M56 550.43h1M71 550.43h1M74 550.43h1M77 550.43h1M84 550.43h1M161 550.43h2M171 550.43h1M51 554.96h1M66 554.96h1M155 554.96h1M158 554.96h1M180 554.96h1M35 559.50h1M46 559.50h1M68 559.50h1M121 559.50h1M125 559.50h1M159 559.50h1M166 559.50h1M168 559.50h1M174 559.50h1M43 564.04h1M48 564.04h1M68 564.04h1M76 564.04h1M88 564.04h1M112 564.04h1M114 564.04h1M137 564.04h1M146 564.04h1M31 568.57h1M51 568.57h1M53 568.57h1M73 568.57h1M77 568.57h1M101 568.57h1M111 568.57h1M115 568.57h1M129 568.57h1M50 573.11h1M88 573.11h1M106 573.11h1M121 573.11h1M126 573.11h1M139 573.11h2M174 573.11h1M182 573.11h1M190 573.11h2M79 577.65h1M87 577.65h1M171 577.65h1M174 577.65h1M190 577.65h1M50 582.18h1M73 582.18h1M81 582.18h1M97 582.18h1M115 582.18h1M117 582.18h1M133 582.18h1M147 582.18h1M163 582.18h1M201 582.18h1M32 586.72h1M44 586.72h1M50 586.72h1M53 586.72h1M66 586.72h1M79 586.72h2M95 586.72h1M119 586.72h1M122 586.72h1M138 586.72h1M188 586.72h1M200 586.72h1M40 591.26h1M43 591.26h1M59 591.26h1M79 591.26h1M82 591.26h1M105 591.26h1M110 591.26h1M121 591.26h1M131 591.26h1M147 591.26h1M180 591.26h1M198 591.26h1M103 595.79h1M127 595.79h1M138 595.79h1M179 595.79h2M53 600.33h1M61 600.33h1M66 600.33h1M84 600.33h1M90 600.33h1M105 600.33h1M110 600.33h1M120 600.33h1M157 600.33h1M177 600.33h1M197 600.33h1M99 604.87h1M104 604.87h1M115 604.87h1M128 604.87h1M39 609.40h1M102 609.40h1M106 609.40h1M110 609.40h1M129 609.40h1M159 609.40h1M179 609.40h1M199 609.40h1M31 613.94h1M40 613.94h1M99 613.94h1M110 613.94h1M116 613.94h1M118 613.94h1M142 613.94h1M165 613.94h1M171 613.94h1M44 618.48h1M76 618.48h1M113 618.48h1M127 618.48h1M174 618.48h1M200 618.48h1M98 623.01h1M125 623.01h1M128 623.01h1M141 623.01h1M59 627.55h1M113 627.55h1M143 627.55h1M161 627.55h1M171 627.55h1M187 627.55h2M33 632.09h1M55 632.09h1M62 632.09h1M76 632.09h1M81 632.09h1M86 632.09h1M101 632.09h1M128 632.09h2M178 632.09h1M198 632.09h1M49 636.62h2M56 636.62h1M61 636.62h1M74 636.62h1M106 636.62h1M60 641.16h1M74 641.16h1M87 641.16h1M133 641.16h1M180 641.16h1M185 641.16h1M70 645.70h1M96 645.70h1M101 645.70h1M106 645.70h2M115 645.70h1M120 645.70h2M185 645.70h1M201 645.70h1M47 650.23h1M57 650.23h1M75 650.23h1M110 650.23h1M124 650.23h1M128 650.23h1M136 650.23h1M144 650.23h1M146 650.23h1M155 650.23h1" stroke="#fcd8d8" stroke-width="4.59" fill="none"/>
<path d="M176 468.77h1M49 473.30h2M84 482.38h1M188 486.91h1M200 491.45h1M77 495.99h1M85 500.52h2M125 500.52h1M77 505.06h1M175 509.60h1M171 514.13h1M181 514.13h1M196 514.13h1M166 518.67h1M170 523.21h1M182 523.21h1M71 527.74h1M79 527.74h1M82 527.74h1M103 527.74h1M95 532.28h1M117 532.28h1M82 536.82h2M201 541.35h1M33 554.96h1M68 554.96h1M115 554.96h1M156 554.96h1M184 559.50h1M129 577.65h1M78 582.18h1M162 582.18h1M36 586.72h1M116 586.72h1M103 591.26h1M43 595.79h1M125 595.79h1M76 600.33h1M117 600.33h1M175 609.40h1M188 609.40h1M32 613.94h1M159 613.94h1M34 618.48h1M111 618.48h1M88 623.01h1M182 623.01h1M84 627.55h1M51 632.09h1M95 632.09h1M148 636.62h1M183 636.62h1M51 641.16h1M111 645.70h1M145 645.70h1M85 650.23h1M189 650.23h1" stroke="#fcd8e4" stroke-width="4.59" fill="none"/>
<path d="M87 468.77h1M98 468.77h1M143 468.77h1M201 468.77h1M38 473.30h1M40 473.30h1M47 473.30h1M51 473.30h1M62 473.30h1M65 473.30h1M76 473.30h1M81 473.30h1M107 473.30h1M110 473.30h1M116 473.30h1M129 473.30h2M137 473.30h1M139 473.30h1M142 473.30h1M80 477.84h1M115 477.84h1M164 477.84h1M183 477.84h1M199 477.84h1M63 482.38h1M187 482.38h1M68 486.91h1M129 486.91h1M183 486.91h1M187 486.91h1M45 491.45h1M60 491.45h1M62 491.45h1M72 491.45h1M91 491.45h1M98 491.45h1M104 491.45h1M156 491.45h1M182 491.45h1M69 495.99h1M88 495.99h1M131 495.99h1M166 495.99h1M113 500.52h1M155 500.52h1M58 505.06h1M84 505.06h1M181 505.06h1M191 505.06h1M57 509.60h1M165 509.60h1M171 509.60h1M179 509.60h1M55 514.13h1M67 514.13h1M80 514.13h1M91 514.13h1M169 514.13h1M199 514.13h1M33 518.67h1M41 518.67h1M65 518.67h1M70 518.67h1M82 518.67h1M85 518.67h1M108 518.67h1M191 518.67h1M201 518.67h1M35 523.21h2M40 523.21h1M47 523.21h1M66 523.21h1M72 523.21h1M74 523.21h1M92 523.21h1M95 523.21h1M115 523.21h1M54 527.74h1M86 527.74h1M143 527.74h1M154 527.74h1M191 527.74h1M195 527.74h1M60 532.28h1M62 532.28h1M76 532.28h1M148 532.28h1M35 536.82h1M37 536.82h1M45 536.82h1M122 536.82h1M148 536.82h1M180 536.82h1M52 541.35h1M152 541.35h1M154 541.35h1M189 541.35h2M200 541.35h1M37 545.89h1M44 545.89h1M47 545.89h1M63 545.89h1M83 545.89h1M91 545.89h1M93 545.89h1M131 545.89h1M32 550.43h1M43 550.43h1M78 550.43h1M112 550.43h1M150 550.43h1M153 550.43h1M179 550.43h1M181 550.43h1M190 550.43h1M199 550.43h1M35 554.96h2M39 554.96h1M42 554.96h1M60 554.96h1M186 554.96h1M41 559.50h1M58 559.50h1M63 559.50h1M83 559.50h1M94 559.50h1M117 559.50h1M139 559.50h2M165 559.50h1M190 559.50h1M194 559.50h1M53 564.04h1M73 564.04h1M95 564.04h1M119 564.04h1M169 564.04h1M193 564.04h1M196 564.04h1M200 564.04h1M79 568.57h1M85 568.57h1M113 568.57h1M140 568.57h1M169 568.57h1M189 568.57h1M196 568.57h1M32 573.11h1M44 573.11h1M48 573.11h2M51 573.11h1M64 573.11h1M122 573.11h1M132 573.11h1M142 573.11h1M148 573.11h1M168 573.11h1M197 573.11h1M41 577.65h1M68 577.65h1M70 577.65h1M73 577.65h1M82 577.65h2M99 577.65h1M55 582.18h1M93 582.18h2M102 582.18h1M130 582.18h1M74 586.72h1M106 586.72h1M145 586.72h1M172 586.72h1M174 586.72h1M185 586.72h1M37 591.26h2M73 591.26h1M114 591.26h1M119 591.26h1M178 591.26h1M124 595.79h1M135 595.79h1M137 595.79h1M149 595.79h1M32 600.33h1M67 600.33h1M70 600.33h1M73 600.33h1M97 600.33h1M124 600.33h1M165 600.33h1M37 604.87h1M74 604.87h1M105 604.87h1M174 604.87h1M83 609.40h1M114 609.40h1M192 609.40h1M200 609.40h1M53 613.94h1M75 613.94h1M98 613.94h1M115 613.94h1M164 613.94h1M200 613.94h2M43 618.48h1M136 618.48h1M156 618.48h1M64 623.01h1M82 623.01h1M105 623.01h1M111 623.01h1M142 623.01h1M170 623.01h1M199 623.01h1M51 627.55h1M107 627.55h1M111 627.55h1M119 627.55h1M127 627.55h1M146 627.55h1M172 627.55h1M36 632.09h1M44 632.09h1M46 632.09h1M59 632.09h1M71 632.09h1M99 632.09h1M106 632.09h1M138 632.09h1M142 632.09h1M176 632.09h1M190 632.09h1M78 636.62h1M111 636.62h1M170 636.62h1M199 636.62h1M36 641.16h1M50 641.16h1M53 641.16h1M61 641.16h1M71 641.16h1M79 641.16h1M95 641.16h1M106 641.16h1M116 641.16h1M127 641.16h1M142 641.16h1M152 641.16h1M162 641.16h1M42 645.70h1M104 645.70h1M144 645.70h1M147 645.70h1M152 645.70h1M192 645.70h1M34 650.23h1M38 650.23h1M102 650.23h1M115 650.23h1M139 650.23h1M142 650.23h1M147 650.23h1M170 650.23h1" stroke="#fce4e4" stroke-width="4.59" fill="none"/>
<path d="M117 468.77h1M32 473.30h1M36 473.30h1M39 473.30h1M57 473.30h1M79 473.30h1M95 473.30h1M113 473.30h1M136 473.30h1M140 477.84h1M191 486.91h1M146 500.52h1M80 505.06h1M42 509.60h1M169 509.60h1M34 514.13h1M51 514.13h1M59 514.13h1M95 514.13h1M180 514.13h1M32 523.21h1M45 523.21h1M192 523.21h1M181 527.74h1M45 532.28h1M129 532.28h1M67 536.82h1M104 536.82h1M185 536.82h1M192 536.82h1M34 541.35h1M166 541.35h1M53 545.89h1M143 545.89h1M63 550.43h1M182 550.43h1M96 554.96h1M38 559.50h1M36 564.04h1M50 564.04h1M52 564.04h1M158 564.04h1M55 573.11h1M79 573.11h1M175 573.11h1M198 573.11h1M170 577.65h1M54 582.18h1M74 582.18h1M142 582.18h1M188 582.18h1M190 582.18h1M38 586.72h1M137 586.72h1M193 595.79h1M201 595.79h1M38 600.33h1M107 600.33h1M184 600.33h1M121 609.40h1M165 609.40h1M174 609.40h1M134 627.55h1M159 627.55h1M190 627.55h2M110 632.09h1M173 632.09h1M55 636.62h1M86 641.16h1M139 641.16h1M194 641.16h1M127 645.70h1M96 650.23h1M134 650.23h1" stroke="#fce4f0" stroke-width="4.59" fill="none"/>
<path d="M75 468.77h1M110 468.77h1M182 468.77h1M184 468.77h1M48 473.30h1M54 473.30h1M56 473.30h1M66 473.30h1M74 473.30h1M87 473.30h2M98 473.30h1M105 473.30h1M122 473.30h1M124 473.30h1M135 473.30h1M144 473.30h1M146 473.30h2M149 473.30h1M56 477.84h1M69 477.84h1M76 477.84h1M176 477.84h1M41 482.38h1M77 482.38h1M58 486.91h1M61 486.91h1M89 486.91h1M148 486.91h1M192 486.91h1M36 491.45h1M191 491.45h1M66 495.99h1M195 495.99h1M42 500.52h1M148 500.52h1M34 505.06h2M175 505.06h1M178 505.06h1M52 509.60h1M150 509.60h1M184 509.60h1M65 514.13h1M89 514.13h1M108 514.13h1M39 523.21h1M41 523.21h1M54 523.21h3M65 523.21h1M71 523.21h1M81 523.21h1M85 523.21h2M94 523.21h1M146 523.21h1M148 523.21h1M56 527.74h1M58 527.74h1M174 527.74h1M197 527.74h1M40 532.28h2M93 532.28h2M111 532.28h1M142 532.28h1M177 532.28h1M78 536.82h1M95 536.82h1M107 536.82h1M150 536.82h1M153 536.82h1M156 536.82h1M183 536.82h1M120 541.35h1M132 541.35h1M68 545.89h1M105 545.89h1M148 545.89h1M45 550.43h1M56 554.96h1M107 554.96h1M151 554.96h1M178 554.96h1M55 559.50h1M81 559.50h1M112 559.50h1M183 559.50h1M38 564.04h1M122 564.04h1M74 568.57h1M127 568.57h1M143 568.57h1M164 568.57h1M39 573.11h1M68 573.11h1M92 573.11h1M43 577.65h1M105 577.65h1M200 577.65h1M56 582.18h1M77 582.18h1M68 586.72h1M142 586.72h1M157 586.72h1M124 591.26h1M64 595.79h1M100 595.79h1M199 595.79h1M39 600.33h1M45 604.87h1M60 604.87h1M92 604.87h1M185 604.87h1M64 609.40h1M72 609.40h1M107 609.40h1M113 609.40h1M132 609.40h1M169 609.40h1M178 609.40h1M197 609.40h1M64 613.94h1M125 613.94h1M131 613.94h1M147 613.94h1M181 613.94h1M196 613.94h1M36 618.48h1M49 618.48h1M186 618.48h2M52 623.01h1M66 623.01h1M126 623.01h1M200 623.01h1M41 627.55h1M43 627.55h1M81 627.55h1M157 627.55h1M193 627.55h1M200 627.55h2M65 632.09h2M104 632.09h1M171 632.09h1M195 632.09h1M63 636.62h1M168 636.62h1M198 636.62h1M37 641.16h1M46 641.16h1M78 641.16h1M81 641.16h2M97 641.16h1M134 641.16h1M145 641.16h1M193 641.16h1M128 645.70h1M146 645.70h1M188 645.70h1M200 645.70h1M89 650.23h1M176 650.23h1M198 650.23h1" stroke="#fcf0f0" stroke-width="4.59" fill="none"/>
<path d="M60 468.77h1M82 468.77h1M171 468.77h1M46 473.30h1M53 473.30h1M58 473.30h1M68 473.30h1M77 473.30h1M92 473.30h1M108 473.30h1M128 473.30h1M105 477.84h1M59 491.45h1M201 495.99h1M41 505.06h1M112 509.60h1M166 509.60h1M132 514.13h1M192 514.13h1M99 518.67h1M183 518.67h1M46 523.21h1M51 523.21h1M76 523.21h1M78 523.21h1M104 523.21h1M134 523.21h1M106 527.74h1M173 527.74h1M143 532.28h1M151 532.28h1M63 541.35h1M160 541.35h1M98 545.89h1M39 559.50h1M71 564.04h1M135 564.04h1M57 568.57h1M64 568.57h1M77 573.11h1M162 573.11h1M88 577.65h1M93 577.65h1M125 577.65h1M191 577.65h1M127 582.18h1M35 586.72h1M89 586.72h1M98 586.72h1M115 586.72h1M134 586.72h1M176 586.72h1M149 591.26h1M195 591.26h1M101 600.33h1M181 600.33h1M104 613.94h1M173 613.94h1M85 623.01h1M149 623.01h1M123 627.55h1M160 632.09h1M105 636.62h1M119 636.62h1M127 636.62h1M40 650.23h1M81 650.23h1" stroke="#fcf0fc" stroke-width="4.59" fill="none"/>
<path d="M41 468.77h1M125 468.77h1M104 473.30h1M117 473.30h1M121 473.30h1M138 473.30h1M173 473.30h1M54 477.84h1M77 477.84h1M190 477.84h1M122 486.91h1M132 486.91h1M68 505.06h1M198 505.06h1M198 509.60h1M33 514.13h1M184 514.13h1M107 527.74h1M146 527.74h1M35 532.28h1M99 541.35h1M105 541.35h1M134 541.35h1M67 545.89h1M71 545.89h1M180 550.43h1M149 564.04h1M58 568.57h1M36 577.65h1M41 582.18h1M141 582.18h1M85 586.72h1M85 591.26h1M81 595.79h1M99 600.33h1M39 618.48h1M101 618.48h1M121 618.48h1M34 632.09h1M146 632.09h1M88 641.16h1M114 645.70h1M55 650.23h1M92 650.23h1" stroke="#fcfcfc" stroke-width="4.59" fill="none"/>
</g>
<path d="M96.20 466.50L96.20 652.50" stroke="#4a4a4a" stroke-width="1.1"/>
<path d="M129.50 466.50L129.50 652.50" stroke="#4a4a4a" stroke-width="1.1"/>
<path d="M149.60 466.50L149.60 652.50" stroke="#4a4a4a" stroke-width="1.1"/>
<path d="M164.40 466.50L164.40 652.50" stroke="#4a4a4a" stroke-width="1.1"/>
<path d="M177.80 466.50L177.80 652.50" stroke="#4a4a4a" stroke-width="1.1"/>
<path d="M184.20 466.50L184.20 652.50" stroke="#4a4a4a" stroke-width="1.1"/>
<path d="M190.90 466.50L190.90 652.50" stroke="#4a4a4a" stroke-width="1.1"/>
<path d="M196.70 466.50L196.70 652.50" stroke="#4a4a4a" stroke-width="1.1"/>
<path d="M202.30 466.50L202.30 652.50" stroke="#5a5a5a" stroke-width="1.0"/>
<text x="203.6" y="471.6" font-size="7.4" stroke="#000" stroke-width="0.05">Meg3</text>
<text x="203.6" y="480.7" font-size="7.4" stroke="#000" stroke-width="0.05">Mllt3</text>
<text x="203.6" y="489.7" font-size="7.4" stroke="#000" stroke-width="0.05">Pdzk1ip1</text>
<text x="203.6" y="498.8" font-size="7.4" stroke="#000" stroke-width="0.05">Cdkn1c</text>
<text x="203.6" y="507.9" font-size="7.4" stroke="#000" stroke-width="0.05">Pik3r1</text>
<text x="203.6" y="517.0" font-size="7.4" stroke="#000" stroke-width="0.05">Hacd4</text>
<text x="203.6" y="526.0" font-size="7.4" stroke="#000" stroke-width="0.05">Cldn5</text>
<text x="203.6" y="535.1" font-size="7.4" stroke="#000" stroke-width="0.05">St8sia4</text>
<text x="203.6" y="544.2" font-size="7.4" stroke="#000" stroke-width="0.05">Sult1a1</text>
<text x="203.6" y="553.2" font-size="7.4" stroke="#000" stroke-width="0.05">Mettl7a1</text>
<text x="203.6" y="562.3" font-size="7.4" stroke="#000" stroke-width="0.05">Xbp1</text>
<text x="203.6" y="571.4" font-size="7.4" stroke="#000" stroke-width="0.05">Slfn2</text>
<text x="203.6" y="580.4" font-size="7.4" stroke="#000" stroke-width="0.05">Gmfg</text>
<text x="203.6" y="588.7" font-size="6.4" stroke="#000" stroke-width="0.05" textLength="28.5" lengthAdjust="spacingAndGlyphs">Arhgap30</text>
<text x="203.6" y="598.6" font-size="7.4" stroke="#000" stroke-width="0.05">Crip1</text>
<text x="203.6" y="607.7" font-size="7.4" stroke="#000" stroke-width="0.05">Sox4</text>
<text x="203.6" y="616.7" font-size="7.4" stroke="#000" stroke-width="0.05">Rgs1</text>
<text x="203.6" y="625.8" font-size="7.4" stroke="#000" stroke-width="0.05">Myc</text>
<text x="203.6" y="634.9" font-size="7.4" stroke="#000" stroke-width="0.05">Sdsl</text>
<text x="203.6" y="643.9" font-size="7.4" stroke="#000" stroke-width="0.05">Snhg4</text>
<text x="203.6" y="653.0" font-size="7.4" stroke="#000" stroke-width="0.05">Ifi27</text>
<text x="231.3" y="475.5" font-size="7.4" stroke="#000" stroke-width="0.05">Rian</text>
<text x="231.3" y="484.6" font-size="7.4" stroke="#000" stroke-width="0.05">Ifitm1</text>
<text x="231.3" y="493.7" font-size="7.4" stroke="#000" stroke-width="0.05">Ltb</text>
<text x="231.3" y="502.8" font-size="7.4" stroke="#000" stroke-width="0.05">Chil5</text>
<text x="231.3" y="511.9" font-size="7.4" stroke="#000" stroke-width="0.05">Igf1</text>
<text x="231.3" y="521.0" font-size="7.4" stroke="#000" stroke-width="0.05">Ly6a</text>
<text x="231.3" y="530.1" font-size="7.4" stroke="#000" stroke-width="0.05">Procr</text>
<text x="231.3" y="539.2" font-size="7.4" stroke="#000" stroke-width="0.05">Gimap6</text>
<text x="231.3" y="548.3" font-size="7.4" stroke="#000" stroke-width="0.05">Wfdc2</text>
<text x="231.3" y="557.4" font-size="7.4" stroke="#000" stroke-width="0.05">1810073O08Rik</text>
<text x="231.3" y="566.5" font-size="7.4" stroke="#000" stroke-width="0.05">Nfkbia</text>
<text x="231.3" y="575.6" font-size="7.4" stroke="#000" stroke-width="0.05">Ctla2a</text>
<text x="231.3" y="584.7" font-size="7.4" stroke="#000" stroke-width="0.05">Cmtm7</text>
<text x="231.3" y="593.8" font-size="7.4" stroke="#000" stroke-width="0.05">Plac8</text>
<text x="231.3" y="602.9" font-size="7.4" stroke="#000" stroke-width="0.05">Ramp1</text>
<text x="231.3" y="612.0" font-size="7.4" stroke="#000" stroke-width="0.05">Cd34</text>
<text x="231.3" y="621.1" font-size="7.4" stroke="#000" stroke-width="0.05">Vim</text>
<text x="231.3" y="630.2" font-size="7.4" stroke="#000" stroke-width="0.05">Igfbp4</text>
<text x="231.3" y="639.3" font-size="7.4" stroke="#000" stroke-width="0.05">Muc13</text>
<text x="231.3" y="648.4" font-size="7.4" stroke="#000" stroke-width="0.05">Cdk6</text>
<path d="M202.60 473.30L230.80 473.30" stroke="#3a3a3a" stroke-width="0.7" stroke-dasharray="1.2 0.6"/>
<path d="M202.60 482.37L230.80 482.37" stroke="#3a3a3a" stroke-width="0.7" stroke-dasharray="1.2 0.6"/>
<path d="M202.60 491.44L230.80 491.44" stroke="#3a3a3a" stroke-width="0.7" stroke-dasharray="1.2 0.6"/>
<path d="M202.60 500.51L230.80 500.51" stroke="#3a3a3a" stroke-width="0.7" stroke-dasharray="1.2 0.6"/>
<path d="M202.60 509.58L230.80 509.58" stroke="#3a3a3a" stroke-width="0.7" stroke-dasharray="1.2 0.6"/>
<path d="M202.60 518.65L230.80 518.65" stroke="#3a3a3a" stroke-width="0.7" stroke-dasharray="1.2 0.6"/>
<path d="M202.60 527.72L230.80 527.72" stroke="#3a3a3a" stroke-width="0.7" stroke-dasharray="1.2 0.6"/>
<path d="M202.60 536.79L230.80 536.79" stroke="#3a3a3a" stroke-width="0.7" stroke-dasharray="1.2 0.6"/>
<path d="M202.60 545.86L230.80 545.86" stroke="#3a3a3a" stroke-width="0.7" stroke-dasharray="1.2 0.6"/>
<path d="M202.60 554.93L230.80 554.93" stroke="#3a3a3a" stroke-width="0.7" stroke-dasharray="1.2 0.6"/>
<path d="M202.60 564.00L230.80 564.00" stroke="#3a3a3a" stroke-width="0.7" stroke-dasharray="1.2 0.6"/>
<path d="M202.60 573.07L230.80 573.07" stroke="#3a3a3a" stroke-width="0.7" stroke-dasharray="1.2 0.6"/>
<path d="M202.60 582.14L230.80 582.14" stroke="#3a3a3a" stroke-width="0.7" stroke-dasharray="1.2 0.6"/>
<path d="M202.60 591.21L230.80 591.21" stroke="#3a3a3a" stroke-width="0.7" stroke-dasharray="1.2 0.6"/>
<path d="M202.60 600.28L230.80 600.28" stroke="#3a3a3a" stroke-width="0.7" stroke-dasharray="1.2 0.6"/>
<path d="M202.60 609.35L230.80 609.35" stroke="#3a3a3a" stroke-width="0.7" stroke-dasharray="1.2 0.6"/>
<path d="M202.60 618.42L230.80 618.42" stroke="#3a3a3a" stroke-width="0.7" stroke-dasharray="1.2 0.6"/>
<path d="M202.60 627.49L230.80 627.49" stroke="#3a3a3a" stroke-width="0.7" stroke-dasharray="1.2 0.6"/>
<path d="M202.60 636.56L230.80 636.56" stroke="#3a3a3a" stroke-width="0.7" stroke-dasharray="1.2 0.6"/>
<path d="M202.60 645.63L230.80 645.63" stroke="#3a3a3a" stroke-width="0.7" stroke-dasharray="1.2 0.6"/>
<linearGradient id="gJ" x1="0" x2="1" y1="0" y2="0"><stop offset="0" stop-color="#0000ff"/><stop offset="0.5" stop-color="#ffffff"/><stop offset="1" stop-color="#ff0000"/></linearGradient>
<rect x="85.80" y="658.70" width="53.40" height="10.50" fill="url(#gJ)"/>
<text x="91.5" y="676.9" font-size="7.8" text-anchor="middle" textLength="6.6" lengthAdjust="spacingAndGlyphs" stroke="#000" stroke-width="0.05">−2</text>
<text x="101.3" y="676.9" font-size="7.8" text-anchor="middle" textLength="6.6" lengthAdjust="spacingAndGlyphs" stroke="#000" stroke-width="0.05">−1</text>
<text x="113.6" y="676.9" font-size="7.8" text-anchor="middle" stroke="#000" stroke-width="0.05">0</text>
<text x="123.1" y="676.9" font-size="7.8" text-anchor="middle" stroke="#000" stroke-width="0.05">1</text>
<text x="134.6" y="676.9" font-size="7.8" text-anchor="middle" stroke="#000" stroke-width="0.05">2</text>
<rect x="307.50" y="475.60" width="15.55" height="12.66" fill="#ffafb4" stroke="#8a8a8a" stroke-width="0.8"/>
<rect x="323.05" y="475.60" width="15.55" height="12.66" fill="#ffcdd0" stroke="#8a8a8a" stroke-width="0.8"/>
<rect x="338.60" y="475.60" width="15.55" height="12.66" fill="#a0a0fa" stroke="#8a8a8a" stroke-width="0.8"/>
<rect x="354.15" y="475.60" width="15.55" height="12.66" fill="#ffd7da" stroke="#8a8a8a" stroke-width="0.8"/>
<rect x="369.70" y="475.60" width="15.55" height="12.66" fill="#7d7dfa" stroke="#8a8a8a" stroke-width="0.8"/>
<rect x="385.25" y="475.60" width="15.55" height="12.66" fill="#ebebfc" stroke="#8a8a8a" stroke-width="0.8"/>
<rect x="400.80" y="475.60" width="15.55" height="12.66" fill="#bebefa" stroke="#8a8a8a" stroke-width="0.8"/>
<rect x="416.35" y="475.60" width="15.55" height="12.66" fill="#afaffa" stroke="#8a8a8a" stroke-width="0.8"/>
<rect x="307.50" y="488.26" width="15.55" height="12.66" fill="#fffaf8" stroke="#8a8a8a" stroke-width="0.8"/>
<rect x="323.05" y="488.26" width="15.55" height="12.66" fill="#ffd7da" stroke="#8a8a8a" stroke-width="0.8"/>
<rect x="338.60" y="488.26" width="15.55" height="12.66" fill="#e1e1fc" stroke="#8a8a8a" stroke-width="0.8"/>
<rect x="354.15" y="488.26" width="15.55" height="12.66" fill="#ffe1e4" stroke="#8a8a8a" stroke-width="0.8"/>
<rect x="369.70" y="488.26" width="15.55" height="12.66" fill="#a0a0fa" stroke="#8a8a8a" stroke-width="0.8"/>
<rect x="385.25" y="488.26" width="15.55" height="12.66" fill="#bebefa" stroke="#8a8a8a" stroke-width="0.8"/>
<rect x="400.80" y="488.26" width="15.55" height="12.66" fill="#cdcdfa" stroke="#8a8a8a" stroke-width="0.8"/>
<rect x="416.35" y="488.26" width="15.55" height="12.66" fill="#d7d7fc" stroke="#8a8a8a" stroke-width="0.8"/>
<rect x="307.50" y="500.92" width="15.55" height="12.66" fill="#ffe1e4" stroke="#8a8a8a" stroke-width="0.8"/>
<rect x="323.05" y="500.92" width="15.55" height="12.66" fill="#d2d2fc" stroke="#8a8a8a" stroke-width="0.8"/>
<rect x="338.60" y="500.92" width="15.55" height="12.66" fill="#ffdcde" stroke="#8a8a8a" stroke-width="0.8"/>
<rect x="354.15" y="500.92" width="15.55" height="12.66" fill="#f8f8ff" stroke="#8a8a8a" stroke-width="0.8"/>
<rect x="369.70" y="500.92" width="15.55" height="12.66" fill="#d7d7fc" stroke="#8a8a8a" stroke-width="0.8"/>
<rect x="385.25" y="500.92" width="15.55" height="12.66" fill="#bebefa" stroke="#8a8a8a" stroke-width="0.8"/>
<rect x="400.80" y="500.92" width="15.55" height="12.66" fill="#b9b9fa" stroke="#8a8a8a" stroke-width="0.8"/>
<rect x="416.35" y="500.92" width="15.55" height="12.66" fill="#d2d2fc" stroke="#8a8a8a" stroke-width="0.8"/>
<rect x="307.50" y="513.58" width="15.55" height="12.66" fill="#b4b4fa" stroke="#8a8a8a" stroke-width="0.8"/>
<rect x="323.05" y="513.58" width="15.55" height="12.66" fill="#d7d7fc" stroke="#8a8a8a" stroke-width="0.8"/>
<rect x="338.60" y="513.58" width="15.55" height="12.66" fill="#cdcdfc" stroke="#8a8a8a" stroke-width="0.8"/>
<rect x="354.15" y="513.58" width="15.55" height="12.66" fill="#b9b9fa" stroke="#8a8a8a" stroke-width="0.8"/>
<rect x="369.70" y="513.58" width="15.55" height="12.66" fill="#fff8f5" stroke="#8a8a8a" stroke-width="0.8"/>
<rect x="385.25" y="513.58" width="15.55" height="12.66" fill="#ffb9bc" stroke="#8a8a8a" stroke-width="0.8"/>
<rect x="400.80" y="513.58" width="15.55" height="12.66" fill="#f8f8ff" stroke="#8a8a8a" stroke-width="0.8"/>
<rect x="416.35" y="513.58" width="15.55" height="12.66" fill="#c8c8fa" stroke="#8a8a8a" stroke-width="0.8"/>
<rect x="307.50" y="526.24" width="15.55" height="12.66" fill="#aaaafa" stroke="#8a8a8a" stroke-width="0.8"/>
<rect x="323.05" y="526.24" width="15.55" height="12.66" fill="#e1e1fc" stroke="#8a8a8a" stroke-width="0.8"/>
<rect x="338.60" y="526.24" width="15.55" height="12.66" fill="#bebefa" stroke="#8a8a8a" stroke-width="0.8"/>
<rect x="354.15" y="526.24" width="15.55" height="12.66" fill="#bebefa" stroke="#8a8a8a" stroke-width="0.8"/>
<rect x="369.70" y="526.24" width="15.55" height="12.66" fill="#ffbec0" stroke="#8a8a8a" stroke-width="0.8"/>
<rect x="385.25" y="526.24" width="15.55" height="12.66" fill="#d7d7fc" stroke="#8a8a8a" stroke-width="0.8"/>
<rect x="400.80" y="526.24" width="15.55" height="12.66" fill="#ebebfc" stroke="#8a8a8a" stroke-width="0.8"/>
<rect x="416.35" y="526.24" width="15.55" height="12.66" fill="#ffb9bc" stroke="#8a8a8a" stroke-width="0.8"/>
<rect x="307.50" y="538.90" width="15.55" height="12.66" fill="#c3c3fa" stroke="#8a8a8a" stroke-width="0.8"/>
<rect x="323.05" y="538.90" width="15.55" height="12.66" fill="#fafaff" stroke="#8a8a8a" stroke-width="0.8"/>
<rect x="338.60" y="538.90" width="15.55" height="12.66" fill="#9696fa" stroke="#8a8a8a" stroke-width="0.8"/>
<rect x="354.15" y="538.90" width="15.55" height="12.66" fill="#dcdcfc" stroke="#8a8a8a" stroke-width="0.8"/>
<rect x="369.70" y="538.90" width="15.55" height="12.66" fill="#fff5f2" stroke="#8a8a8a" stroke-width="0.8"/>
<rect x="385.25" y="538.90" width="15.55" height="12.66" fill="#f8f8ff" stroke="#8a8a8a" stroke-width="0.8"/>
<rect x="400.80" y="538.90" width="15.55" height="12.66" fill="#fff5f2" stroke="#8a8a8a" stroke-width="0.8"/>
<rect x="416.35" y="538.90" width="15.55" height="12.66" fill="#fff8f5" stroke="#8a8a8a" stroke-width="0.8"/>
<rect x="307.50" y="551.56" width="15.55" height="12.66" fill="#c8c8fa" stroke="#8a8a8a" stroke-width="0.8"/>
<rect x="323.05" y="551.56" width="15.55" height="12.66" fill="#e1e1fc" stroke="#8a8a8a" stroke-width="0.8"/>
<rect x="338.60" y="551.56" width="15.55" height="12.66" fill="#c8c8fa" stroke="#8a8a8a" stroke-width="0.8"/>
<rect x="354.15" y="551.56" width="15.55" height="12.66" fill="#dcdcfc" stroke="#8a8a8a" stroke-width="0.8"/>
<rect x="369.70" y="551.56" width="15.55" height="12.66" fill="#fafaff" stroke="#8a8a8a" stroke-width="0.8"/>
<rect x="385.25" y="551.56" width="15.55" height="12.66" fill="#fafaff" stroke="#8a8a8a" stroke-width="0.8"/>
<rect x="400.80" y="551.56" width="15.55" height="12.66" fill="#ebebfc" stroke="#8a8a8a" stroke-width="0.8"/>
<rect x="416.35" y="551.56" width="15.55" height="12.66" fill="#fff5f2" stroke="#8a8a8a" stroke-width="0.8"/>
<rect x="307.50" y="564.22" width="15.55" height="12.66" fill="#afaffa" stroke="#8a8a8a" stroke-width="0.8"/>
<rect x="323.05" y="564.22" width="15.55" height="12.66" fill="#c3c3fa" stroke="#8a8a8a" stroke-width="0.8"/>
<rect x="338.60" y="564.22" width="15.55" height="12.66" fill="#3232f5" stroke="#8a8a8a" stroke-width="0.8"/>
<rect x="354.15" y="564.22" width="15.55" height="12.66" fill="#9696fa" stroke="#8a8a8a" stroke-width="0.8"/>
<rect x="369.70" y="564.22" width="15.55" height="12.66" fill="#ffe1e1" stroke="#8a8a8a" stroke-width="0.8"/>
<rect x="385.25" y="564.22" width="15.55" height="12.66" fill="#f50000" stroke="#8a8a8a" stroke-width="0.8"/>
<rect x="400.80" y="564.22" width="15.55" height="12.66" fill="#ffebe6" stroke="#8a8a8a" stroke-width="0.8"/>
<rect x="416.35" y="564.22" width="15.55" height="12.66" fill="#e6e6fc" stroke="#8a8a8a" stroke-width="0.8"/>
<rect x="307.50" y="576.88" width="15.55" height="12.66" fill="#9191fa" stroke="#8a8a8a" stroke-width="0.8"/>
<rect x="323.05" y="576.88" width="15.55" height="12.66" fill="#c3c3fa" stroke="#8a8a8a" stroke-width="0.8"/>
<rect x="338.60" y="576.88" width="15.55" height="12.66" fill="#0000f5" stroke="#8a8a8a" stroke-width="0.8"/>
<rect x="354.15" y="576.88" width="15.55" height="12.66" fill="#8282fa" stroke="#8a8a8a" stroke-width="0.8"/>
<rect x="369.70" y="576.88" width="15.55" height="12.66" fill="#ffd2d2" stroke="#8a8a8a" stroke-width="0.8"/>
<rect x="385.25" y="576.88" width="15.55" height="12.66" fill="#f00a0a" stroke="#8a8a8a" stroke-width="0.8"/>
<rect x="400.80" y="576.88" width="15.55" height="12.66" fill="#fa8c8c" stroke="#8a8a8a" stroke-width="0.8"/>
<rect x="416.35" y="576.88" width="15.55" height="12.66" fill="#d2d2fc" stroke="#8a8a8a" stroke-width="0.8"/>
<rect x="307.50" y="589.54" width="15.55" height="12.66" fill="#dcdcfc" stroke="#8a8a8a" stroke-width="0.8"/>
<rect x="323.05" y="589.54" width="15.55" height="12.66" fill="#eeeeff" stroke="#8a8a8a" stroke-width="0.8"/>
<rect x="338.60" y="589.54" width="15.55" height="12.66" fill="#4b4bf5" stroke="#8a8a8a" stroke-width="0.8"/>
<rect x="354.15" y="589.54" width="15.55" height="12.66" fill="#d2d2fc" stroke="#8a8a8a" stroke-width="0.8"/>
<rect x="369.70" y="589.54" width="15.55" height="12.66" fill="#ffebe8" stroke="#8a8a8a" stroke-width="0.8"/>
<rect x="385.25" y="589.54" width="15.55" height="12.66" fill="#ffe1e1" stroke="#8a8a8a" stroke-width="0.8"/>
<rect x="400.80" y="589.54" width="15.55" height="12.66" fill="#ffebe8" stroke="#8a8a8a" stroke-width="0.8"/>
<rect x="416.35" y="589.54" width="15.55" height="12.66" fill="#fafaff" stroke="#8a8a8a" stroke-width="0.8"/>
<rect x="307.50" y="602.20" width="15.55" height="12.66" fill="#c3c3fa" stroke="#8a8a8a" stroke-width="0.8"/>
<rect x="323.05" y="602.20" width="15.55" height="12.66" fill="#eeeeff" stroke="#8a8a8a" stroke-width="0.8"/>
<rect x="338.60" y="602.20" width="15.55" height="12.66" fill="#3737f5" stroke="#8a8a8a" stroke-width="0.8"/>
<rect x="354.15" y="602.20" width="15.55" height="12.66" fill="#a5a5fa" stroke="#8a8a8a" stroke-width="0.8"/>
<rect x="369.70" y="602.20" width="15.55" height="12.66" fill="#e6e6fc" stroke="#8a8a8a" stroke-width="0.8"/>
<rect x="385.25" y="602.20" width="15.55" height="12.66" fill="#fa8c91" stroke="#8a8a8a" stroke-width="0.8"/>
<rect x="400.80" y="602.20" width="15.55" height="12.66" fill="#ffcdd0" stroke="#8a8a8a" stroke-width="0.8"/>
<rect x="416.35" y="602.20" width="15.55" height="12.66" fill="#fafaff" stroke="#8a8a8a" stroke-width="0.8"/>
<path d="M307.5 474.7V465.3H369.1V474.7M369.9 474.7V465.3H431.9V474.7" stroke="#000" stroke-width="0.9" fill="none"/>
<text x="338.4" y="473.2" font-size="7.8" text-anchor="middle" font-style="italic" stroke="#000" stroke-width="0.05">Igf2bp2<tspan font-size="4.4" dy="-2.8">−/−</tspan></text>
<text x="400.6" y="473.2" font-size="7.8" text-anchor="middle" font-style="italic" stroke="#000" stroke-width="0.05">Igf2bp2<tspan font-size="4.4" dy="-2.8">+/+</tspan></text>
<text x="434.1" y="484.6" font-size="7.4" stroke="#000" stroke-width="0.05">Cd34</text>
<text x="434.1" y="497.3" font-size="7.4" stroke="#000" stroke-width="0.05">Arhgap30</text>
<text x="434.1" y="509.9" font-size="7.4" stroke="#000" stroke-width="0.05">Cdk6</text>
<text x="434.1" y="522.6" font-size="7.4" stroke="#000" stroke-width="0.05">Cldn5</text>
<text x="434.1" y="535.3" font-size="7.4" stroke="#000" stroke-width="0.05">Igf1</text>
<text x="434.1" y="547.9" font-size="7.4" stroke="#000" stroke-width="0.05">Mllt3</text>
<text x="434.1" y="560.6" font-size="7.4" stroke="#000" stroke-width="0.05">Chil5</text>
<text x="434.1" y="573.3" font-size="7.4" stroke="#000" stroke-width="0.05">Sult1a1</text>
<text x="434.1" y="585.9" font-size="7.4" stroke="#000" stroke-width="0.05">Ifitm1</text>
<text x="434.1" y="598.6" font-size="7.4" stroke="#000" stroke-width="0.05">Pdzk1ip1</text>
<text x="434.1" y="611.2" font-size="7.4" stroke="#000" stroke-width="0.05">Ly6a</text>
<path d="M468.90 479.10L468.90 508.80" stroke="#3b8fd0" stroke-width="1.5"/>
<path d="M468.90 517.90L468.90 611.30" stroke="#ef3340" stroke-width="1.5"/>
<text x="471.6" y="494.7" font-size="8.2" fill="#2f86c9" textLength="41.5" lengthAdjust="spacingAndGlyphs" stroke="#2f86c9" stroke-width="0.05">Depleted in</text>
<text x="471.6" y="502.9" font-size="8.2" fill="#2f86c9" stroke="#2f86c9" stroke-width="0.05">Cluster 3</text>
<text x="471.6" y="562.3" font-size="8.2" fill="#ef3340" textLength="39.3" lengthAdjust="spacingAndGlyphs" stroke="#ef3340" stroke-width="0.05">Enriched in</text>
<text x="471.6" y="570.2" font-size="8.2" fill="#ef3340" stroke="#ef3340" stroke-width="0.05">Cluster 3</text>
<linearGradient id="gK" x1="0" x2="1" y1="0" y2="0"><stop offset="0" stop-color="#0000ff"/><stop offset="0.5" stop-color="#ffffff"/><stop offset="1" stop-color="#ff0000"/></linearGradient>
<rect x="318.80" y="628.50" width="102.50" height="7.00" fill="url(#gK)"/>
<text x="341.5" y="643.1" font-size="7.4" text-anchor="middle" stroke="#000" stroke-width="0.05">−0.5</text>
<text x="369.6" y="643.1" font-size="7.4" text-anchor="middle" stroke="#000" stroke-width="0.05">0</text>
<text x="393.7" y="643.1" font-size="7.4" text-anchor="middle" stroke="#000" stroke-width="0.05">0.5</text>
<text x="419.8" y="643.1" font-size="7.4" text-anchor="middle" stroke="#000" stroke-width="0.05">1</text>
</svg></div>
<svg style="position:absolute;left:0;top:0" width="520" height="684"><rect x="0" y="0" width="520" height="1.1" fill="#000"/><rect x="0" y="0" width="1.2" height="684" fill="#000"/><rect x="518.8" y="0" width="1.2" height="684" fill="#000"/><rect x="0" y="682.8" width="520" height="1.2" fill="#000"/></svg>
</body></html>
